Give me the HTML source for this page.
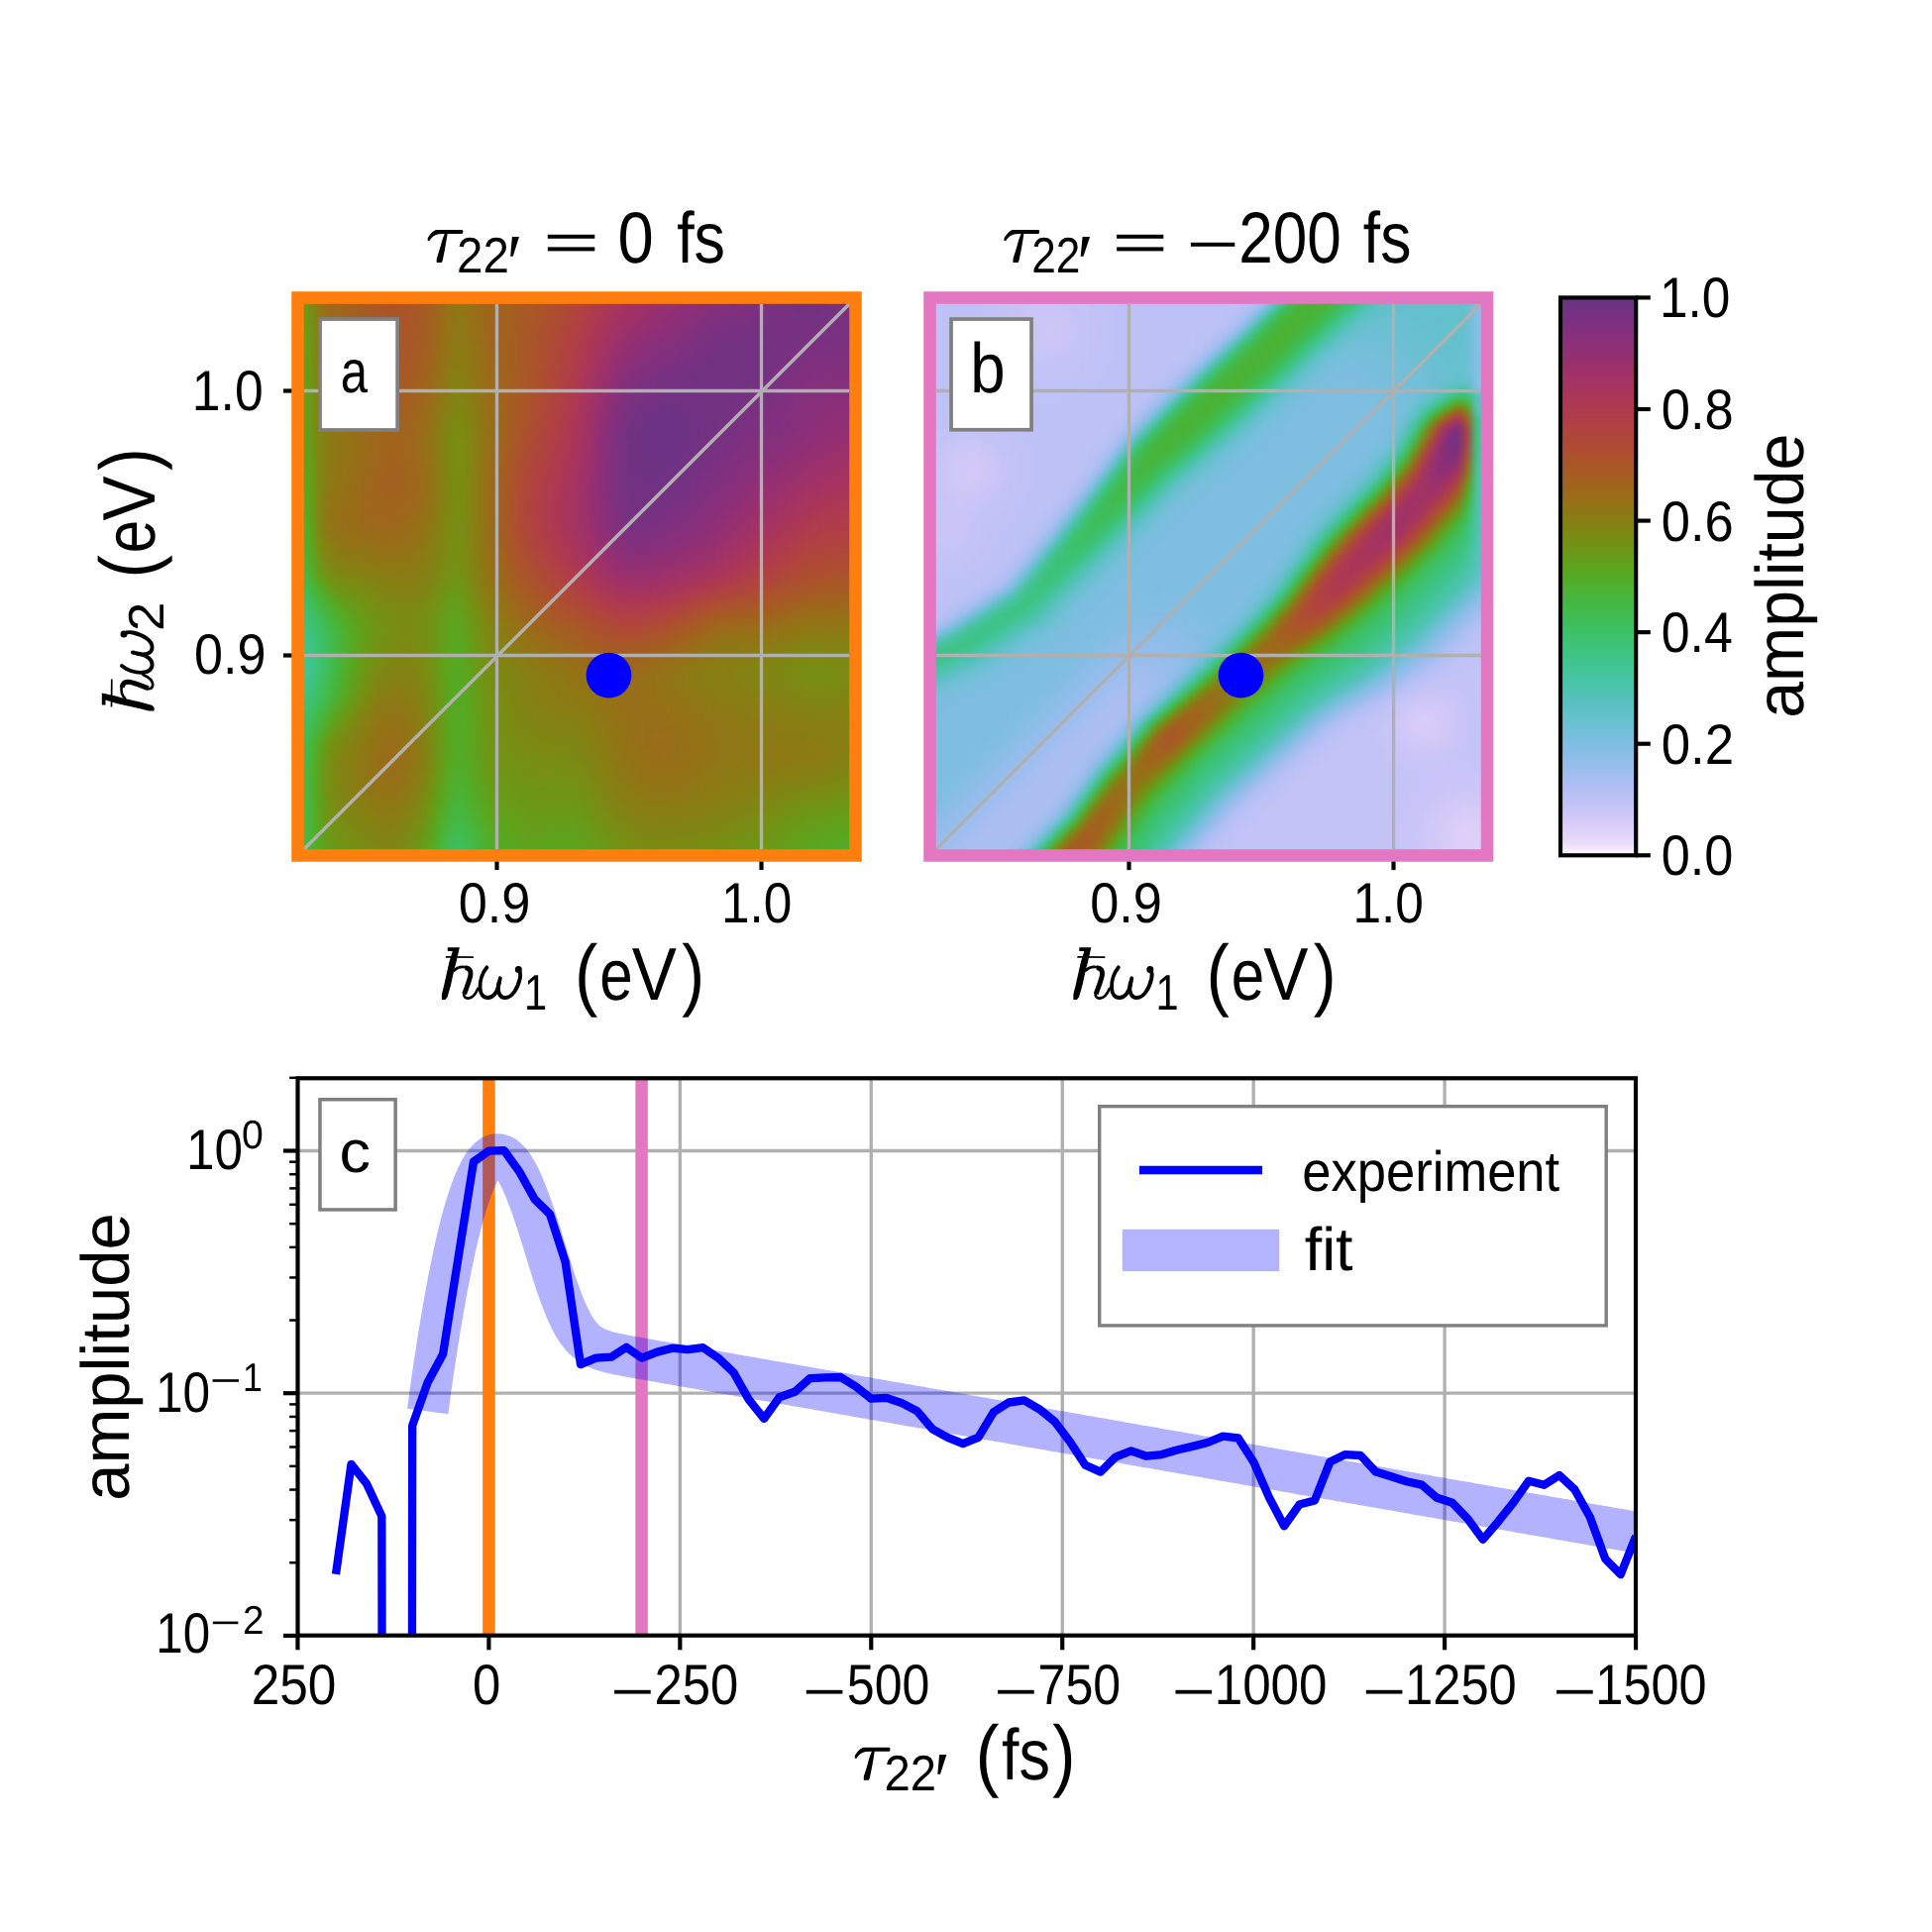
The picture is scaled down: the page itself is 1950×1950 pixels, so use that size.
<!DOCTYPE html><html><head><meta charset="utf-8"><title>figure</title><style>
html,body{margin:0;padding:0;background:#fff}
#fig{position:relative;width:1950px;height:1950px;background:#fff;overflow:hidden}
.hw{position:absolute;top:296px;width:572px;height:572px;overflow:hidden}
.hm{position:absolute;left:-2px;top:-2px;width:576px;height:576px;filter:blur(2.2px)}
.hm i{display:block;height:6px}
svg{position:absolute;left:0;top:0;opacity:0.999}
</style></head><body><div id="fig">
<div class="hw" style="left:296px"><div class="hm"><i style="background:linear-gradient(90deg,#5da41d,#5fa21c,#739215,#8c7a14,#996c19,#9e661c,#a1631e,#a36020,#a55c23,#a85926,#aa5628,#ab542a,#ab542a,#aa5529,#a85826,#a65c23,#a1631e,#996c19,#927416,#907615,#947216,#9a6b19,#9e661c,#a1631e,#a36020,#a55e22,#a65b24,#a85826,#aa5529,#ac512d,#ad4e31,#af4a35,#af463b,#b04241,#af3e49,#ad3a50,#aa3757,#a7345d,#a43362,#a13266,#9e3169,#9c316c,#99306e,#963071,#933074,#8f2f76,#8c2f78,#882f7a,#862f7c,#83307d,#82307d,#80307e,#7e307f,#7c3080,#7a3080,#773181,#743182,#723182,#713283,#723182,#733182,#753182,#773181,#783181,#793181)"></i><i style="background:linear-gradient(90deg,#5da41d,#5ea31c,#729215,#8c7b14,#996c19,#9e661c,#a1631e,#a36020,#a55c23,#a85926,#aa5628,#ab542a,#ab542a,#aa5529,#a85826,#a65c23,#a1631e,#996c19,#927416,#907615,#947216,#9a6b19,#9e661c,#a1631e,#a36020,#a55d22,#a75b24,#a85826,#aa5529,#ac512d,#ad4e31,#af4a36,#af463b,#b04142,#af3d49,#ad3951,#aa3658,#a7345e,#a33363,#a13267,#9e316a,#9b316c,#99306f,#953071,#922f74,#8f2f76,#8b2f79,#882f7a,#85307c,#83307d,#81307e,#7f307e,#7e307f,#7c3080,#793180,#773181,#753182,#733182,#723182,#723182,#733182,#753182,#773181,#793181,#793181)"></i><i style="background:linear-gradient(90deg,#5ca51e,#5da41d,#719315,#8b7b14,#996c19,#9e671c,#a0641d,#a36020,#a55d22,#a85926,#aa5628,#ab542a,#ab542a,#aa5529,#a85826,#a55c23,#a1631e,#996c19,#927416,#907615,#947216,#9a6c19,#9e661c,#a1631e,#a36020,#a55d22,#a75b24,#a95727,#aa542a,#ac502e,#ae4d32,#af4937,#b0453c,#b04143,#ae3c4b,#ac3952,#a9365a,#a63460,#a23265,#9f3168,#9c316b,#9a306e,#973070,#943073,#902f75,#8d2f78,#892f7a,#862f7b,#83307d,#81307e,#80307e,#7e307f,#7d307f,#7b3080,#793181,#773181,#753182,#733182,#723182,#733182,#743182,#763182,#773181,#793181,#793181)"></i><i style="background:linear-gradient(90deg,#5ba61f,#5ca51e,#709415,#8b7c14,#996d18,#9e671b,#a0641d,#a2611f,#a55d22,#a85925,#a95628,#aa542a,#ab542a,#aa5529,#a85826,#a55c22,#a0631e,#996d19,#917515,#8f7715,#937316,#996c19,#9e671c,#a1631e,#a36020,#a55d22,#a75a24,#a95727,#ab532b,#ad502e,#ae4c33,#af4838,#b0443e,#af4045,#ae3b4d,#ab3854,#a8355c,#a43362,#a03267,#9d316a,#9a306d,#983070,#953072,#912f75,#8e2f77,#8b2f79,#872f7b,#84307c,#81307e,#7f307e,#7e307f,#7c307f,#7b3080,#7a3080,#783181,#773181,#753182,#743182,#733182,#743182,#753182,#763181,#783181,#793181,#793181)"></i><i style="background:linear-gradient(90deg,#59a71f,#5ba61e,#6f9516,#8a7c14,#986d18,#9d671b,#a0641d,#a2611f,#a55d22,#a85925,#a95628,#aa542a,#aa542a,#aa5529,#a85826,#a55d22,#a0641d,#996d18,#917515,#8f7715,#937316,#996c19,#9e671b,#a1631e,#a36020,#a55d22,#a75a25,#a95628,#ab532b,#ad4f2f,#ae4b34,#af4739,#b04340,#af3e47,#ad3a4f,#aa3757,#a7345e,#a23264,#9e3169,#9b306c,#98306f,#953072,#922f74,#8f2f76,#8c2f78,#882f7a,#85307c,#81307d,#7f307e,#7d307f,#7c3080,#7b3080,#7a3080,#793181,#773181,#763181,#753182,#753182,#743182,#753182,#763182,#773181,#783181,#793181,#793180)"></i><i style="background:linear-gradient(90deg,#58a820,#59a71f,#6e9616,#897d14,#986e18,#9d681b,#9f651d,#a2611f,#a55d22,#a75925,#a95628,#aa542a,#aa542a,#aa5628,#a85826,#a55d22,#a0641d,#986d18,#917515,#8f7815,#937316,#996d18,#9d671b,#a0631e,#a36020,#a55d22,#a75a25,#a95628,#ab522c,#ad4e30,#af4a35,#af463b,#b04142,#af3d49,#ad3951,#a93659,#a53361,#a03267,#9c316b,#99306f,#953071,#923074,#8f2f76,#8c2f78,#892f7a,#85307c,#82307d,#7f307f,#7c307f,#7b3080,#7a3080,#793181,#783181,#773181,#773181,#763181,#763182,#753182,#753182,#763181,#773181,#783181,#793181,#7a3080,#7a3080)"></i><i style="background:linear-gradient(90deg,#57a922,#58a820,#6d9716,#887e13,#976f18,#9c681b,#9f651d,#a2621f,#a55e22,#a75a25,#a95628,#aa542a,#aa542a,#aa5628,#a85926,#a55d22,#a0641d,#986e18,#907615,#8e7815,#927416,#986d18,#9d681b,#a0641d,#a36020,#a55d22,#a75925,#aa5529,#ac512d,#ae4d31,#af4937,#b0453d,#b04043,#ae3c4b,#ac3853,#a8355c,#a33363,#9e3169,#9a306e,#963071,#933074,#902f76,#8d2f78,#892f7a,#862f7b,#83307d,#7f307e,#7c307f,#7a3080,#793181,#783181,#773181,#763181,#763181,#763181,#763181,#763181,#763181,#773181,#773181,#783181,#793181,#793180,#7a3080,#7a3080)"></i><i style="background:linear-gradient(90deg,#56aa23,#57a922,#6c9817,#887f13,#976f17,#9c691a,#9f651c,#a1621e,#a45e21,#a75a25,#a95728,#aa5529,#aa5529,#a95628,#a85925,#a55e22,#9f651d,#986e18,#907615,#8e7914,#927416,#986e18,#9d681b,#a0641d,#a36020,#a55d22,#a85925,#aa5529,#ac512d,#ae4c32,#af4838,#b0443e,#af3f45,#ae3b4d,#ab3756,#a7345e,#a13266,#9c316c,#973070,#933073,#902f76,#8d2f78,#8a2f79,#862f7b,#83307d,#80307e,#7d307f,#7a3080,#783181,#773181,#763181,#753182,#753182,#753182,#753182,#763181,#773181,#773181,#783181,#783181,#793181,#7a3080,#7a3080,#7b3080,#7b3080)"></i><i style="background:linear-gradient(90deg,#54ab25,#56aa23,#6b9917,#877f13,#967017,#9c691a,#9e661c,#a1621e,#a45e21,#a75a24,#a95727,#aa5529,#aa5529,#a95628,#a75925,#a45e21,#9f651d,#976f18,#8f7715,#8d7914,#917515,#976e18,#9c681b,#a0641d,#a36020,#a55d22,#a85926,#aa5529,#ac502e,#ae4c33,#af4739,#b04340,#af3e47,#ad3a4f,#aa3658,#a53360,#9f3168,#9a306e,#953072,#912f75,#8d2f77,#8a2f79,#872f7b,#84307c,#81307e,#7d307f,#7a3080,#783181,#763181,#753182,#743182,#743182,#743182,#753182,#753182,#763181,#773181,#783181,#793181,#7a3080,#7a3080,#7b3080,#7b3080,#7b3080,#7b3080)"></i><i style="background:linear-gradient(90deg,#54ab25,#55aa24,#6a9917,#868013,#967017,#9b6a1a,#9e661c,#a1631e,#a45f21,#a75b24,#a95727,#aa5529,#aa5529,#a95727,#a75a25,#a45f21,#9f661c,#966f17,#8f7815,#8c7a14,#917615,#976f18,#9c691a,#a0641d,#a3611f,#a55d22,#a85926,#aa542a,#ad502e,#ae4b34,#af463a,#b04241,#af3d49,#ad3951,#a9365a,#a43363,#9d316a,#973070,#922f74,#8e2f77,#8a2f79,#872f7b,#84307c,#81307e,#7e307f,#7b3080,#793181,#763181,#753182,#743182,#733182,#733182,#743182,#743182,#753182,#773181,#783181,#793180,#7a3080,#7b3080,#7c3080,#7c3080,#7c307f,#7c307f,#7c307f)"></i><i style="background:linear-gradient(90deg,#54ab25,#56aa23,#6a9917,#868013,#957117,#9b6a1a,#9e671c,#a1631e,#a45f21,#a65b24,#a85826,#a95628,#a95628,#a85827,#a75b24,#a35f20,#9e671c,#967017,#8e7914,#8b7b14,#907615,#966f17,#9c691a,#9f651d,#a2611f,#a55d22,#a85926,#aa542a,#ad4f2f,#ae4b35,#af463b,#b04142,#af3d4a,#ac3853,#a8355c,#a23265,#9b316c,#953072,#8f2f76,#8b2f79,#872f7b,#84307c,#82307d,#7f307f,#7c3080,#793180,#773181,#753182,#743182,#733182,#733182,#733182,#733182,#743182,#763182,#773181,#793181,#7b3080,#7c3080,#7d307f,#7d307f,#7d307f,#7e307f,#7e307f,#7e307f)"></i><i style="background:linear-gradient(90deg,#55aa25,#56a923,#6a9917,#868013,#957117,#9b6a1a,#9e671b,#a0631e,#a36020,#a65c23,#a85826,#a95727,#a95727,#a85826,#a65b23,#a36020,#9d681b,#957117,#8d7a14,#8a7c14,#8f7715,#967017,#9b6a1a,#9f651d,#a2611f,#a55d22,#a85926,#ab542a,#ad4f2f,#af4a35,#b0453c,#b04143,#ae3c4b,#ab3854,#a7345e,#a03267,#99306e,#922f74,#8c2f78,#882f7a,#85307c,#82307d,#7f307e,#7d307f,#7a3080,#783181,#763182,#743182,#733182,#723182,#723182,#733182,#733182,#743182,#763181,#783181,#7a3080,#7c3080,#7d307f,#7e307f,#7f307f,#7f307e,#7f307e,#7f307e,#7f307e)"></i><i style="background:linear-gradient(90deg,#55aa24,#56a923,#6a9917,#858113,#957117,#9a6b19,#9d671b,#a0641d,#a36020,#a65c23,#a85925,#a95727,#a95727,#a85925,#a65c23,#a2611f,#9c691b,#947216,#8b7b14,#897d14,#8e7815,#957117,#9b6a1a,#9f651c,#a2611f,#a55d22,#a85926,#ab542a,#ad4f30,#af4a36,#b0453d,#af4044,#ae3b4d,#ab3756,#a63460,#9f3169,#973070,#902f76,#8a2f79,#85307c,#82307d,#7f307e,#7d307f,#7a3080,#783181,#763181,#753182,#733182,#733182,#723182,#723182,#733182,#743182,#753182,#773181,#793181,#7b3080,#7d307f,#7f307f,#80307e,#80307e,#81307e,#81307e,#81307e,#81307e)"></i><i style="background:linear-gradient(90deg,#55aa24,#56a923,#6a9917,#858113,#947216,#9a6b19,#9d681b,#a0641d,#a36020,#a55d22,#a75a25,#a85826,#a85826,#a75a24,#a55d22,#a1621e,#9b6a1a,#927416,#8a7c14,#887e13,#8d7914,#947117,#9a6b19,#9f661c,#a2611f,#a55d22,#a85826,#ab542a,#ad4e30,#af4936,#b0443d,#af3f45,#ae3b4e,#aa3758,#a53361,#9d316a,#953072,#8d2f77,#872f7b,#82307d,#7f307e,#7d307f,#7a3080,#783181,#773181,#753182,#743182,#733182,#723182,#723182,#733182,#733182,#743182,#763182,#783181,#7a3080,#7c307f,#7f307f,#80307e,#81307d,#82307d,#82307d,#82307d,#82307d,#82307d)"></i><i style="background:linear-gradient(90deg,#55aa24,#56a923,#6a9917,#858113,#947216,#9a6b19,#9d681b,#9f651d,#a2611f,#a55d22,#a75b24,#a85925,#a75925,#a65b24,#a45e21,#a1631e,#9a6b19,#917515,#897d14,#877f13,#8c7a14,#947216,#9a6b19,#9e661c,#a2621f,#a55d22,#a85826,#ab532b,#ad4e30,#af4937,#b0443e,#af3f46,#ad3a4f,#a93659,#a33363,#9b316c,#933074,#8a2f79,#84307c,#80307e,#7d307f,#7a3080,#783181,#773181,#753182,#743182,#733182,#723182,#723182,#723182,#733182,#743182,#753182,#763181,#783181,#7b3080,#7e307f,#80307e,#82307d,#83307d,#84307d,#84307c,#84307c,#84307c,#84307c)"></i><i style="background:linear-gradient(90deg,#55aa24,#56a923,#6a9917,#848213,#937316,#996c19,#9c691b,#9f651c,#a2621f,#a45e21,#a65b23,#a75a25,#a75a24,#a65c23,#a35f20,#a0641d,#996c19,#907615,#887f13,#868113,#8b7b14,#937316,#996c19,#9e661c,#a2621f,#a55d22,#a85826,#ab532b,#ad4e31,#af4837,#b0433f,#af3e47,#ad3a50,#a9365a,#a23264,#9a306e,#912f75,#882f7a,#81307d,#7d307f,#7a3080,#783181,#763181,#753182,#743182,#733182,#723182,#723182,#723182,#733182,#733182,#743182,#753182,#773181,#793180,#7c3080,#7f307f,#81307e,#83307d,#84307c,#85307c,#85307c,#862f7c,#862f7b,#862f7b)"></i><i style="background:linear-gradient(90deg,#55aa24,#56a923,#699a17,#838313,#937416,#996d18,#9c691a,#9e661c,#a1631e,#a45f20,#a55c23,#a65b24,#a65b23,#a55d22,#a36020,#9f651c,#986d18,#8f7715,#868013,#848213,#8a7c14,#927416,#996d19,#9e671b,#a2621f,#a55d22,#a85826,#ab532b,#ae4d31,#af4838,#b04340,#af3e48,#ad3951,#a8355c,#a13266,#98306f,#8f2f77,#862f7c,#7f307e,#7b3080,#783181,#763182,#743182,#733182,#723182,#723182,#723182,#723182,#723182,#733182,#743182,#753182,#763181,#783181,#7a3080,#7d307f,#80307e,#82307d,#84307c,#862f7b,#872f7b,#872f7b,#872f7b,#872f7b,#882f7b)"></i><i style="background:linear-gradient(90deg,#55aa24,#56a923,#699a17,#838313,#927516,#986e18,#9b6a1a,#9d671b,#a0641d,#a36020,#a55e22,#a65c23,#a55d22,#a45e21,#a2621f,#9e671c,#976f18,#8d7914,#858113,#838313,#897d14,#917515,#986d18,#9d671b,#a2621f,#a55d22,#a95727,#ab522c,#ae4d32,#af4739,#b04241,#af3d49,#ac3953,#a7355d,#a03267,#973070,#8d2f78,#84307d,#7d307f,#783181,#763182,#743182,#723182,#723182,#713283,#713283,#723183,#723182,#733182,#733182,#743182,#753182,#773181,#793181,#7b3080,#7e307f,#81307e,#83307d,#86307c,#872f7b,#882f7a,#892f7a,#892f7a,#892f7a,#892f7a)"></i><i style="background:linear-gradient(90deg,#55aa24,#56a922,#699a18,#828413,#917615,#976f17,#9a6b19,#9d681b,#9f651d,#a2611f,#a45f21,#a55d22,#a45e21,#a36020,#a1631e,#9d681b,#967017,#8c7a14,#838313,#818513,#887f13,#907615,#986e18,#9d671b,#a2621f,#a55c23,#a95727,#ac512d,#ae4c33,#af463a,#b04142,#af3d4a,#ac3854,#a7345e,#9f3168,#953072,#8b2f79,#82307d,#7b3080,#763181,#743182,#723182,#713283,#703283,#703283,#713283,#713283,#723182,#733182,#743182,#753182,#763181,#783181,#7a3080,#7c3080,#7f307e,#82307d,#84307c,#872f7b,#882f7a,#892f7a,#8a2f79,#8b2f79,#8b2f79,#8b2f79)"></i><i style="background:linear-gradient(90deg,#55aa24,#57a922,#699a18,#818513,#8f7715,#957017,#996d18,#9b6a1a,#9e661c,#a1631e,#a36020,#a45f21,#a45f21,#a2611f,#a0641d,#9c691a,#957117,#8a7c14,#818413,#808613,#868013,#907715,#976e18,#9d681b,#a2621f,#a65c23,#a95628,#ac502e,#ae4b34,#af463b,#b04143,#ae3c4b,#ab3855,#a6345f,#9e316a,#943073,#892f7a,#80307e,#793181,#753182,#723182,#703283,#703283,#6f3283,#703283,#703283,#713283,#723182,#733182,#743182,#763182,#773181,#793181,#7b3080,#7d307f,#80307e,#83307d,#85307c,#882f7b,#892f7a,#8b2f79,#8c2f78,#8c2f78,#8d2f78,#8d2f77)"></i><i style="background:linear-gradient(90deg,#55aa24,#57a922,#689b18,#808613,#8e7815,#947216,#976e18,#9a6b19,#9d671b,#a0641d,#a2611f,#a36020,#a36020,#a1621e,#9f661c,#9a6b19,#937316,#897d14,#808613,#7e8713,#858113,#8f7815,#976f17,#9d681b,#a2621f,#a65b23,#aa5529,#ad502f,#af4a35,#b0453c,#af4044,#ae3b4d,#ab3756,#a53360,#9d316b,#933074,#882f7a,#7e307f,#773181,#733182,#703283,#6f3283,#6e3283,#6e3283,#6f3283,#703283,#713283,#733182,#743182,#753182,#773181,#783181,#7a3080,#7c3080,#7e307f,#81307e,#84307c,#862f7b,#882f7a,#8a2f79,#8c2f78,#8d2f77,#8e2f77,#8f2f76,#8f2f76)"></i><i style="background:linear-gradient(90deg,#56aa23,#57a922,#689b18,#7f8713,#8d7914,#937316,#967017,#996c19,#9c691a,#9f651c,#a1631e,#a2611f,#a2621f,#a0641d,#9e671c,#996c19,#927416,#887f13,#7e8713,#7d8913,#848213,#8e7914,#967017,#9d681b,#a2611f,#a65b24,#aa5529,#ad4f30,#af4937,#b0443e,#af3f45,#ae3b4e,#aa3757,#a43361,#9c316c,#912f75,#862f7b,#7d307f,#763182,#713283,#6f3283,#6e3283,#6d3283,#6e3283,#6e3283,#703283,#713283,#733182,#743182,#763181,#773181,#793181,#7b3080,#7d307f,#7f307e,#82307d,#85307c,#872f7b,#892f7a,#8b2f78,#8d2f77,#8e2f77,#902f76,#912f75,#912f75)"></i><i style="background:linear-gradient(90deg,#56a923,#57a922,#689b18,#7e8813,#8c7b14,#927416,#957117,#986e18,#9b6a1a,#9e671c,#a0641d,#a1621e,#a1631e,#9f651d,#9d681b,#986d18,#917515,#868013,#7d8913,#7b8a13,#828413,#8d7914,#967017,#9c681b,#a2611f,#a75a24,#ab542a,#ad4e31,#af4838,#b0433f,#af3e47,#ad3a4f,#aa3658,#a43363,#9b306d,#902f75,#85307c,#7b3080,#743182,#703283,#6e3283,#6d3283,#6d3283,#6d3283,#6e3283,#703283,#713283,#733182,#753182,#773181,#783181,#7a3080,#7c3080,#7e307f,#80307e,#83307d,#862f7b,#882f7a,#8b2f79,#8d2f78,#8e2f77,#902f75,#912f75,#933074,#933074)"></i><i style="background:linear-gradient(90deg,#57a922,#58a821,#689b18,#7d8813,#8b7c14,#917615,#947216,#976f18,#9a6b19,#9d681b,#9f651d,#a0631e,#a0641d,#9f651c,#9c691a,#986e18,#907615,#858113,#7b8a13,#7a8b13,#818513,#8c7a14,#957117,#9c681b,#a2611f,#a75925,#ab532b,#ae4d32,#af4739,#b04240,#af3e48,#ad3a50,#a93659,#a33364,#9a306d,#8f2f76,#84307c,#7a3080,#733182,#6f3283,#6d3283,#6c3284,#6c3284,#6d3283,#6e3283,#703283,#723182,#743182,#763181,#783181,#793080,#7b3080,#7d307f,#7f307e,#82307d,#84307c,#872f7b,#8a2f79,#8c2f78,#8e2f77,#902f75,#922f74,#933073,#953072,#953072)"></i><i style="background:linear-gradient(90deg,#58a821,#59a720,#689b18,#7d8813,#8a7c14,#907615,#937316,#966f17,#9a6c19,#9d681b,#9f651c,#a0641d,#a0641d,#9e661c,#9c691a,#976f18,#8f7715,#848213,#7a8b13,#798c14,#818513,#8b7b14,#957117,#9d681b,#a36020,#a85926,#ac522c,#ae4b33,#af463b,#b04142,#af3d49,#ad3951,#a9355b,#a23264,#99306e,#8e2f77,#83307d,#793181,#723182,#6e3283,#6c3283,#6c3284,#6c3284,#6c3283,#6e3283,#703283,#723182,#753182,#773181,#793181,#7b3080,#7d307f,#7f307f,#81307e,#83307d,#862f7b,#892f7a,#8b2f79,#8e2f77,#902f76,#922f74,#943073,#953072,#973070,#973070)"></i><i style="background:linear-gradient(90deg,#56aa23,#57a922,#679c19,#7c8913,#8a7d14,#907715,#937316,#967017,#996c19,#9c681b,#9f651c,#a0641d,#a0641d,#9e661c,#9b6a1a,#976f18,#8f7715,#848213,#7a8b13,#798d14,#808613,#8b7b14,#957117,#9d681b,#a36020,#a85826,#ac512e,#af4a35,#b0453c,#b04043,#ae3c4b,#ac3953,#a8355c,#a23265,#98306f,#8d2f77,#82307d,#783181,#723283,#6e3283,#6c3284,#6c3284,#6c3284,#6d3283,#6e3283,#713283,#733182,#753182,#783181,#7a3080,#7c3080,#7e307f,#80307e,#83307d,#85307c,#882f7a,#8b2f79,#8d2f77,#902f76,#922f74,#943073,#963071,#983070,#99306f,#99306e)"></i><i style="background:linear-gradient(90deg,#54ab26,#55aa24,#659d19,#7c8a13,#897d14,#907715,#937316,#967017,#996c19,#9d681b,#9f651c,#a0641d,#a0641d,#9e661c,#9c691a,#976f18,#8f7715,#848213,#7a8b13,#788d14,#808613,#8b7b14,#957117,#9d681b,#a45f21,#a95727,#ad4f2f,#af4936,#b0443e,#af4045,#ae3c4c,#ac3854,#a7355d,#a13266,#983070,#8d2f78,#81307d,#783181,#713283,#6e3283,#6c3284,#6c3284,#6c3284,#6d3283,#6f3283,#713283,#743182,#763181,#793181,#7b3080,#7d307f,#80307e,#82307d,#85307c,#872f7b,#8a2f79,#8d2f78,#8f2f76,#922f74,#943072,#963071,#98306f,#9a306e,#9b306c,#9c316c)"></i><i style="background:linear-gradient(90deg,#53ac27,#54ab26,#649e1a,#7b8a13,#897d14,#907615,#937316,#966f17,#9a6b19,#9d681b,#9f651d,#a0631e,#a0641d,#9f661c,#9c691a,#976e18,#8f7715,#848213,#7a8b13,#788d14,#808613,#8b7b14,#957117,#9d671b,#a45e21,#aa5628,#ad4e30,#af4838,#b0433f,#af3f46,#ae3b4e,#ab3855,#a7345e,#a03267,#973070,#8c2f78,#81307e,#783181,#713283,#6e3283,#6c3283,#6c3283,#6d3283,#6e3283,#703283,#723182,#753182,#783181,#7a3080,#7d307f,#7f307e,#81307d,#84307c,#872f7b,#892f7a,#8c2f78,#8f2f76,#922f74,#943072,#973070,#99306f,#9b306d,#9c316b,#9e316a,#9e316a)"></i><i style="background:linear-gradient(90deg,#51ad29,#52ac28,#639f1a,#7b8a13,#8a7d14,#907615,#947216,#976f18,#9a6b19,#9d671b,#a0641d,#a1631e,#a1631e,#9f651d,#9c681b,#986e18,#907715,#848213,#7a8b13,#798d14,#808613,#8b7b14,#967017,#9e671c,#a55d22,#aa5529,#ae4d31,#af4739,#b04241,#af3e48,#ad3a4f,#ab3756,#a6345f,#a03168,#973071,#8c2f78,#81307e,#773181,#713283,#6e3283,#6d3283,#6d3283,#6e3283,#6f3283,#713283,#743182,#763181,#793181,#7b3080,#7e307f,#81307e,#83307d,#862f7b,#892f7a,#8c2f78,#8f2f76,#922f74,#943072,#973070,#99306e,#9b316c,#9d316a,#9f3169,#a03267,#a03267)"></i><i style="background:linear-gradient(90deg,#50ae2b,#51ad29,#62a01a,#7b8b13,#8a7c14,#917615,#947216,#976e18,#9b6a1a,#9e671c,#a0641d,#a1621e,#a1621e,#a0641d,#9d681b,#986d18,#907615,#858113,#7b8b13,#798c14,#808613,#8c7b14,#967017,#9e661c,#a55d22,#ab542a,#ae4c33,#af463b,#b04143,#af3d49,#ad3a50,#aa3757,#a63460,#9f3168,#963071,#8b2f79,#80307e,#773181,#713283,#6e3283,#6e3283,#6e3283,#6f3283,#703283,#723182,#753182,#773181,#7a3080,#7d307f,#80307e,#82307d,#85307c,#882f7a,#8b2f79,#8e2f77,#912f75,#943073,#973070,#9a306e,#9c316c,#9e316a,#9f3168,#a13266,#a23265,#a23264)"></i><i style="background:linear-gradient(90deg,#4fae2c,#51ae2a,#61a01b,#7b8a13,#8a7c14,#917515,#957117,#986e18,#9b6a1a,#9e661c,#a1631e,#a2621f,#a2621f,#a0641d,#9d681b,#986d18,#907615,#858113,#7b8b13,#798c14,#808513,#8c7a14,#967017,#9f651c,#a65c23,#ab532b,#ae4b34,#b0453c,#af4044,#ae3c4b,#ad3951,#aa3659,#a53360,#9e3169,#953071,#8b2f79,#80307e,#773181,#723183,#6f3283,#6e3283,#6f3283,#703283,#713283,#743182,#763181,#793181,#7c3080,#7e307f,#81307e,#84307c,#872f7b,#8a2f79,#8d2f77,#902f75,#943073,#973070,#9a306e,#9c316c,#9e3169,#a03267,#a23265,#a33363,#a43362,#a43362)"></i><i style="background:linear-gradient(90deg,#4faf2d,#50ae2c,#61a11b,#7b8a13,#8b7b14,#927416,#957117,#986d18,#9c691a,#9f661c,#a1631e,#a2611f,#a2621f,#a0641d,#9d671b,#996d18,#917615,#858113,#7b8a13,#798c14,#818513,#8c7a14,#966f17,#9f651d,#a65b24,#ac522c,#af4a35,#b0443e,#af3f45,#ae3c4c,#ac3953,#a93659,#a53361,#9e316a,#953072,#8b2f79,#80307e,#773181,#723182,#703283,#6f3283,#703283,#713283,#733182,#753182,#783181,#7a3080,#7d307f,#80307e,#83307d,#862f7b,#892f7a,#8c2f78,#902f76,#933074,#963071,#99306e,#9c316c,#9e3169,#a13267,#a23264,#a43362,#a53360,#a6345f,#a6345f)"></i><i style="background:linear-gradient(90deg,#4eb02f,#4faf2d,#60a11b,#7b8a13,#8c7b14,#927416,#967017,#996c19,#9c691a,#9f651c,#a1631e,#a2611f,#a2621f,#a0641d,#9d671b,#986d18,#907615,#858113,#7b8a13,#798c14,#818513,#8c7a14,#976f17,#9f651d,#a75b24,#ac512d,#af4a36,#b0433f,#af3f46,#ae3b4d,#ac3854,#a9365a,#a43362,#9e316a,#953072,#8a2f79,#80307e,#783181,#723182,#703283,#703283,#713283,#723182,#743182,#763181,#793181,#7c3080,#7f307f,#82307d,#85307c,#882f7a,#8b2f78,#8f2f76,#922f74,#953072,#99306f,#9c316c,#9e3169,#a13266,#a33264,#a43361,#a6345f,#a7345d,#a8355c,#a8355c)"></i><i style="background:linear-gradient(90deg,#4db131,#4eb02f,#5fa21c,#7b8a13,#8c7a14,#937316,#976f17,#996c19,#9c691b,#9f651c,#a1631e,#a2621f,#a1621e,#a0641d,#9d681b,#986d18,#907615,#858113,#7b8a13,#798c14,#818513,#8c7a14,#976f18,#a0641d,#a75a24,#ac512d,#af4937,#b0433f,#af3e47,#ae3b4e,#ac3854,#a8355b,#a43362,#9d316a,#943072,#8a2f79,#80307e,#783181,#733182,#713283,#713283,#723182,#743182,#763182,#783181,#7b3080,#7e307f,#81307e,#84307c,#872f7b,#8a2f79,#8e2f77,#912f75,#953072,#98306f,#9b306c,#9e3169,#a13266,#a33363,#a53361,#a6345e,#a8355c,#a9355a,#a93659,#aa3659)"></i><i style="background:linear-gradient(90deg,#4cb132,#4db130,#5fa31c,#7c8a13,#8d7914,#947216,#976f18,#9a6c19,#9c681b,#9f651c,#a1631e,#a1621e,#a1631e,#9f651d,#9c681b,#986e18,#907615,#858113,#7b8a13,#798c14,#818513,#8c7a14,#976f18,#a0641d,#a75a24,#ac512d,#af4937,#b04340,#af3e48,#ae3b4e,#ab3855,#a8355b,#a33363,#9d316b,#943072,#8a2f79,#80307e,#783181,#743182,#723182,#723182,#733182,#753182,#773181,#7a3080,#7d307f,#80307e,#83307d,#862f7b,#892f7a,#8d2f78,#902f75,#943073,#973070,#9a306d,#9e316a,#a13267,#a33363,#a53460,#a7345e,#a8355b,#a93659,#aa3757,#ab3756,#ab3756)"></i><i style="background:linear-gradient(90deg,#4bb234,#4cb132,#5ea31d,#7c8a13,#8e7914,#957117,#986e18,#9a6b19,#9c681b,#9f661c,#a0641d,#a1631e,#a0641d,#9e661c,#9c691a,#976f18,#8f7715,#848213,#7b8b13,#798c14,#818513,#8c7a14,#976f18,#a0641d,#a75a25,#ac512e,#af4937,#b04240,#af3e48,#ad3a4f,#ab3755,#a8355c,#a33363,#9d316b,#943073,#8a2f79,#81307e,#793181,#743182,#733182,#733182,#753182,#773181,#793181,#7c3080,#7f307f,#82307d,#85307c,#882f7a,#8c2f78,#8f2f76,#933074,#963071,#9a306e,#9d316b,#a03267,#a33364,#a53460,#a7355d,#a9365a,#aa3658,#ab3756,#ac3854,#ac3953,#ac3952)"></i><i style="background:linear-gradient(90deg,#4ab336,#4bb234,#5da41d,#7c8a13,#8e7815,#957117,#986d18,#9a6b19,#9c681b,#9e661c,#a0651d,#a0641d,#9f651d,#9e671b,#9b6a1a,#967017,#8f7815,#848213,#7a8b13,#798c14,#818513,#8c7a14,#976f18,#a0641d,#a75a25,#ac512e,#af4937,#b04240,#af3e48,#ad3a4f,#ab3755,#a8355c,#a33363,#9d316b,#943073,#8a2f79,#81307e,#7a3080,#753182,#743182,#753182,#763181,#783181,#7b3080,#7e307f,#81307e,#84307c,#872f7b,#8a2f79,#8e2f77,#922f74,#953072,#99306f,#9c316b,#9f3168,#a23264,#a53361,#a7355d,#a9365a,#aa3757,#ab3855,#ac3953,#ad3951,#ad3a50,#ad3a4f)"></i><i style="background:linear-gradient(90deg,#48b439,#49b336,#5ca51e,#7c8a13,#8e7815,#967017,#986d18,#9a6b19,#9c691a,#9e671b,#9f661c,#9f651c,#9e661c,#9d681b,#9a6b19,#957117,#8e7814,#838313,#7a8b13,#798c14,#818513,#8c7a14,#976f18,#a0641d,#a75a24,#ac512d,#af4937,#b04240,#af3e48,#ad3a4f,#ab3755,#a8355c,#a33363,#9d316b,#943072,#8b2f79,#82307d,#7b3080,#763181,#753182,#763181,#783181,#7a3080,#7d307f,#80307e,#83307d,#862f7b,#892f7a,#8d2f78,#902f75,#943073,#983070,#9b306c,#9f3169,#a23265,#a53361,#a7345d,#a9365a,#ab3756,#ac3853,#ad3951,#ad3a4f,#ae3b4e,#ae3c4c,#ae3c4c)"></i><i style="background:linear-gradient(90deg,#47b53c,#48b439,#5aa61f,#7b8a13,#8e7815,#967017,#986d18,#9a6b19,#9c691a,#9d681b,#9e671c,#9e671c,#9d671b,#9b6a1a,#996d18,#947216,#8d7914,#838313,#7a8c13,#798c14,#818513,#8c7a14,#976f17,#a0641d,#a75a24,#ac512d,#af4937,#b04340,#af3e48,#ad3a4f,#ab3755,#a8355c,#a33363,#9d316b,#953072,#8c2f78,#83307d,#7c3080,#783181,#773181,#783181,#7a3080,#7c307f,#7f307e,#82307d,#85307c,#882f7a,#8c2f78,#8f2f76,#933074,#973071,#9a306d,#9e316a,#a13266,#a43362,#a7345e,#a9365a,#ab3756,#ac3953,#ad3a50,#ae3b4e,#ae3c4c,#af3d4a,#af3d49,#af3d49)"></i><i style="background:linear-gradient(90deg,#45b740,#46b63d,#58a821,#7a8c13,#8e7914,#957117,#986e18,#996c19,#9b6a1a,#9c691a,#9d681b,#9d681b,#9c691a,#9a6b19,#976e18,#937316,#8c7a14,#828413,#798c14,#788d14,#808613,#8c7a14,#976f17,#9f651d,#a75b24,#ac512d,#af4936,#b0433f,#af3e47,#ae3b4e,#ab3855,#a8355b,#a43363,#9d316a,#963071,#8d2f78,#84307c,#7d307f,#7a3080,#793181,#7a3080,#7c307f,#7f307f,#82307d,#84307c,#882f7b,#8b2f79,#8e2f77,#922f74,#953072,#99306e,#9d316b,#a03267,#a33363,#a6345f,#a9355b,#ab3757,#ac3953,#ad3a4f,#ae3c4c,#af3d4a,#af3e48,#af3e47,#af3f46,#af3f46)"></i><i style="background:linear-gradient(90deg,#44b843,#45b741,#56aa23,#788d14,#8c7a14,#947216,#976f17,#986d18,#996c19,#9a6b19,#9b6a1a,#9b6a1a,#9a6b19,#996d18,#967017,#927416,#8b7b14,#818513,#798d14,#788d14,#808613,#8c7b14,#966f17,#9f651d,#a65b24,#ac522c,#af4a35,#b0443e,#af3f46,#ae3b4d,#ac3854,#a9355a,#a43362,#9e3169,#973070,#8e2f77,#862f7b,#80307e,#7c307f,#7c3080,#7d307f,#7f307e,#82307d,#84307c,#872f7b,#8a2f79,#8e2f77,#912f75,#943072,#98306f,#9c316c,#9f3168,#a33264,#a63460,#a8355c,#aa3757,#ac3853,#ad3a4f,#ae3c4c,#af3d49,#af3e47,#af3f45,#af4044,#b04143,#b04142)"></i><i style="background:linear-gradient(90deg,#44b844,#45b741,#55aa24,#768f14,#8a7c14,#927416,#957117,#967017,#976e18,#996d18,#996c19,#996c19,#996d18,#976f18,#957117,#907615,#8a7d14,#808613,#788d14,#788d14,#808613,#8b7b14,#967017,#9f661c,#a65c23,#ab532b,#ae4b34,#b0453d,#af4044,#ae3c4b,#ac3952,#a93659,#a53460,#a03267,#99306f,#912f75,#892f7a,#83307d,#7f307e,#7f307f,#80307e,#82307d,#85307c,#872f7b,#8a2f79,#8d2f77,#902f75,#943073,#973070,#9b306d,#9e3169,#a23265,#a53361,#a8355c,#aa3658,#ac3854,#ad3a4f,#ae3c4b,#af3e48,#af3f45,#b04043,#b04142,#b04240,#b0433f,#b0433f)"></i><i style="background:linear-gradient(90deg,#43b945,#44b843,#53ab26,#749114,#887f13,#8f7715,#927416,#947216,#957117,#966f17,#976f18,#976e18,#976f17,#957117,#937316,#8f7715,#887e13,#7f8713,#778e14,#778e14,#808613,#8b7b14,#967017,#9e661c,#a55d22,#ab542a,#ae4c33,#af463b,#b04142,#af3d49,#ad3a50,#aa3757,#a7345e,#a13265,#9b306d,#933073,#8c2f78,#862f7b,#83307d,#82307d,#84307d,#862f7c,#882f7a,#8b2f79,#8e2f77,#912f75,#943073,#973070,#9a306d,#9e316a,#a13266,#a43362,#a7345d,#aa3659,#ac3854,#ad3a50,#ae3c4b,#af3e48,#af4044,#b04142,#b04340,#b0443e,#b0443d,#b0453c,#b0453c)"></i><i style="background:linear-gradient(90deg,#42b948,#43b945,#52ad29,#709415,#848213,#8c7a14,#8f7715,#917515,#927416,#947216,#957117,#957117,#947117,#937316,#917515,#8d7914,#877f13,#7e8813,#768e14,#778e14,#7f8713,#8b7c14,#957117,#9e671b,#a45e21,#aa5529,#ad4e31,#af4739,#b04240,#af3e47,#ae3b4e,#ab3855,#a8355c,#a33363,#9d316a,#963071,#8f2f76,#8a2f79,#872f7b,#862f7b,#872f7b,#892f7a,#8c2f78,#8e2f77,#912f75,#943073,#973070,#9a306e,#9d316a,#a03267,#a43362,#a7345e,#a93659,#ab3855,#ad3a50,#ae3c4c,#af3e48,#af4044,#b04241,#b0443e,#b0453c,#af463b,#af473a,#af4739,#af4739)"></i><i style="background:linear-gradient(90deg,#41ba4b,#42b948,#4fae2c,#6d9716,#818513,#897e13,#8c7b14,#8e7914,#8f7715,#917515,#927416,#927416,#927416,#917515,#8f7715,#8c7b14,#858113,#7d8913,#768f14,#768f14,#7f8713,#8a7c14,#957117,#9d681b,#a45f21,#a95728,#ad4f2f,#af4937,#b0443e,#af4045,#ae3c4b,#ac3952,#a93659,#a53360,#9f3168,#99306e,#933074,#8e2f77,#8b2f79,#8a2f79,#8b2f78,#8d2f77,#8f2f76,#922f74,#953072,#973070,#9a306d,#9d316a,#a03267,#a33363,#a6345f,#a9365a,#ab3755,#ad3951,#ae3c4c,#af3e48,#af4044,#b04340,#b0453d,#af463b,#af4739,#af4838,#af4937,#af4a36,#af4a36)"></i><i style="background:linear-gradient(90deg,#40bb4e,#41ba4c,#4db030,#699a18,#7d8913,#858213,#887e13,#8a7c14,#8c7a14,#8e7914,#8f7715,#907615,#907615,#8f7715,#8d7914,#8a7c14,#848213,#7b8a13,#759014,#758f14,#7e8813,#8a7d14,#947216,#9c691a,#a36020,#a85826,#ac512d,#ae4b34,#b0463b,#b04142,#af3e48,#ad3a4f,#ab3756,#a7345e,#a23265,#9c316b,#963071,#922f74,#8f2f76,#8f2f76,#902f76,#912f75,#933073,#963071,#98306f,#9b306d,#9e316a,#a03267,#a33363,#a6345f,#a9355b,#ab3756,#ad3951,#ae3c4c,#af3e48,#b04044,#b04340,#b0453c,#af4739,#af4937,#af4a35,#ae4b34,#ae4c33,#ae4c33,#ae4c33)"></i><i style="background:linear-gradient(90deg,#40bc52,#40bb4f,#4bb233,#659d19,#788d14,#808513,#848213,#868013,#887e13,#8b7c14,#8c7a14,#8d7914,#8d7914,#8d7a14,#8b7b14,#887e13,#828413,#7a8b13,#749114,#759014,#7d8813,#897d14,#937316,#9b6a1a,#a2621f,#a75a25,#ab532b,#ae4d32,#af4739,#b0433f,#af3f45,#ae3c4c,#ac3853,#a9365a,#a43361,#9f3168,#9a306e,#963071,#933073,#933073,#943073,#963071,#983070,#9a306e,#9c316b,#9f3169,#a13266,#a43363,#a6345f,#a9355b,#ab3756,#ad3951,#ae3c4c,#af3e48,#b04043,#b0433f,#b0453b,#af4838,#af4a35,#ae4c33,#ae4d32,#ad4e31,#ad4e30,#ad4f2f,#ad4f2f)"></i><i style="background:linear-gradient(90deg,#3fbd55,#3fbc53,#49b337,#61a11b,#749114,#7c8913,#808613,#828413,#858113,#877f13,#897d14,#8b7c14,#8b7b14,#8a7c14,#897d14,#868013,#808513,#798d14,#729215,#739115,#7c8913,#887e13,#927416,#9a6b19,#a0631e,#a65c23,#aa5529,#ad4f30,#af4a36,#b0453c,#b04142,#af3d49,#ad3a4f,#ab3756,#a7345e,#a23264,#9e316a,#9a306e,#98306f,#983070,#99306f,#9a306d,#9c316c,#9e316a,#a03267,#a33264,#a53361,#a7345d,#a93659,#ab3855,#ad3a51,#ae3c4c,#af3e47,#b04143,#b0433f,#af463b,#af4937,#ae4b34,#ae4d31,#ad4f2f,#ac502e,#ac512d,#ac512d,#ac522c,#ab522c)"></i><i style="background:linear-gradient(90deg,#3ebe5a,#3ebd58,#46b63e,#5aa71f,#6e9616,#778e14,#7b8a13,#7e8813,#818513,#848213,#868013,#887e13,#887e13,#887e13,#877f13,#848213,#7e8713,#778e14,#709415,#729315,#7b8b13,#868013,#907615,#986d18,#9f651c,#a45e21,#a95727,#ac512d,#ae4c33,#af4739,#b0433f,#af4045,#ae3c4b,#ac3952,#a93659,#a63460,#a23265,#9e3169,#9d316b,#9c316b,#9d316a,#9f3169,#a03267,#a23264,#a43361,#a7345e,#a9355b,#aa3757,#ac3853,#ad3a4f,#af3d4a,#af3f46,#b04142,#b0443e,#af473a,#af4936,#ae4c33,#ad4f30,#ac512d,#ab522c,#ab542a,#aa542a,#aa5529,#aa5529,#aa5529)"></i><i style="background:linear-gradient(90deg,#3dbf60,#3dbf5e,#42b948,#52ad29,#659e19,#709415,#768f14,#7a8c13,#7d8913,#808613,#838313,#858113,#868013,#868013,#858113,#828413,#7c8913,#749114,#6e9616,#6f9516,#788d14,#848213,#8f7815,#976f17,#9d671b,#a36020,#a75925,#ab542a,#ad4e30,#af4a35,#af463b,#b04241,#af3e47,#ae3b4d,#ac3854,#a9355b,#a53460,#a33264,#a13266,#a13266,#a23265,#a33363,#a53361,#a6345e,#a8355b,#aa3757,#ac3853,#ad3a4f,#ae3c4b,#af3e47,#b04043,#b0433f,#b0453c,#af4838,#ae4b34,#ad4d31,#ac502e,#ab532b,#aa5529,#a95628,#a95727,#a85826,#a85926,#a85925,#a85925)"></i><i style="background:linear-gradient(90deg,#3dc065,#3dc064,#40bc51,#4bb233,#5ca51e,#699a18,#709415,#759014,#798c14,#7d8913,#808613,#828413,#838313,#838313,#828413,#808613,#7a8b13,#719315,#6b9817,#6c9716,#768f14,#828413,#8d7a14,#957117,#9b6a1a,#a1631e,#a65c23,#a95628,#ac512d,#ae4d32,#af4937,#b0453c,#b04142,#af3e48,#ad3a4f,#ab3855,#a9355a,#a7345e,#a63460,#a63460,#a6345f,#a7355d,#a9355a,#aa3757,#ac3854,#ad3a4f,#ae3c4b,#af3e47,#b04143,#b0433f,#b0453c,#af4739,#af4a35,#ae4c32,#ad4f2f,#ac522c,#aa5529,#a95727,#a85925,#a75b24,#a65c23,#a55c23,#a55d22,#a55d22,#a55d22)"></i><i style="background:linear-gradient(90deg,#3cc16b,#3cc16a,#3ebe59,#46b63d,#54ab26,#61a01b,#6a9917,#709415,#759014,#798c14,#7d8913,#808613,#818513,#818513,#808613,#7d8813,#778e14,#6f9516,#689b18,#699a17,#739115,#808613,#8a7c14,#927416,#996c19,#9f651c,#a45f21,#a85925,#aa542a,#ad502e,#ae4c33,#af4838,#b0443d,#b04143,#af3d49,#ad3a4f,#ac3854,#aa3658,#a93659,#a93659,#aa3658,#ab3756,#ac3853,#ad3a50,#ae3c4c,#af3e47,#b04142,#b0443e,#af463a,#af4937,#ae4b34,#ae4d32,#ad4f2f,#ac512d,#ab542a,#a95727,#a75925,#a65c23,#a45e21,#a35f20,#a36020,#a2611f,#a2611f,#a2611f,#a2621f)"></i><i style="background:linear-gradient(90deg,#3cc271,#3cc170,#3dbf61,#42b947,#4db02f,#59a71f,#649e1a,#6b9817,#719315,#768f14,#7a8b13,#7d8913,#7f8713,#7f8713,#7e8813,#7b8a13,#759014,#6c9717,#659d19,#669c19,#709415,#7d8913,#887e13,#907615,#976f18,#9d681b,#a2621f,#a65c23,#a95727,#ab532b,#ad4f2f,#ae4b33,#af4838,#b0443e,#b04043,#af3d49,#ae3b4e,#ad3951,#ac3952,#ac3952,#ad3951,#ae3b4e,#ae3c4b,#af3e48,#b04043,#b0433e,#af473a,#af4a35,#ae4d32,#ad4f2f,#ac512d,#ab532b,#aa5529,#a95727,#a85925,#a65c23,#a45e21,#a2611f,#a1631e,#a0641d,#9f651d,#9f651c,#9f661c,#9e661c,#9e661c)"></i><i style="background:linear-gradient(90deg,#3cc276,#3cc275,#3cc068,#40bc50,#48b438,#53ab26,#5ea31d,#669c19,#6d9716,#739215,#778e14,#7b8b13,#7d8913,#7d8913,#7c8913,#798c14,#739215,#6a9a17,#62a01a,#639f1a,#6e9616,#7b8b13,#868113,#8e7814,#957117,#9b6b19,#a0651d,#a45f21,#a75a24,#a95628,#ab532b,#ad4f2f,#ae4b34,#af4838,#b0443e,#b04143,#af3e47,#af3d4a,#ae3c4b,#ae3c4b,#af3d49,#af3e47,#af4044,#b04340,#af463b,#af4936,#ae4d31,#ac512d,#ab542a,#a95628,#a85827,#a85925,#a75b24,#a55c23,#a45f21,#a2611f,#a0641e,#9e661c,#9d681b,#9c691a,#9b6a1a,#9b6a1a,#9b6a1a,#9b6b1a,#9b6b1a)"></i><i style="background:linear-gradient(90deg,#3dc27a,#3dc279,#3cc16e,#3ebd58,#45b741,#4eaf2e,#58a821,#61a01b,#699a17,#709415,#759014,#798c14,#7b8a13,#7b8a13,#7b8b13,#778e14,#719315,#679b18,#60a21c,#61a11b,#6b9817,#788d14,#838313,#8c7b14,#927416,#986d18,#9d671b,#a1621e,#a55e22,#a75a25,#a95628,#ab532b,#ad4f2f,#ae4c33,#af4838,#b0453d,#b04241,#b04043,#af4044,#af4044,#b04142,#b04340,#b0453c,#af4838,#ae4b34,#ad4f2f,#ab542a,#a85827,#a65b24,#a55d22,#a45e21,#a35f20,#a36020,#a1621f,#a0641d,#9e661c,#9c691a,#9a6b19,#996d18,#986e18,#976e18,#976f18,#976f18,#976f18,#976f18)"></i><i style="background:linear-gradient(90deg,#3dc37d,#3dc37c,#3cc272,#3dbf5f,#42b948,#4ab235,#54ab26,#5da41d,#669c19,#6e9616,#749114,#788d14,#7a8b13,#7a8b13,#798c13,#768f14,#6f9515,#669d19,#5ea31d,#5fa31c,#699a18,#768f14,#818513,#897d14,#907615,#967017,#9b6a1a,#9f651c,#a2611f,#a55d22,#a75a25,#a95728,#ab532b,#ad502f,#ae4c33,#af4937,#af463b,#b0443d,#b0443e,#b0443d,#af463b,#af4739,#af4a35,#ae4d32,#ac512d,#aa5629,#a75a24,#a45e21,#a2621f,#a0631e,#a0651d,#9f651c,#9e661c,#9d671b,#9c691a,#9a6b19,#986e18,#967017,#947217,#937316,#937316,#937316,#937316,#937316,#937316)"></i><i style="background:linear-gradient(90deg,#3ec382,#3ec381,#3dc278,#3dc066,#40bb50,#47b53b,#50ae2b,#5aa61f,#649e1a,#6c9716,#739215,#778e14,#798c14,#7a8b13,#798c14,#768f14,#6e9516,#649e1a,#5ca51e,#5da41d,#679c18,#749014,#7f8713,#877f13,#8e7914,#937316,#986d18,#9c681b,#a0641d,#a2611f,#a55e22,#a75a24,#a95727,#ab542a,#ac502e,#ae4d32,#af4a35,#af4937,#af4837,#af4937,#ae4b35,#ae4d32,#ad4f2f,#ab532b,#a95727,#a65b23,#a36020,#a0651d,#9d681b,#9c691a,#9b6a1a,#9a6b19,#9a6b19,#996c19,#986e18,#967017,#947216,#927515,#907615,#8f7715,#8f7715,#8f7715,#8f7715,#8f7715,#8f7715)"></i><i style="background:linear-gradient(90deg,#3fc387,#3fc386,#3dc37e,#3cc16c,#3fbd56,#45b741,#4eb02f,#58a821,#629f1a,#6b9817,#729215,#778e14,#7a8c13,#7a8b13,#798c14,#758f14,#6e9616,#639f1a,#5ba61e,#5ba51e,#659d19,#739215,#7e8813,#858113,#8c7b14,#917515,#967017,#9a6c19,#9d681b,#a0641d,#a2611f,#a45e21,#a65b24,#a95727,#aa542a,#ac512d,#ad4f30,#ae4d31,#ae4d32,#ad4e31,#ad502f,#ac522c,#aa5529,#a85826,#a55c23,#a2611f,#9f661c,#9b6a1a,#996d18,#976e18,#976f17,#967017,#967017,#957117,#937316,#917515,#8f7715,#8d7914,#8c7b14,#8b7b14,#8b7c14,#8b7b14,#8b7b14,#8b7b14,#8c7b14)"></i><i style="background:linear-gradient(90deg,#3fc48b,#3fc48b,#3ec382,#3cc16f,#3ebe59,#44b842,#4db030,#57a821,#639f1a,#6c9717,#739115,#788d14,#7a8b13,#7b8b13,#798c13,#768f14,#6e9616,#639f1a,#5aa61f,#5aa61f,#649e1a,#719315,#7c8913,#848213,#8a7d14,#8f7815,#937316,#976f18,#9a6b19,#9d681b,#9f651d,#a2621f,#a45f21,#a65b23,#a85826,#aa5529,#ab532b,#ac522c,#ac522c,#ab532b,#aa5529,#a95727,#a75a24,#a55e22,#a2621f,#9e661c,#9a6b19,#976f18,#957117,#937316,#937316,#927416,#927416,#917515,#8f7715,#8d7914,#8b7b14,#897d14,#887f13,#877f13,#877f13,#877f13,#887f13,#887e13,#887e13)"></i><i style="background:linear-gradient(90deg,#40c48f,#40c48e,#3ec385,#3cc272,#3ebe5a,#44b843,#4db030,#58a821,#649f1a,#6d9716,#749014,#798c14,#7c8a13,#7c8a13,#7a8b13,#768f14,#6e9616,#639f1a,#59a71f,#59a71f,#639f1a,#709415,#7b8b13,#828413,#887f13,#8c7a14,#917615,#947216,#976e18,#9a6b19,#9d681b,#9f651c,#a1621e,#a35f20,#a55c22,#a75a25,#a85827,#a95728,#a95727,#a85826,#a75a25,#a55d22,#a35f20,#a1631e,#9e671b,#9a6b19,#976f17,#937316,#917515,#907715,#8f7715,#8f7815,#8e7815,#8d7914,#8b7b14,#897d14,#877f13,#858113,#838313,#838313,#838313,#848213,#848213,#858113,#858113)"></i><i style="background:linear-gradient(90deg,#41c492,#41c491,#3fc388,#3cc274,#3ebe5b,#44b843,#4eb02f,#59a720,#659e19,#6f9516,#768f14,#7b8b13,#7d8913,#7d8813,#7b8a13,#778e14,#6f9516,#629f1a,#59a720,#58a820,#62a01b,#6f9516,#7a8c13,#808513,#868113,#8a7c14,#8e7814,#917515,#957117,#976e18,#9a6c19,#9c691a,#9e661c,#a0631e,#a3611f,#a45e21,#a65c23,#a65b23,#a65c23,#a55d22,#a45f20,#a2621f,#9f651d,#9d681b,#9a6c19,#966f17,#937316,#907615,#8e7814,#8d7a14,#8c7a14,#8b7b14,#8b7c14,#897d14,#887f13,#858113,#838313,#818513,#808613,#7f8713,#808613,#808613,#818513,#828413,#828413)"></i><i style="background:linear-gradient(90deg,#42c495,#42c494,#3fc48a,#3cc276,#3ebe5c,#44b843,#4eb02e,#5aa71f,#669c19,#709415,#788d14,#7d8913,#7f8713,#7f8713,#7d8913,#788d14,#6f9516,#62a01a,#58a820,#58a821,#61a11b,#6e9616,#788d14,#7f8713,#848213,#887e13,#8c7b14,#8f7715,#927416,#947117,#976f18,#996c19,#9b6a1a,#9e671b,#a0641d,#a1621e,#a3611f,#a36020,#a36020,#a2621f,#a0641d,#9e671c,#9b6a1a,#996d18,#967017,#937316,#907615,#8d7914,#8b7b14,#8a7c14,#897d14,#887e13,#877f13,#868013,#848213,#828413,#808613,#7e8813,#7c8913,#7c8913,#7d8913,#7d8813,#7e8713,#7f8613,#7f8613)"></i><i style="background:linear-gradient(90deg,#43c498,#43c497,#40c48d,#3dc278,#3dbe5d,#44b843,#4faf2d,#5ba51e,#689b18,#729215,#7a8c13,#7e8713,#808513,#808613,#7e8813,#798c14,#6f9515,#62a01a,#58a821,#57a922,#60a11b,#6d9716,#778e14,#7e8813,#828413,#868013,#897d14,#8c7a14,#8f7715,#927416,#947216,#966f17,#996d18,#9b6a1a,#9d681b,#9e661c,#a0641d,#a0641d,#a0641d,#9e661c,#9c681b,#9a6b19,#986e18,#957117,#927416,#907615,#8d7914,#8b7c14,#897d14,#887f13,#877f13,#868013,#858113,#848213,#828413,#7f8613,#7d8813,#7b8a13,#7a8b13,#7a8c13,#7a8b13,#7b8a13,#7c8913,#7d8813,#7e8813)"></i><i style="background:linear-gradient(90deg,#44c49a,#44c49a,#41c48f,#3dc279,#3dbf5e,#44b842,#4faf2c,#5da41d,#6a9917,#749114,#7c8a13,#808513,#828413,#828413,#7f8713,#7a8c13,#709415,#62a01a,#57a821,#56a923,#5fa21c,#6c9716,#768f14,#7c8913,#818513,#848213,#877f13,#8a7c14,#8d7914,#8f7715,#927416,#947216,#967017,#986d18,#9a6b19,#9c691a,#9d681b,#9d671b,#9d681b,#9b6a1a,#996c19,#976e18,#957117,#927416,#907615,#8e7914,#8b7b14,#897d14,#887f13,#868013,#858113,#848213,#838313,#828413,#808613,#7e8813,#7c8a13,#7a8c13,#788d14,#788d14,#798c14,#7a8b13,#7b8a13,#7c8913,#7c8913)"></i><i style="background:linear-gradient(90deg,#43c497,#42c496,#40c48b,#3cc275,#3ebe5a,#45b73f,#51ad2a,#5fa21c,#6c9717,#778e14,#7e8813,#838313,#848213,#838313,#818513,#7b8b13,#719415,#639f1a,#57a821,#56a923,#5fa31c,#6b9817,#759014,#7b8a13,#7f8713,#838313,#868013,#897e14,#8b7b14,#8e7914,#907715,#927416,#947216,#967017,#986e18,#996c19,#9b6b19,#9b6a1a,#9b6b1a,#996c19,#976e18,#957117,#937316,#917515,#8e7815,#8c7a14,#8a7c14,#887e13,#877f13,#868013,#858113,#848213,#838313,#818513,#7f8613,#7d8813,#7b8a13,#798c14,#788d14,#788d14,#798d14,#7a8c13,#7b8b13,#7c8a13,#7c8a13)"></i><i style="background:linear-gradient(90deg,#41c492,#41c491,#3ec386,#3cc271,#3fbd56,#47b53c,#53ac27,#61a01b,#6f9516,#798c14,#818513,#858113,#868013,#858113,#828413,#7c8a13,#719315,#639f1a,#57a821,#56aa23,#5ea31d,#6a9917,#749114,#7a8b13,#7e8713,#828413,#858113,#887f13,#8a7c14,#8c7a14,#8e7814,#907615,#927416,#947216,#967017,#976e18,#996d18,#996c19,#996c19,#986e18,#967017,#947216,#927416,#907615,#8e7815,#8c7a14,#8a7c14,#897e14,#877f13,#868013,#858113,#848213,#838313,#818513,#808613,#7e8813,#7c8a13,#7a8b13,#798c14,#798c14,#798c14,#7a8b13,#7b8a13,#7c8913,#7c8913)"></i><i style="background:linear-gradient(90deg,#40c48d,#40c48c,#3ec381,#3cc16c,#40bc51,#49b438,#55aa24,#649e1a,#719315,#7c8a13,#838313,#877f13,#897e13,#877f13,#838313,#7d8913,#729215,#639f1a,#57a922,#55aa24,#5da41d,#6a9a17,#739115,#798c14,#7d8813,#818513,#848213,#878013,#897d14,#8b7c14,#8c7a14,#8e7815,#907615,#927416,#947216,#967017,#976e18,#986d18,#986e18,#976f18,#967017,#947216,#927416,#907615,#8e7815,#8d7a14,#8b7b14,#897d14,#887e13,#877f13,#868013,#858113,#848213,#828413,#818513,#7f8713,#7d8913,#7c8a13,#7b8b13,#7a8b13,#7b8a13,#7c8a13,#7d8913,#7d8813,#7e8813)"></i><i style="background:linear-gradient(90deg,#3fc388,#3fc387,#3dc37c,#3cc067,#41bb4d,#4ab235,#58a821,#679c18,#749114,#7e8713,#868113,#8a7d14,#8b7c14,#897d14,#858113,#7e8813,#739215,#639f1a,#57a922,#55aa24,#5da41d,#699a18,#729215,#788d14,#7d8913,#808613,#838313,#868013,#887e13,#8a7d14,#8b7b14,#8d7a14,#8e7815,#907615,#937316,#957117,#966f17,#976e18,#976e18,#976f18,#967017,#947216,#937316,#917515,#8f7715,#8e7914,#8c7a14,#8b7c14,#897d14,#887e13,#877f13,#868013,#858113,#848213,#828413,#818513,#7f8713,#7e8813,#7d8913,#7d8913,#7d8913,#7e8813,#7e8713,#7f8713,#7f8713)"></i><i style="background:linear-gradient(90deg,#3ec382,#3ec382,#3dc277,#3dbf62,#42ba49,#4cb131,#5aa61f,#6a9917,#778e14,#818513,#887e13,#8c7a14,#8d7a14,#8b7c14,#868013,#7f8713,#739115,#649e1a,#57a922,#55aa25,#5ca51e,#689b18,#719315,#778e14,#7c8a13,#7f8613,#838313,#858113,#877f13,#897e14,#8a7c14,#8b7b14,#8d7914,#8f7715,#917515,#947216,#957017,#976f18,#976f18,#976f18,#967017,#957117,#947216,#927416,#917615,#8f7715,#8d7914,#8c7a14,#8b7c14,#8a7d14,#897e13,#887f13,#878013,#858113,#848213,#838313,#818513,#808613,#7f8713,#7f8713,#7f8713,#808613,#808613,#818513,#818513)"></i><i style="background:linear-gradient(90deg,#3dc37d,#3dc37c,#3cc170,#3ebe5a,#45b741,#51ad2a,#60a11b,#6f9516,#7b8b13,#848213,#8b7b14,#8e7815,#8f7715,#8c7a14,#887f13,#808613,#749114,#649e1a,#57a922,#54ab25,#5ba51e,#679c18,#709415,#778e14,#7b8a13,#7f8713,#828413,#858113,#878013,#887e13,#897d14,#8a7c14,#8c7b14,#8e7914,#907615,#937316,#957117,#967017,#976f18,#976f18,#966f17,#957017,#947117,#937316,#927416,#907615,#8f7715,#8d7914,#8c7a14,#8b7b14,#8a7c14,#897d14,#887e13,#877f13,#868013,#858113,#838313,#828413,#828413,#818513,#818513,#828413,#828413,#828413,#828413)"></i><i style="background:linear-gradient(90deg,#3dc277,#3cc276,#3cc169,#3fbc52,#49b438,#56a923,#669c19,#749114,#7e8713,#877f13,#8d7914,#907615,#917615,#8e7815,#897d14,#818513,#759014,#649e19,#57a922,#54ab25,#5ba61e,#669c19,#709415,#768f14,#7a8b13,#7e8813,#818413,#848213,#868113,#877f13,#887f13,#897e14,#8a7c14,#8c7a14,#8f7715,#927416,#947216,#967017,#976f17,#976f18,#976f17,#967017,#957017,#947216,#937316,#927515,#907615,#8f7815,#8d7914,#8c7a14,#8b7b14,#8a7c14,#8a7d14,#897e14,#887f13,#868013,#858113,#848213,#848213,#838313,#838313,#848313,#848213,#848213,#848213)"></i><i style="background:linear-gradient(90deg,#3cc271,#3cc170,#3dbf62,#42ba49,#4db030,#5da41d,#6c9817,#788d14,#828413,#8a7d14,#8f7715,#927416,#927416,#8f7715,#8a7c14,#828413,#758f14,#659e19,#57a922,#54ab25,#5aa61f,#669d19,#6f9516,#759014,#7a8c13,#7d8813,#818513,#838313,#858213,#868113,#868013,#877f13,#897e14,#8b7b14,#8e7814,#917615,#937316,#957117,#966f17,#976f18,#976f18,#976f17,#967017,#957117,#947216,#937416,#917515,#907715,#8e7815,#8d7914,#8c7a14,#8c7b14,#8b7c14,#8a7c14,#897d14,#887e13,#877f13,#868013,#868013,#858113,#858113,#858113,#858113,#858113,#858113)"></i><i style="background:linear-gradient(90deg,#3cc16f,#3cc16d,#3dbf5e,#44b843,#52ad29,#639f1a,#719315,#7c8a13,#848213,#8c7b14,#917515,#947216,#947216,#917615,#8b7b14,#838313,#768f14,#659d19,#57a922,#54ab26,#5aa61f,#659d19,#6e9516,#749014,#798c14,#7c8913,#808613,#828413,#838313,#848213,#858113,#868113,#877f13,#8a7d14,#8d7a14,#907715,#937416,#957117,#967017,#976f18,#976e18,#976f18,#976f18,#967017,#957117,#937316,#927416,#907615,#8f7715,#8e7815,#8d7914,#8c7a14,#8c7b14,#8b7b14,#8a7c14,#8a7d14,#897e14,#887e13,#877f13,#877f13,#878013,#868013,#868013,#868013,#868013)"></i><i style="background:linear-gradient(90deg,#3cc16c,#3cc16a,#3ebd58,#47b53b,#57a922,#699a18,#768f14,#7f8713,#877f13,#8e7914,#937316,#957117,#957117,#927416,#8c7a14,#848213,#768e14,#659d19,#57a922,#54ab26,#5aa71f,#659d19,#6e9616,#749114,#788d14,#7b8a13,#7e8713,#818513,#828413,#838313,#838313,#848213,#868113,#887e13,#8b7b14,#8f7815,#927416,#947216,#967017,#976f18,#976e18,#976e18,#976e18,#976f17,#957017,#947216,#927416,#917515,#907715,#8f7815,#8e7814,#8d7914,#8d7a14,#8c7a14,#8b7b14,#8b7c14,#8a7c14,#897d14,#897d14,#887e13,#887e13,#877f13,#877f13,#878013,#878013)"></i><i style="background:linear-gradient(90deg,#3cc068,#3cc067,#3fbc52,#4bb233,#5ea31d,#6f9516,#7a8c13,#828413,#897d14,#8f7715,#947216,#966f17,#967017,#937316,#8d7914,#848213,#778e14,#659d19,#57a922,#54ab26,#59a71f,#659e19,#6d9616,#739115,#778e14,#7a8b13,#7d8913,#7f8713,#808613,#818513,#818413,#828413,#848213,#878013,#8a7c14,#8e7914,#917515,#947216,#967017,#976f18,#976e18,#986e18,#986e18,#976f18,#967017,#947216,#937316,#917515,#907615,#8f7715,#8e7815,#8e7914,#8d7914,#8d7a14,#8c7a14,#8c7b14,#8b7b14,#8a7c14,#8a7c14,#897d14,#897e14,#887e13,#877f13,#877f13,#877f13)"></i><i style="background:linear-gradient(90deg,#3dc065,#3dc063,#41ba4c,#50ae2b,#659d19,#749014,#7d8813,#848213,#8b7b14,#917515,#957117,#976e18,#976f18,#947216,#8e7814,#858113,#778e14,#669d19,#57a922,#53ab26,#59a71f,#649e1a,#6d9716,#729215,#768f14,#798c14,#7c8a13,#7e8813,#7f8713,#7f8713,#808613,#818513,#828413,#858113,#897d14,#8d7a14,#907615,#937316,#957117,#976f17,#976e18,#986e18,#986e18,#976e18,#967017,#957117,#937316,#917515,#907615,#8f7715,#8f7815,#8e7815,#8e7914,#8d7914,#8d7914,#8c7a14,#8c7a14,#8b7b14,#8b7c14,#8a7c14,#897d14,#887e13,#887f13,#877f13,#877f13)"></i><i style="background:linear-gradient(90deg,#3dbf62,#3dbf60,#43b946,#55aa24,#6b9817,#788d14,#808613,#868013,#8c7a14,#927416,#966f17,#986d18,#976e18,#947216,#8e7815,#858113,#788d14,#669d19,#57a922,#53ab27,#59a720,#649e1a,#6c9716,#729315,#759014,#788d14,#7a8b13,#7c8a13,#7d8913,#7d8813,#7e8813,#7f8713,#818513,#848213,#877f13,#8c7b14,#8f7715,#927416,#957117,#967017,#976e18,#986e18,#986e18,#976e18,#966f17,#957117,#937316,#917515,#907615,#8f7715,#8f7815,#8e7815,#8e7814,#8e7914,#8d7914,#8d7914,#8c7a14,#8c7a14,#8b7b14,#8b7c14,#8a7d14,#897e14,#887e13,#877f13,#877f13)"></i><i style="background:linear-gradient(90deg,#3dbf5f,#3dbe5d,#44b843,#57a922,#6e9616,#7a8b13,#828413,#887e13,#8e7914,#937316,#976f18,#996d19,#986e18,#947117,#8f7815,#868113,#788d14,#669d19,#57a922,#53ac27,#58a820,#639f1a,#6c9817,#719315,#749114,#778e14,#798c14,#7a8b13,#7b8a13,#7c8a13,#7c8913,#7d8913,#7f8713,#828413,#868013,#8a7c14,#8e7815,#927416,#947216,#967017,#976f18,#986e18,#986e18,#976e18,#966f17,#957117,#937316,#917515,#907615,#8f7715,#8f7815,#8e7815,#8e7814,#8e7914,#8d7914,#8d7914,#8d7a14,#8c7a14,#8b7b14,#8b7c14,#8a7d14,#887e13,#877f13,#878013,#868013)"></i><i style="background:linear-gradient(90deg,#3dbe5d,#3ebe5a,#45b741,#59a720,#6f9515,#7c8913,#838313,#897d14,#8e7815,#947216,#976e18,#996c19,#986d18,#957117,#8f7815,#858113,#778e14,#659d19,#56a923,#52ac28,#58a821,#639f1a,#6b9817,#709415,#739215,#759014,#778e14,#798d14,#798c13,#7a8b13,#7a8b13,#7b8a13,#7d8813,#808513,#858213,#897d14,#8d7914,#917515,#937316,#957117,#966f17,#976e18,#986e18,#976f18,#967017,#947217,#937316,#917515,#907615,#8f7715,#8e7815,#8e7814,#8e7914,#8d7914,#8d7914,#8d7a14,#8c7a14,#8c7b14,#8b7b14,#8a7c14,#897d14,#887f13,#878013,#868113,#858113)"></i><i style="background:linear-gradient(90deg,#3ebe5b,#3ebe59,#45b63f,#5aa61f,#719315,#7d8813,#848213,#8a7d14,#8f7715,#947216,#976e18,#996d19,#986e18,#947216,#8e7815,#858113,#778e14,#649e1a,#55aa24,#51ad29,#57a922,#61a01b,#6a9917,#6f9516,#729315,#749114,#768f14,#778e14,#788d14,#788d14,#788d14,#798c13,#7b8a13,#7f8713,#838313,#887f13,#8c7a14,#907715,#927416,#947216,#967017,#976f17,#976f18,#976f17,#957017,#947216,#927416,#907615,#8f7715,#8e7815,#8e7914,#8d7914,#8d7914,#8d7a14,#8c7a14,#8c7b14,#8b7b14,#8b7c14,#8a7c14,#897d14,#887f13,#868013,#858113,#848213,#848213)"></i><i style="background:linear-gradient(90deg,#3ebe59,#3ebd57,#46b63d,#5ba51e,#729215,#7e8813,#848213,#8a7d14,#8f7715,#937316,#976f18,#986d18,#976f18,#937316,#8d7914,#848213,#758f14,#639f1a,#54ab26,#50ae2b,#56aa23,#60a11b,#699a18,#6d9616,#709415,#729215,#749014,#758f14,#768f14,#768f14,#778e14,#788d14,#7a8c13,#7d8913,#818513,#868013,#8b7c14,#8e7815,#917515,#937316,#957117,#967017,#967017,#967017,#947117,#937316,#917515,#907715,#8e7815,#8d7914,#8d7914,#8c7a14,#8c7a14,#8b7b14,#8b7b14,#8a7c14,#8a7d14,#897d14,#887e13,#877f13,#858113,#848213,#838313,#828413,#828413)"></i><i style="background:linear-gradient(90deg,#3ebd58,#3fbd56,#47b53c,#5ca51e,#729215,#7e8813,#848213,#897d14,#8e7815,#937316,#967017,#976e18,#967017,#927416,#8c7b14,#828413,#749114,#61a11b,#52ac28,#4faf2d,#54ab25,#5ea31c,#679c18,#6c9817,#6f9516,#719315,#739215,#749114,#759014,#759014,#759014,#768f14,#788d14,#7b8a13,#808613,#858213,#897d14,#8d7914,#907615,#927416,#937316,#947216,#957117,#947216,#937316,#927416,#907615,#8f7815,#8d7914,#8c7a14,#8c7b14,#8b7b14,#8a7c14,#8a7d14,#897d14,#887e13,#877f13,#868013,#858113,#848213,#838313,#818513,#808613,#7f8713,#7f8713)"></i><i style="background:linear-gradient(90deg,#3ebd57,#3fbd55,#47b53c,#5da41d,#739215,#7e8813,#848213,#897d14,#8d7914,#927416,#957117,#967017,#947216,#907615,#8a7c14,#808513,#729315,#5fa31c,#51ad2a,#4db02f,#53ac27,#5ca41d,#659d19,#6a9917,#6d9716,#6f9516,#719315,#729215,#739215,#739115,#739115,#749114,#768f14,#798c14,#7e8813,#838313,#877f13,#8b7b14,#8e7815,#907615,#927416,#937316,#937316,#937316,#927416,#907615,#8f7715,#8d7914,#8c7a14,#8b7b14,#8a7c14,#897d14,#897e13,#887f13,#878013,#868113,#848213,#838313,#828413,#818513,#7f8713,#7e8813,#7d8913,#7c8a13,#7b8a13)"></i><i style="background:linear-gradient(90deg,#3ebd57,#3fbd55,#47b53b,#5da41d,#729215,#7d8813,#838313,#887e13,#8c7a14,#907615,#937316,#947216,#937316,#8f7815,#887e13,#7e8713,#6f9516,#5ca51e,#4faf2d,#4cb132,#51ad2a,#5aa61f,#639f1a,#689b18,#6b9817,#6e9616,#709415,#719315,#719315,#719315,#719315,#729215,#749114,#778e14,#7c8a13,#818513,#868013,#8a7d14,#8d7a14,#8f7815,#907615,#917515,#917515,#917515,#907615,#8f7715,#8e7914,#8c7a14,#8b7b14,#8a7d14,#897e14,#887f13,#878013,#858113,#848213,#838313,#818513,#808613,#7e8713,#7d8913,#7b8a13,#7a8b13,#798c14,#788d14,#788d14)"></i><i style="background:linear-gradient(90deg,#3ebd57,#3fbd55,#47b53c,#5da41d,#729215,#7d8913,#828413,#877f13,#8b7b14,#8f7715,#927416,#927416,#917515,#8d7a14,#868013,#7c8a13,#6d9716,#5aa71f,#4db030,#4ab335,#4faf2c,#58a820,#61a01b,#669c19,#6a9a17,#6c9717,#6e9616,#6f9516,#709415,#709415,#709415,#709415,#729215,#758f14,#7a8b13,#7f8713,#848213,#887e13,#8b7c14,#8d7a14,#8e7815,#8f7715,#8f7715,#8f7715,#8e7815,#8d7914,#8c7a14,#8b7c14,#897d14,#887e13,#877f13,#868113,#848213,#838313,#818513,#808613,#7e8813,#7c8913,#7a8b13,#798c14,#778e14,#768f14,#759014,#749114,#749114)"></i><i style="background:linear-gradient(90deg,#3ebd58,#3fbd56,#47b53c,#5ca51e,#719315,#7c8a13,#818513,#868113,#8a7d14,#8d7914,#907615,#917615,#8f7815,#8a7c14,#848213,#7a8c13,#6a9917,#57a821,#4bb233,#49b438,#4db02f,#56a922,#5fa21c,#649e19,#689b18,#6a9917,#6c9716,#6e9616,#6e9616,#6e9616,#6e9616,#6e9616,#709415,#739115,#788d14,#7d8913,#828413,#868013,#897d14,#8b7c14,#8c7a14,#8d7914,#8d7914,#8d7914,#8d7a14,#8b7b14,#8a7c14,#897d14,#887f13,#868013,#858113,#848213,#828413,#808513,#7f8713,#7c8913,#7a8b13,#788d14,#768e14,#759014,#739115,#729215,#719315,#709415,#709415)"></i><i style="background:linear-gradient(90deg,#3ebe59,#3ebd57,#46b63d,#5ba51e,#709415,#7b8b13,#808613,#848213,#887e13,#8c7b14,#8e7815,#8f7815,#8d7a14,#887e13,#818513,#778e14,#689b18,#55aa24,#4ab336,#47b53b,#4cb132,#54ab25,#5da41d,#62a01a,#669d19,#699a18,#6b9917,#6c9817,#6c9716,#6c9717,#6c9817,#6c9716,#6e9616,#719315,#768f14,#7b8a13,#808613,#848213,#877f13,#897e14,#8a7c14,#8b7b14,#8b7b14,#8b7b14,#8b7c14,#8a7d14,#887e13,#877f13,#868013,#858213,#838313,#818513,#808613,#7e8813,#7c8a13,#798c14,#778e14,#759014,#739215,#719315,#6f9516,#6e9616,#6d9716,#6c9717,#6c9817)"></i><i style="background:linear-gradient(90deg,#3ebe59,#3ebd57,#46b63d,#5ba61e,#6f9516,#798c14,#7e8713,#828413,#868013,#8a7d14,#8c7a14,#8d7a14,#8a7c14,#868013,#7f8713,#759014,#659d19,#53ac27,#48b53a,#45b73f,#4ab336,#52ac28,#5ba61f,#60a11b,#649e1a,#679c19,#699a18,#6a9917,#6a9917,#6a9917,#6a9917,#6a9917,#6c9817,#6f9516,#749114,#798c14,#7e8813,#828413,#858113,#878013,#887e13,#897e14,#897d14,#897d14,#887e13,#887f13,#878013,#858113,#848213,#838313,#818513,#7f8713,#7d8813,#7b8a13,#798c14,#768f14,#749114,#719315,#6f9516,#6d9716,#6b9817,#6a9917,#699a18,#689b18,#689b18)"></i><i style="background:linear-gradient(90deg,#3ebd58,#3fbd56,#46b63d,#5aa61f,#6e9616,#788e14,#7c8913,#808513,#848213,#887f13,#8a7c14,#8a7c14,#887e13,#848313,#7c8913,#729215,#62a01b,#50ae2b,#46b63f,#43b844,#48b43a,#50ae2b,#58a820,#5ea31d,#62a01b,#659e19,#679c18,#689b18,#689b18,#689b18,#679b18,#689b18,#699a17,#6d9716,#719315,#768f14,#7b8a13,#7f8613,#828413,#848213,#868113,#868013,#877f13,#877f13,#868013,#858113,#848213,#838313,#828413,#808613,#7f8713,#7d8913,#7b8b13,#798d14,#768f14,#739115,#709415,#6d9616,#6b9817,#699a18,#679b18,#669d19,#659d19,#649e1a,#649e1a)"></i><i style="background:linear-gradient(90deg,#3ebd57,#3fbd55,#46b63d,#59a71f,#6c9716,#768f14,#7a8b13,#7e8713,#828413,#858113,#887e13,#887e13,#868013,#818513,#7a8b13,#6f9516,#5fa21c,#4eb02f,#44b843,#42ba49,#46b63e,#4eaf2e,#56a923,#5ba51e,#5fa21c,#62a01a,#659e19,#669c19,#669c19,#669d19,#659d19,#659d19,#679c18,#6a9917,#6f9516,#749114,#798c14,#7d8913,#808613,#828413,#838313,#848213,#848213,#848213,#848213,#838313,#828413,#818513,#808613,#7e8813,#7c8913,#7a8b13,#788d14,#768f14,#739115,#709415,#6d9716,#6a9917,#679b18,#659d19,#649f1a,#62a01a,#61a11b,#60a11c,#60a21c)"></i><i style="background:linear-gradient(90deg,#3ebd57,#3fbd55,#46b63d,#58a820,#6a9917,#739115,#788d14,#7c8a13,#808613,#838313,#868113,#868013,#848313,#7f8713,#778e14,#6c9716,#5ca51e,#4bb233,#42b948,#40bb4e,#44b842,#4cb132,#54ab26,#59a71f,#5da41d,#60a11b,#639f1a,#649e1a,#649e1a,#649f1a,#639f1a,#639f1a,#649e19,#689b18,#6c9716,#719315,#768e14,#7b8b13,#7e8813,#808613,#818513,#828413,#828413,#828413,#828413,#818513,#808613,#7f8713,#7d8813,#7c8a13,#7a8b13,#788d14,#768f14,#739115,#709415,#6d9716,#6a9917,#679c18,#649e1a,#62a01b,#60a11c,#5ea31c,#5da41d,#5ca51e,#5ca51e)"></i><i style="background:linear-gradient(90deg,#3ebd57,#3fbd55,#46b63d,#57a821,#699a18,#719315,#768f14,#7a8c13,#7d8813,#818513,#838313,#848213,#818513,#7c8913,#759014,#6a9917,#59a720,#49b337,#41bb4e,#3fbc53,#43b947,#4ab335,#52ad29,#57a922,#5ba61e,#5ea31d,#61a11b,#62a01b,#62a01a,#61a01b,#61a11b,#61a11b,#62a01b,#659d19,#6a9917,#6f9516,#749114,#788d14,#7b8a13,#7d8813,#7f8713,#7f8613,#808613,#808613,#7f8713,#7f8713,#7e8813,#7c8913,#7b8a13,#798c14,#778e14,#758f14,#739115,#719415,#6e9616,#6a9917,#679c18,#649e1a,#61a11b,#5ea31c,#5ca41d,#5ba61e,#59a71f,#58a820,#58a820)"></i><i style="background:linear-gradient(90deg,#3fbd56,#3fbd54,#46b63e,#57a922,#679c18,#6f9516,#749114,#778e14,#7b8a13,#7f8713,#818513,#818413,#7f8713,#7a8b13,#739215,#679c18,#56a922,#47b53b,#3fbc52,#3ebe58,#41ba4b,#48b439,#50ae2b,#55aa24,#59a720,#5ca51e,#5fa31c,#60a11c,#60a11b,#5fa21c,#5ea31c,#5ea31c,#60a21c,#639f1a,#679b18,#6d9716,#729315,#768f14,#798c14,#7b8a13,#7c8913,#7d8813,#7e8813,#7e8813,#7d8913,#7c8913,#7b8a13,#7a8b13,#798c14,#778e14,#759014,#739115,#719315,#6e9616,#6b9817,#689b18,#649e1a,#61a11b,#5ea31d,#5ba51e,#59a71f,#58a821,#56a922,#55aa24,#55aa24)"></i><i style="background:linear-gradient(90deg,#3fbd55,#3fbc53,#46b63e,#56a923,#659d19,#6d9716,#719315,#758f14,#798c14,#7d8913,#7f8713,#808613,#7d8813,#788d14,#709415,#659e19,#54ab25,#46b63f,#3ebd57,#3dbe5d,#40bb4f,#47b53c,#4eaf2e,#54ab26,#57a822,#5aa61f,#5da41d,#5ea31c,#5ea31c,#5ea31d,#5da41d,#5ca41e,#5ea31d,#61a11b,#659d19,#6b9917,#709415,#749114,#778e14,#798c14,#7a8b13,#7b8a13,#7c8a13,#7c8a13,#7b8a13,#7a8b13,#798c14,#788d14,#778e14,#759014,#739115,#719315,#6f9516,#6c9817,#699a18,#659d19,#62a01b,#5ea31c,#5ba51e,#59a720,#57a922,#55aa24,#54ab25,#53ac27,#53ac27)"></i><i style="background:linear-gradient(90deg,#3fbd54,#3fbc52,#46b63d,#55aa24,#649e1a,#6b9817,#709415,#749114,#788d14,#7b8a13,#7e8813,#7e8813,#7b8a13,#768f14,#6f9516,#639f1a,#53ac27,#44b742,#3ebe5b,#3dbf61,#3fbc53,#46b63e,#4db030,#52ac28,#56a923,#59a720,#5ba51e,#5da41d,#5da41d,#5ca51e,#5ba51e,#5ba61e,#5ca51e,#5fa21c,#639f1a,#699a18,#6e9616,#729215,#758f14,#778e14,#798d14,#7a8c13,#7a8b13,#7a8b13,#798c13,#798d14,#788d14,#768e14,#759014,#739115,#719315,#6f9516,#6d9716,#6a9917,#679c18,#639f1a,#60a21c,#5ca51e,#59a71f,#57a922,#55aa24,#53ab26,#52ac28,#51ad2a,#51ad2a)"></i><i style="background:linear-gradient(90deg,#3fbc53,#40bc51,#46b63d,#55aa24,#649f1a,#6b9817,#6f9516,#739115,#778e14,#7b8b13,#7d8913,#7d8813,#7b8a13,#768f14,#6e9616,#62a01a,#52ac28,#44b843,#3dbe5d,#3dc063,#3fbd54,#45b73f,#4db131,#52ad28,#55aa24,#58a820,#5ba61e,#5ca41d,#5ca41d,#5ca51e,#5aa61f,#5aa61f,#5ba51e,#5ea31c,#639f1a,#689b18,#6d9616,#729315,#759014,#778e14,#788d14,#798c14,#798c14,#798c14,#798c14,#788d14,#778e14,#768f14,#749014,#739215,#719315,#6f9516,#6c9716,#6a9a17,#669c19,#639f1a,#5fa21c,#5ba51e,#58a820,#56a923,#54ab25,#53ac27,#51ad29,#50ae2b,#50ae2b)"></i></div></div>
<div class="hw" style="left:934px"><div class="hm"><i style="background:linear-gradient(90deg,#bec1f6,#bec1f6,#bec1f6,#bec1f6,#bec1f6,#bec1f6,#bec1f6,#bfc2f6,#bfc2f6,#c0c2f6,#c1c2f6,#c3c3f6,#c4c3f6,#c5c3f6,#c5c3f6,#c5c3f6,#c4c3f6,#c2c3f6,#c1c2f6,#c0c2f6,#bfc2f6,#bec2f6,#bec1f6,#bec1f6,#bec1f6,#bec1f6,#bec1f6,#bec1f6,#bec1f6,#bec1f6,#bec1f6,#bec1f6,#bec1f6,#bec1f6,#bdc1f6,#bdc1f6,#bcc1f5,#b8c0f5,#adbef3,#93bdeb,#63c1cb,#3fc389,#3fbd54,#46b63d,#4ab335,#4ab335,#47b53b,#42b948,#3dbf5f,#3dc37d,#45c49c,#50c3b2,#59c2bf,#5ec1c6,#61c1c9,#62c1ca,#62c1ca,#63c1cb,#63c1cb,#63c1cb,#63c1cb,#68c0d0,#83bde3,#9dbdee,#9ebdef)"></i><i style="background:linear-gradient(90deg,#bec1f6,#bec1f6,#bec1f6,#bec1f6,#bec1f6,#bec1f6,#bec1f6,#bfc2f6,#bfc2f6,#c0c2f6,#c2c2f6,#c3c3f6,#c5c3f6,#c6c4f7,#c6c4f7,#c6c4f7,#c4c3f6,#c3c3f6,#c1c2f6,#c0c2f6,#bfc2f6,#bec2f6,#bec1f6,#bec1f6,#bec1f6,#bec1f6,#bec1f6,#bec1f6,#bec1f6,#bec1f6,#bec1f6,#bec1f6,#bec1f6,#bec1f6,#bdc1f6,#bdc1f6,#bbc1f5,#b6c0f4,#a8bef2,#87bde5,#55c2ba,#3dc277,#41ba4b,#48b43a,#4ab235,#49b336,#46b63e,#40bb4e,#3cc067,#3fc387,#48c4a4,#53c2b8,#5bc1c2,#60c1c8,#62c1ca,#62c1cb,#63c1cb,#63c1cb,#63c1cb,#63c1cb,#63c1cb,#68c0d0,#83bde3,#9dbdee,#9ebdef)"></i><i style="background:linear-gradient(90deg,#bec1f6,#bec1f6,#bec1f6,#bec1f6,#bec1f6,#bec1f6,#bec1f6,#bfc2f6,#c0c2f6,#c1c2f6,#c3c3f6,#c5c3f6,#c6c4f7,#c8c4f7,#c8c4f7,#c7c4f7,#c6c4f7,#c4c3f6,#c2c3f6,#c0c2f6,#bfc2f6,#bfc2f6,#bec1f6,#bec1f6,#bec1f6,#bec1f6,#bec1f6,#bec1f6,#bec1f6,#bec1f6,#bec1f6,#bec1f6,#bec1f6,#bdc1f6,#bdc1f6,#bcc1f5,#b8c0f5,#aebef3,#94bdeb,#64c0cc,#40c48b,#3fbd55,#46b63d,#4ab335,#4ab335,#47b53b,#42b948,#3dbf5f,#3dc37e,#45c49e,#51c3b5,#5bc2c2,#60c1c8,#63c1cb,#64c0cc,#64c0cc,#63c1cb,#63c1cb,#63c1cb,#63c1cb,#63c1cb,#68c0d0,#83bde3,#9dbdee,#9ebdef)"></i><i style="background:linear-gradient(90deg,#bec1f6,#bec1f6,#bec1f6,#bec1f6,#bec1f6,#bec1f6,#bec1f6,#bfc2f6,#c0c2f6,#c1c2f6,#c3c3f6,#c6c4f7,#c8c4f7,#c9c5f7,#cac5f7,#c9c5f7,#c7c4f7,#c5c3f6,#c3c3f6,#c1c2f6,#c0c2f6,#bfc2f6,#bec1f6,#bec1f6,#bec1f6,#bec1f6,#bec1f6,#bec1f6,#bec1f6,#bec1f6,#bec1f6,#bec1f6,#bec1f6,#bdc1f6,#bcc1f5,#bac0f5,#b2bff4,#9fbdef,#75bfdb,#47c4a1,#3dbf63,#44b842,#49b337,#4ab235,#48b439,#44b843,#3ebd58,#3cc275,#43c496,#4ec3b1,#5ac2c1,#61c1c9,#64c0cc,#65c0cd,#65c0cd,#65c0cd,#64c0cc,#63c0cc,#63c1cb,#63c1cb,#63c1cb,#68c0d0,#83bde3,#9dbdee,#9ebdef)"></i><i style="background:linear-gradient(90deg,#bec1f6,#bec1f6,#bec1f6,#bec1f6,#bec1f6,#bec1f6,#bec2f6,#bfc2f6,#c0c2f6,#c2c2f6,#c4c3f6,#c7c4f7,#c9c5f7,#cbc5f7,#cbc6f7,#cac5f7,#c9c5f7,#c6c4f7,#c4c3f6,#c1c2f6,#c0c2f6,#bfc2f6,#bec1f6,#bec1f6,#bec1f6,#bec1f6,#bec1f6,#bec1f6,#bec1f6,#bec1f6,#bec1f6,#bec1f6,#bdc1f6,#bdc1f6,#bbc1f5,#b5c0f4,#a7bef1,#85bde4,#53c3b7,#3cc274,#42ba49,#48b439,#4ab235,#49b337,#45b73f,#40bc51,#3cc16c,#40c48e,#4cc3ab,#58c2bf,#61c1c9,#65c0cd,#67c0cf,#67c0cf,#66c0ce,#65c0ce,#65c0cd,#64c0cc,#63c0cb,#63c1cb,#63c1cb,#68c0d0,#83bde3,#9dbdee,#9ebdef)"></i><i style="background:linear-gradient(90deg,#bec1f6,#bec1f6,#bec1f6,#bec1f6,#bec1f6,#bec1f6,#bec2f6,#bfc2f6,#c0c2f6,#c2c3f6,#c5c3f6,#c7c4f7,#cac5f7,#ccc6f7,#ccc6f7,#cbc6f7,#c9c5f7,#c7c4f7,#c4c3f6,#c2c2f6,#c0c2f6,#bfc2f6,#bec1f6,#bec1f6,#bec1f6,#bec1f6,#bec1f6,#bec1f6,#bec1f6,#bec1f6,#bec1f6,#bdc1f6,#bdc1f6,#bbc1f5,#b8c0f5,#adbef3,#93bdeb,#62c1ca,#3fc388,#3fbc53,#47b53c,#4ab335,#4ab335,#47b53c,#41ba4a,#3dc063,#3ec384,#48c4a5,#56c2bc,#61c1c9,#67c0cf,#69c0d1,#69c0d1,#69c0d1,#68c0d0,#66c0ce,#65c0cd,#64c0cd,#64c0cc,#63c1cb,#63c1cb,#68c0d0,#83bde3,#9dbdee,#9ebdef)"></i><i style="background:linear-gradient(90deg,#bec1f6,#bec1f6,#bec1f6,#bec1f6,#bec1f6,#bec1f6,#bfc2f6,#bfc2f6,#c0c2f6,#c2c3f6,#c5c3f6,#c8c4f7,#cac5f7,#ccc6f7,#cdc6f7,#ccc6f7,#cac5f7,#c7c4f7,#c4c3f6,#c2c2f6,#c0c2f6,#bfc2f6,#bec1f6,#bec1f6,#bec1f6,#bec1f6,#bec1f6,#bec1f6,#bec1f6,#bec1f6,#bec1f6,#bdc1f6,#bcc1f5,#b9c0f5,#b1bff4,#9dbdef,#73bfd9,#46c49f,#3dbf60,#45b741,#4ab336,#4ab235,#48b439,#43b845,#3ebe5b,#3dc37a,#45c49d,#53c2b8,#60c1c8,#67c0cf,#6bc0d3,#6cc0d3,#6bc0d3,#6ac0d2,#69c0d1,#67c0cf,#66c0ce,#65c0cd,#64c0cc,#64c0cc,#63c1cb,#68c0d0,#83bde3,#9dbdee,#9ebdef)"></i><i style="background:linear-gradient(90deg,#bec1f6,#bec1f6,#bec1f6,#bec1f6,#bec1f6,#bec1f6,#bec2f6,#bfc2f6,#c0c2f6,#c2c3f6,#c5c3f6,#c8c4f7,#cac5f7,#ccc6f7,#cdc6f7,#ccc6f7,#cac5f7,#c7c4f7,#c4c3f6,#c2c2f6,#c0c2f6,#bfc2f6,#bec1f6,#bec1f6,#bec1f6,#bec1f6,#bec1f6,#bec1f6,#bec1f6,#bec1f6,#bdc1f6,#bcc1f5,#bac1f5,#b4bff4,#a5bef1,#82bee2,#51c3b4,#3cc271,#42b948,#48b438,#4ab234,#49b337,#45b741,#3fbc53,#3cc170,#42c494,#4fc3b2,#5ec1c6,#68c0d0,#6dbfd4,#6ebfd5,#6ebfd5,#6dbfd4,#6cc0d3,#6ac0d2,#69c0d0,#67c0cf,#66c0ce,#65c0cd,#64c0cc,#63c0cb,#68c0d0,#83bde3,#9dbdee,#9ebdef)"></i><i style="background:linear-gradient(90deg,#bec1f6,#bec1f6,#bec1f6,#bec1f6,#bec1f6,#bec1f6,#bec2f6,#bfc2f6,#c0c2f6,#c2c3f6,#c4c3f6,#c7c4f7,#cac5f7,#cbc6f7,#ccc6f7,#cbc6f7,#c9c5f7,#c6c4f7,#c4c3f6,#c2c2f6,#c0c2f6,#bfc2f6,#bec1f6,#bec1f6,#bec1f6,#bec1f6,#bec1f6,#bec1f6,#bec1f6,#bdc1f6,#bdc1f6,#bbc1f5,#b7c0f5,#abbef2,#8ebde9,#5dc1c5,#3ec384,#3fbc52,#47b53c,#4ab335,#4ab336,#46b63d,#41bb4c,#3cc066,#3fc489,#4bc3ab,#5bc2c2,#67c0cf,#6ebfd5,#71bfd7,#71bfd7,#70bfd7,#6fbfd6,#6dbfd4,#6bc0d3,#6ac0d1,#68c0d0,#67c0cf,#65c0ce,#64c0cd,#64c0cc,#68c0d0,#83bde3,#9dbdee,#9ebdef)"></i><i style="background:linear-gradient(90deg,#bec1f6,#bec1f6,#bec1f6,#bec1f6,#bec1f6,#bec1f6,#bec1f6,#bfc2f6,#c0c2f6,#c2c2f6,#c4c3f6,#c6c4f7,#c8c5f7,#cac5f7,#cac5f7,#cac5f7,#c8c4f7,#c6c4f7,#c3c3f6,#c1c2f6,#c0c2f6,#bfc2f6,#bec1f6,#bec1f6,#bec1f6,#bec1f6,#bec1f6,#bec1f6,#bdc1f6,#bdc1f6,#bcc1f5,#b8c0f5,#afbff3,#99bded,#6cc0d3,#43c497,#3dbe5d,#45b740,#4ab336,#4ab235,#48b43a,#43b946,#3dbe5d,#3dc37e,#47c4a2,#57c2be,#65c0cd,#6ebfd5,#72bfd8,#74bfd9,#73bfd9,#72bfd8,#70bfd7,#6ebfd5,#6dbfd4,#6bc0d2,#69c0d1,#68c0d0,#66c0ce,#65c0cd,#64c0cc,#68c0d0,#83bde3,#9dbdee,#9ebdef)"></i><i style="background:linear-gradient(90deg,#bec1f6,#bec1f6,#bec1f6,#bec1f6,#bec1f6,#bec1f6,#bec1f6,#bfc2f6,#c0c2f6,#c1c2f6,#c3c3f6,#c5c3f6,#c7c4f7,#c8c5f7,#c9c5f7,#c8c4f7,#c7c4f7,#c4c3f6,#c2c3f6,#c1c2f6,#bfc2f6,#bfc2f6,#bec1f6,#bec1f6,#bec1f6,#bec1f6,#bec1f6,#bec1f6,#bdc1f6,#bcc1f5,#bac0f5,#b3bff4,#a1bdf0,#7abede,#4bc3aa,#3cc16a,#43b946,#49b438,#4ab234,#49b437,#45b741,#3fbd54,#3cc273,#43c498,#53c3b7,#63c1cb,#6ebfd5,#73bfd9,#76bfdb,#76bfdb,#75bfda,#73bfd9,#72bfd8,#70bfd6,#6ebfd5,#6cbfd3,#6ac0d2,#69c0d0,#67c0cf,#66c0ce,#65c0cd,#69c0d1,#83bde3,#9dbdee,#9ebdef)"></i><i style="background:linear-gradient(90deg,#bec1f6,#bec1f6,#bec1f6,#bec1f6,#bec1f6,#bec1f6,#bec1f6,#bfc2f6,#bfc2f6,#c1c2f6,#c2c3f6,#c4c3f6,#c5c4f7,#c7c4f7,#c7c4f7,#c6c4f7,#c5c3f6,#c3c3f6,#c2c2f6,#c0c2f6,#bfc2f6,#bfc2f6,#bec1f6,#bec1f6,#bec1f6,#bec1f6,#bec1f6,#bdc1f6,#bdc1f6,#bbc1f5,#b5c0f4,#a8bef2,#87bde6,#56c2bc,#3dc27a,#41bb4d,#48b53a,#4ab235,#4ab336,#46b63d,#41bb4d,#3cc068,#40c48c,#4dc3ae,#5ec1c6,#6cc0d3,#74bfd9,#77bedc,#78bedd,#78bedc,#77bedb,#75bfda,#73bfd9,#71bfd8,#6fbfd6,#6dbfd4,#6bc0d3,#6ac0d1,#68c0d0,#67c0cf,#65c0ce,#69c0d1,#84bde4,#9dbdee,#9ebdef)"></i><i style="background:linear-gradient(90deg,#bec1f6,#bec1f6,#bec1f6,#bec1f6,#bec1f6,#bec1f6,#bec1f6,#bec2f6,#bfc2f6,#c0c2f6,#c1c2f6,#c3c3f6,#c4c3f6,#c5c3f6,#c5c3f6,#c4c3f6,#c3c3f6,#c2c3f6,#c1c2f6,#c0c2f6,#bfc2f6,#bec1f6,#bec1f6,#bec1f6,#bec1f6,#bec1f6,#bdc1f6,#bdc1f6,#bbc1f5,#b8c0f5,#adbef3,#93bdeb,#64c0cc,#40c48c,#3fbd56,#46b63e,#4ab335,#4ab335,#47b53a,#42b947,#3dbf5e,#3dc380,#48c4a4,#59c2c0,#69c0d0,#73bfd9,#78bedc,#7abede,#7abede,#79bedd,#78bedc,#76bedb,#74bfda,#72bfd9,#71bfd7,#6fbfd5,#6dbfd4,#6bc0d2,#69c0d1,#68c0d0,#66c0ce,#6ac0d2,#84bde4,#9dbdee,#9ebdef)"></i><i style="background:linear-gradient(90deg,#bec1f6,#bec1f6,#bec1f6,#bec1f6,#bec1f6,#bec1f6,#bec1f6,#bec1f6,#bfc2f6,#bfc2f6,#c0c2f6,#c1c2f6,#c2c3f6,#c3c3f6,#c3c3f6,#c3c3f6,#c2c3f6,#c1c2f6,#c0c2f6,#bfc2f6,#bfc2f6,#bec1f6,#bec1f6,#bec1f6,#bec1f6,#bec1f6,#bdc1f6,#bcc1f5,#b9c0f5,#b2bff4,#9dbdef,#73bfd9,#46c4a0,#3dbf62,#44b842,#49b337,#4ab235,#48b438,#44b843,#3fbd56,#3cc275,#44c499,#54c2b9,#64c0cc,#70bfd7,#77bedc,#7bbede,#7cbedf,#7bbedf,#7bbede,#79bedd,#78bedc,#76bfdb,#74bfda,#72bfd8,#70bfd7,#6ebfd5,#6cbfd3,#6ac0d2,#69c0d0,#67c0cf,#6bc0d2,#84bde4,#9dbdee,#9ebdef)"></i><i style="background:linear-gradient(90deg,#bec1f6,#bec1f6,#bec1f6,#bec1f6,#bec1f6,#bec1f6,#bec1f6,#bec1f6,#bfc2f6,#bfc2f6,#c0c2f6,#c0c2f6,#c1c2f6,#c2c2f6,#c2c2f6,#c1c2f6,#c1c2f6,#c0c2f6,#bfc2f6,#bfc2f6,#bec2f6,#bec1f6,#bec1f6,#bec1f6,#bec1f6,#bdc1f6,#bdc1f6,#bac1f5,#b5bff4,#a6bef1,#82bee3,#51c3b4,#3cc271,#42ba49,#48b439,#4ab234,#49b337,#46b63f,#40bb50,#3cc16b,#40c48e,#4ec3b0,#5fc1c7,#6dbfd4,#76bfdb,#7abede,#7cbedf,#7dbee0,#7dbedf,#7cbedf,#7abede,#79bedd,#77bedc,#75bfda,#73bfd9,#71bfd8,#6fbfd6,#6dbfd4,#6bc0d2,#68c0d0,#65c0cd,#67c0cf,#84bde4,#9dbdee,#9ebdef)"></i><i style="background:linear-gradient(90deg,#bec1f6,#bec1f6,#bec1f6,#bec1f6,#bec1f6,#bec1f6,#bec1f6,#bec1f6,#bec1f6,#bfc2f6,#bfc2f6,#c0c2f6,#c0c2f6,#c0c2f6,#c0c2f6,#c0c2f6,#c0c2f6,#bfc2f6,#bfc2f6,#bfc2f6,#bec1f6,#bec1f6,#bec1f6,#bec1f6,#bdc1f6,#bdc1f6,#bbc1f5,#b7c0f5,#acbef3,#90bde9,#5fc1c6,#3ec384,#40bc52,#47b53c,#4ab335,#4ab335,#47b53c,#42ba4a,#3dbf62,#3ec384,#49c3a7,#5ac2c1,#69c0d1,#73bfd9,#79bedd,#7cbedf,#7ebee0,#7ebee0,#7ebee0,#7dbedf,#7bbedf,#7abede,#78bedd,#76bedb,#74bfda,#72bfd8,#70bfd7,#6dbfd4,#68c0d0,#62c1ca,#5bc2c2,#5dc1c4,#82bee2,#9dbdee,#9ebdef)"></i><i style="background:linear-gradient(90deg,#bec1f6,#bec1f6,#bec1f6,#bec1f6,#bec1f6,#bec1f6,#bec1f6,#bec1f6,#bec1f6,#bec2f6,#bfc2f6,#bfc2f6,#bfc2f6,#c0c2f6,#c0c2f6,#bfc2f6,#bfc2f6,#bfc2f6,#bfc2f6,#bec1f6,#bec1f6,#bec1f6,#bec1f6,#bec1f6,#bdc1f6,#bcc1f5,#b9c0f5,#b1bff4,#9bbdee,#6fbfd6,#44c499,#3dbf5d,#45b740,#4ab336,#4ab235,#48b439,#43b845,#3ebe5a,#3dc37a,#45c49e,#55c2bb,#65c0cd,#71bfd7,#78bedc,#7bbedf,#7dbee0,#7ebee0,#7fbee1,#7ebee0,#7dbee0,#7cbedf,#7bbede,#79bedd,#78bedc,#76bfdb,#73bfd9,#70bfd6,#6ac0d2,#61c1c9,#56c2bc,#4ac3a8,#4cc3ac,#7ebee0,#9dbdee,#9ebdef)"></i><i style="background:linear-gradient(90deg,#bec1f6,#bec1f6,#bec1f6,#bec1f6,#bec1f6,#bec1f6,#bec1f6,#bec1f6,#bec1f6,#bec1f6,#bec2f6,#bfc2f6,#bfc2f6,#bfc2f6,#bfc2f6,#bfc2f6,#bfc2f6,#bfc2f6,#bec1f6,#bec1f6,#bec1f6,#bec1f6,#bec1f6,#bdc1f6,#bcc1f5,#bac1f5,#b4bff4,#a4bef1,#7fbee1,#4ec3af,#3cc16d,#43b946,#49b438,#4ab235,#49b438,#45b741,#3fbc53,#3cc170,#42c494,#51c3b4,#61c1c9,#6ebfd5,#76bedb,#7abede,#7dbee0,#7ebee0,#7fbee1,#7fbee1,#7fbee1,#7ebee0,#7dbee0,#7cbedf,#7abede,#79bedd,#76bedb,#73bfd9,#6dbfd4,#62c1ca,#54c2b9,#45c49c,#3cc276,#3dc37c,#58c2bf,#67c0cf,#66c0ce)"></i><i style="background:linear-gradient(90deg,#bec1f6,#bec1f6,#bec1f6,#bec1f6,#bec1f6,#bec1f6,#bec1f6,#bec1f6,#bec1f6,#bec1f6,#bec1f6,#bec1f6,#bec2f6,#bec2f6,#bfc2f6,#bec2f6,#bec1f6,#bec1f6,#bec1f6,#bec1f6,#bec1f6,#bec1f6,#bdc1f6,#bdc1f6,#bbc1f5,#b7c0f5,#abbef2,#8ebde9,#5cc1c3,#3dc380,#40bb4f,#47b53b,#4ab335,#49b336,#46b63e,#41bb4d,#3cc067,#3fc48a,#4cc3ac,#5dc1c4,#6bc0d3,#74bfda,#79bedd,#7cbedf,#7ebee0,#7ebee1,#7fbee1,#7fbee1,#7fbee1,#7fbee1,#7ebee0,#7dbee0,#7bbedf,#7abede,#77bedb,#70bfd7,#65c0cd,#55c2ba,#43c497,#3dc065,#4cb132,#43b946,#54c2b9,#68c0d0,#67c0cf)"></i><i style="background:linear-gradient(90deg,#bec1f6,#bec1f6,#bec1f6,#bfc2f6,#bfc2f6,#bfc2f6,#bfc2f6,#bfc2f6,#bec2f6,#bec1f6,#bec1f6,#bec1f6,#bec1f6,#bec1f6,#bec1f6,#bec1f6,#bec1f6,#bec1f6,#bec1f6,#bec1f6,#bec1f6,#bec1f6,#bdc1f6,#bcc1f5,#b9c0f5,#b1bff4,#9abdee,#6dbfd4,#42c496,#3ebe5b,#45b73f,#4ab336,#4ab336,#47b53b,#42b948,#3dbf5f,#3dc380,#48c4a3,#58c2bf,#67c0cf,#72bfd8,#78bedd,#7cbedf,#7dbee0,#7ebee0,#7fbee1,#7fbee1,#7fbee1,#7fbee1,#7fbee1,#7ebee1,#7ebee0,#7cbedf,#7abede,#76bfdb,#6bc0d3,#58c2bf,#44c49a,#3dbf60,#56a923,#848213,#639f1a,#50c3b3,#69c0d0,#5ec1c6)"></i><i style="background:linear-gradient(90deg,#bec1f6,#bec1f6,#bfc2f6,#bfc2f6,#bfc2f6,#bfc2f6,#bfc2f6,#bfc2f6,#bfc2f6,#bfc2f6,#bec1f6,#bec1f6,#bec1f6,#bec1f6,#bec1f6,#bec1f6,#bec1f6,#bec1f6,#bec1f6,#bec1f6,#bec1f6,#bdc1f6,#bdc1f6,#bac1f5,#b4bff4,#a4bdf1,#7ebee0,#4cc3ad,#3cc16b,#43b946,#49b438,#4ab335,#48b439,#44b844,#3ebd58,#3dc277,#44c49a,#53c2b8,#64c0cc,#70bfd6,#77bedc,#7bbede,#7dbee0,#7ebee0,#7fbee1,#7fbee1,#7fbee1,#7fbee1,#7fbee1,#7fbee1,#7fbee1,#7ebee0,#7dbee0,#7abede,#73bfd9,#62c1ca,#49c4a5,#3cc066,#59a720,#917515,#ad502e,#8b7b14,#4dc3ae,#5cc1c4,#5ec1c6)"></i><i style="background:linear-gradient(90deg,#bfc2f6,#bfc2f6,#bfc2f6,#c0c2f6,#c0c2f6,#c0c2f6,#c0c2f6,#c0c2f6,#bfc2f6,#bfc2f6,#bec2f6,#bec1f6,#bec1f6,#bec1f6,#bec1f6,#bec1f6,#bec1f6,#bec1f6,#bec1f6,#bec1f6,#bdc1f6,#bdc1f6,#bbc1f5,#b7c0f5,#acbef2,#8ebde9,#5bc1c3,#3dc37e,#40bb4e,#47b53b,#4ab336,#49b438,#45b741,#3fbc52,#3cc16e,#41c491,#4fc3b1,#5fc1c7,#6dbfd4,#75bfdb,#7abede,#7dbedf,#7ebee0,#7fbee1,#7fbee1,#7fbee1,#7fbee1,#7fbee1,#7fbee1,#7fbee1,#7fbee1,#7ebee1,#7dbee0,#79bedd,#6ebfd5,#57c2bd,#3ec382,#52ad29,#917515,#af4838,#a8355c,#a35f20,#3dc37b,#5cc1c4,#5ec1c6)"></i><i style="background:linear-gradient(90deg,#bfc2f6,#bfc2f6,#c0c2f6,#c1c2f6,#c2c2f6,#c2c2f6,#c2c2f6,#c1c2f6,#c0c2f6,#bfc2f6,#bfc2f6,#bec1f6,#bec1f6,#bec1f6,#bec1f6,#bec1f6,#bec1f6,#bec1f6,#bec1f6,#bec1f6,#bdc1f6,#bcc1f5,#b9c0f5,#b1bff4,#9bbdee,#6dbfd4,#42c496,#3ebe5b,#45b73f,#49b337,#49b337,#46b63e,#41bb4d,#3cc066,#3fc388,#4bc3aa,#5bc1c3,#6ac0d1,#73bfd9,#79bedd,#7cbedf,#7ebee0,#7ebee0,#7fbee1,#7fbee1,#7fbee1,#7fbee1,#7fbee1,#7fbee1,#7fbee1,#7fbee1,#7fbee1,#7dbedf,#76bedb,#66c0ce,#4ac3a8,#3fbd56,#7d8813,#ae4b34,#a43362,#8c2f78,#ad502f,#3dc279,#5cc1c4,#5ec1c6)"></i><i style="background:linear-gradient(90deg,#c0c2f6,#c0c2f6,#c1c2f6,#c2c3f6,#c4c3f6,#c4c3f6,#c4c3f6,#c3c3f6,#c1c2f6,#c0c2f6,#bfc2f6,#bfc2f6,#bec1f6,#bec1f6,#bec1f6,#bec1f6,#bec1f6,#bec1f6,#bec1f6,#bdc1f6,#bdc1f6,#bbc1f5,#b5bff4,#a5bef1,#7fbee1,#4dc3ae,#3cc16b,#43b946,#48b439,#49b337,#47b53c,#42ba49,#3dbf5f,#3dc37f,#47c4a2,#57c2bd,#66c0ce,#71bfd8,#78bedc,#7bbedf,#7dbee0,#7ebee0,#7fbee1,#7fbee1,#7fbee1,#7fbee1,#7fbee1,#7fbee1,#7fbee1,#7fbee1,#7fbee1,#7ebee1,#7bbedf,#72bfd8,#5cc1c3,#40c48c,#4eaf2e,#9d681b,#ab3756,#8d2f77,#793180,#af3f46,#3dc278,#5cc1c4,#5ec1c6)"></i><i style="background:linear-gradient(90deg,#c0c2f6,#c1c2f6,#c3c3f6,#c4c3f6,#c6c4f7,#c6c4f7,#c6c4f7,#c5c3f6,#c3c3f6,#c1c2f6,#c0c2f6,#bfc2f6,#bec1f6,#bec1f6,#bec1f6,#bec1f6,#bec1f6,#bec1f6,#bec1f6,#bdc1f6,#bcc1f5,#b8c0f5,#adbef3,#8fbde9,#5dc1c4,#3dc380,#40bb50,#47b53c,#49b337,#48b53a,#43b845,#3ebe59,#3dc277,#44c49a,#53c3b7,#63c1cb,#6fbfd6,#76bedb,#7bbede,#7dbee0,#7ebee0,#7fbee1,#7fbee1,#7fbee1,#7fbee1,#7fbee1,#7fbee1,#7fbee1,#7fbee1,#7fbee1,#7fbee1,#7ebee0,#79bedd,#6cc0d3,#51c3b4,#3cc16c,#6b9917,#ac522c,#a13266,#7f307e,#763181,#af3f45,#3dc37a,#5cc1c4,#5ec1c6)"></i><i style="background:linear-gradient(90deg,#c1c2f6,#c2c2f6,#c4c3f6,#c7c4f7,#c8c5f7,#c9c5f7,#c9c5f7,#c7c4f7,#c5c3f6,#c2c3f6,#c0c2f6,#bfc2f6,#bec2f6,#bec1f6,#bec1f6,#bec1f6,#bec1f6,#bec1f6,#bdc1f6,#bdc1f6,#bbc1f5,#b4bff4,#a0bdf0,#71bfd7,#43c499,#3dbe5d,#45b741,#48b438,#48b439,#44b742,#3fbc53,#3cc16f,#41c491,#4fc3b1,#5fc1c7,#6cbfd4,#75bfda,#7abede,#7cbedf,#7ebee0,#7ebee1,#7fbee1,#7fbee1,#7fbee1,#7fbee1,#7fbee1,#7fbee1,#7fbee1,#7fbee1,#7fbee1,#7ebee0,#7cbedf,#75bfdb,#63c1cb,#46c49f,#42b948,#887e13,#b04241,#973070,#7c3080,#763181,#b04241,#3dc37c,#5cc1c4,#5ec1c6)"></i><i style="background:linear-gradient(90deg,#c2c3f6,#c3c3f6,#c6c4f7,#c9c5f7,#cbc6f7,#ccc6f7,#ccc6f7,#c9c5f7,#c6c4f7,#c3c3f6,#c1c2f6,#bfc2f6,#bfc2f6,#bec1f6,#bec1f6,#bec1f6,#bec1f6,#bec1f6,#bdc1f6,#bcc1f5,#b8c0f5,#adbef3,#8cbde8,#53c2b8,#3cc16f,#42ba49,#47b53b,#48b43a,#45b740,#40bb4f,#3cc068,#3fc489,#4bc3aa,#5bc1c3,#6ac0d1,#73bfd9,#79bedd,#7cbedf,#7dbee0,#7ebee0,#7fbee1,#7fbee1,#7fbee1,#7fbee1,#7fbee1,#7fbee1,#7fbee1,#7fbee1,#7fbee1,#7fbee1,#7dbee0,#79bedd,#6ebfd5,#58c2bf,#3ec383,#54ab25,#9f651d,#ac3853,#8f2f76,#7d307f,#7a3080,#af463b,#3dc380,#5cc1c4,#5ec1c6)"></i><i style="background:linear-gradient(90deg,#c3c3f6,#c4c3f6,#c7c4f7,#cbc6f7,#cec7f7,#cfc7f7,#cec7f7,#ccc6f7,#c8c4f7,#c5c3f6,#c2c2f6,#c0c2f6,#bfc2f6,#bec1f6,#bec1f6,#bec1f6,#bec1f6,#bdc1f6,#bdc1f6,#bbc1f5,#b4bff4,#9fbdef,#6fbfd6,#41c491,#3fbd56,#45b740,#47b53b,#46b63f,#41ba4b,#3dbf62,#3ec381,#48c4a3,#58c2be,#67c0cf,#71bfd8,#78bedc,#7bbedf,#7dbee0,#7ebee0,#7fbee1,#7fbee1,#7fbee1,#7fbee1,#7fbee1,#7fbee1,#7fbee1,#7fbee1,#7fbee1,#7fbee1,#7ebee0,#7cbedf,#74bfda,#64c0cc,#4bc3ab,#3dbf61,#729315,#ac512e,#a53361,#8b2f78,#81307e,#83307d,#ad4e31,#3ec383,#5cc1c4,#5ec1c6)"></i><i style="background:linear-gradient(90deg,#c4c3f6,#c5c3f6,#c9c5f7,#cdc6f7,#d0c8f7,#d1c8f7,#d0c8f7,#cdc7f7,#c9c5f7,#c5c4f6,#c2c3f6,#c0c2f6,#bfc2f6,#bec1f6,#bec1f6,#bec1f6,#bec1f6,#bdc1f6,#bcc1f5,#b8c0f5,#acbef3,#8abde7,#52c3b7,#3cc16f,#42b948,#46b63d,#46b63f,#42ba49,#3dbe5c,#3dc37a,#45c49c,#54c2b9,#64c0cc,#6fbfd6,#77bedb,#7bbede,#7dbee0,#7ebee0,#7fbee1,#7fbee1,#7fbee1,#7fbee1,#7fbee1,#7fbee1,#7fbee1,#7fbee1,#7fbee1,#7fbee1,#7fbee1,#7dbee0,#78bedd,#6cbfd4,#57c2bd,#40c48c,#46b63d,#8e7914,#b04240,#9e316a,#8b2f78,#862f7b,#8e2f77,#a85826,#3fc388,#5cc1c4,#5ec1c6)"></i><i style="background:linear-gradient(90deg,#c4c3f6,#c5c3f6,#c9c5f7,#cec7f7,#d1c8f7,#d3c9f7,#d2c8f7,#cec7f7,#cac5f7,#c6c4f7,#c2c3f6,#c0c2f6,#bfc2f6,#bec1f6,#bec1f6,#bec1f6,#bdc1f6,#bdc1f6,#bac1f5,#b4bff4,#9fbdef,#6ebfd5,#41c491,#3ebd58,#44b742,#46b63f,#42b947,#3ebd58,#3cc274,#42c495,#50c3b3,#60c1c8,#6dbfd4,#75bfda,#7abede,#7cbedf,#7ebee0,#7ebee1,#7fbee1,#7fbee1,#7fbee1,#7fbee1,#7fbee1,#7fbee1,#7fbee1,#7fbee1,#7fbee1,#7fbee1,#7ebee0,#7bbede,#73bfd9,#61c1c9,#49c4a6,#3dc063,#639f1a,#a2621f,#ad3a50,#99306e,#8e2f77,#8d2f77,#9b306d,#9f661c,#40c48c,#5cc1c4,#5ec1c6)"></i><i style="background:linear-gradient(90deg,#c4c3f6,#c5c4f7,#cac5f7,#cec7f7,#d1c8f7,#d3c9f7,#d2c9f7,#cfc7f7,#cac5f7,#c6c4f7,#c3c3f6,#c0c2f6,#bfc2f6,#bec1f6,#bec1f6,#bec1f6,#bdc1f6,#bcc1f5,#b8c0f5,#abbef2,#89bde6,#52c3b6,#3cc170,#41ba4b,#45b741,#43b844,#3fbc54,#3cc16e,#40c48e,#4dc3ae,#5dc1c5,#6bc0d2,#74bfd9,#79bedd,#7cbedf,#7ebee0,#7ebee0,#7fbee1,#7fbee1,#7fbee1,#7fbee1,#7fbee1,#7fbee1,#7fbee1,#7fbee1,#7fbee1,#7fbee1,#7ebee0,#7cbedf,#77bedc,#6ac0d2,#54c2b9,#3ec383,#4ab336,#868013,#ad4e31,#a8355b,#973070,#912f75,#963071,#a6345e,#917515,#41c48f,#5cc1c4,#5ec1c6)"></i><i style="background:linear-gradient(90deg,#c4c3f6,#c5c4f7,#c9c5f7,#cec7f7,#d1c8f7,#d2c9f7,#d1c8f7,#cec7f7,#cac5f7,#c6c4f7,#c2c3f6,#c0c2f6,#bfc2f6,#bec1f6,#bec1f6,#bdc1f6,#bdc1f6,#bac1f5,#b3bff4,#9ebdef,#6cbfd4,#41c491,#3ebe5a,#43b946,#44b844,#40bb4e,#3dc065,#3fc387,#4ac3a8,#5ac2c1,#68c0d0,#72bfd8,#78bedc,#7bbedf,#7dbee0,#7ebee0,#7fbee1,#7fbee1,#7fbee1,#7fbee1,#7fbee1,#7fbee1,#7fbee1,#7fbee1,#7fbee1,#7fbee1,#7fbee1,#7dbee0,#79bedd,#70bfd7,#5ec1c6,#46c49e,#3ebd58,#6a9917,#a1631e,#af4044,#a43362,#99306f,#963071,#9f3168,#ae3c4c,#818513,#42c493,#5cc1c4,#5ec1c6)"></i><i style="background:linear-gradient(90deg,#c4c3f6,#c5c3f6,#c9c5f7,#cdc6f7,#d0c8f7,#d1c8f7,#cfc7f7,#cdc6f7,#c9c5f7,#c5c3f6,#c2c2f6,#c0c2f6,#bfc2f6,#bec1f6,#bec1f6,#bdc1f6,#bcc1f5,#b8c0f5,#abbef2,#88bde6,#51c3b5,#3cc271,#40bb4f,#43b946,#41ba4b,#3dbe5c,#3dc37b,#46c49f,#56c2bd,#65c0cd,#70bfd7,#77bedc,#7bbede,#7dbee0,#7ebee0,#7fbee1,#7fbee1,#7fbee1,#7fbee1,#7fbee1,#7fbee1,#7fbee1,#7fbee1,#7fbee1,#7fbee1,#7fbee1,#7ebee0,#7bbede,#74bfda,#65c0cd,#4fc3b2,#3dc27a,#50ae2c,#8d7914,#ae4c33,#ac3854,#a13266,#9b316c,#9d316b,#a8355b,#af4838,#6f9516,#42c496,#5cc1c4,#5ec1c6)"></i><i style="background:linear-gradient(90deg,#c4c3f6,#c5c3f6,#c8c5f7,#ccc6f7,#cec7f7,#cfc7f7,#cdc7f7,#cbc5f7,#c7c4f7,#c4c3f6,#c1c2f6,#c0c2f6,#bfc2f6,#bec1f6,#bdc1f6,#bdc1f6,#bac1f5,#b3bff4,#9dbdee,#6bc0d3,#41c491,#3dbe5d,#41ba4a,#42ba4a,#3fbd56,#3cc170,#41c492,#50c3b4,#62c1ca,#6ebfd5,#76bfdb,#7abede,#7dbedf,#7ebee0,#7ebee1,#7fbee1,#7fbee1,#7fbee1,#7fbee1,#7fbee1,#7fbee1,#7fbee1,#7fbee1,#7fbee1,#7fbee1,#7ebee0,#7cbedf,#77bedc,#6bc0d3,#57c2bd,#41c491,#41bb4d,#739115,#a55c23,#af3e48,#a6345f,#a13266,#9f3169,#a43362,#ae3c4b,#a85826,#5ea31d,#44c499,#5cc1c4,#5ec1c6)"></i><i style="background:linear-gradient(90deg,#c4c3f6,#c5c3f6,#c8c4f7,#cbc5f7,#ccc6f7,#ccc6f7,#cbc6f7,#c9c5f7,#c6c4f7,#c3c3f6,#c1c2f6,#bfc2f6,#bec1f6,#bec1f6,#bdc1f6,#bcc1f5,#b7c0f5,#aabef2,#87bde5,#51c3b4,#3cc273,#3fbc53,#41ba4b,#3fbc52,#3cc067,#3fc386,#4ac3a9,#5cc1c3,#6bc0d2,#75bfda,#7abedd,#7cbedf,#7ebee0,#7ebee0,#7fbee1,#7fbee1,#7fbee1,#7fbee1,#7fbee1,#7fbee1,#7fbee1,#7fbee1,#7fbee1,#7fbee1,#7fbee1,#7dbee0,#79bedd,#70bfd7,#5ec1c6,#47c4a3,#3dc065,#5aa61f,#947117,#af4838,#aa3757,#a23264,#a13266,#a43362,#ab3756,#af4838,#9a6b19,#51ad2a,#45c49c,#5cc1c4,#5ec1c6)"></i><i style="background:linear-gradient(90deg,#c5c3f6,#c5c3f6,#c8c4f7,#cac5f7,#cbc6f7,#cbc5f7,#c9c5f7,#c7c4f7,#c4c3f6,#c2c2f6,#c0c2f6,#bfc2f6,#bec1f6,#bec1f6,#bdc1f6,#bac0f5,#b2bff4,#9cbdee,#6ac0d2,#41c492,#3dbf61,#40bb50,#40bc51,#3dbf60,#3dc37b,#45c49e,#56c2bb,#66c0ce,#72bfd8,#78bedd,#7cbedf,#7dbee0,#7ebee0,#7fbee1,#7fbee1,#7fbee1,#7fbee1,#7fbee1,#7fbee1,#7fbee1,#7fbee1,#7fbee1,#7fbee1,#7fbee1,#7ebee0,#7bbede,#74bfda,#65c0cd,#4fc3b1,#3dc37b,#4bb233,#838313,#aa5529,#ae3c4c,#a53361,#a13266,#a23264,#a9365a,#af4045,#a95727,#877f13,#48b53a,#46c49f,#5dc1c4,#5ec1c6)"></i><i style="background:linear-gradient(90deg,#c5c3f6,#c6c4f7,#c8c5f7,#cac5f7,#cac5f7,#c9c5f7,#c7c4f7,#c5c3f6,#c3c3f6,#c1c2f6,#bfc2f6,#bfc2f6,#bec1f6,#bdc1f6,#bbc1f5,#b7c0f5,#a9bef2,#85bde4,#51c3b4,#3cc276,#3ebd58,#3fbc52,#3ebe5b,#3cc272,#41c492,#50c3b2,#61c1c9,#6ebfd5,#76bedb,#7bbede,#7dbee0,#7ebee0,#7fbee1,#7fbee1,#7fbee1,#7fbee1,#7fbee1,#7fbee1,#7fbee1,#7fbee1,#7fbee1,#7fbee1,#7fbee1,#7ebee1,#7dbedf,#77bedc,#6bc0d3,#57c2bd,#41c491,#41ba4b,#709415,#a1621e,#b04240,#a9365a,#a23265,#a13266,#a63460,#ae3b4e,#ae4d32,#9a6b19,#729215,#42ba4a,#47c4a2,#5dc1c4,#5ec1c6)"></i><i style="background:linear-gradient(90deg,#c6c4f7,#c7c4f7,#c9c5f7,#cac5f7,#cac5f7,#c8c4f7,#c6c4f7,#c3c3f6,#c1c2f6,#c0c2f6,#bfc2f6,#bec1f6,#bec1f6,#bcc1f5,#bac0f5,#b1bff4,#99bded,#68c0d0,#41c492,#3dc065,#3fbd56,#3ebe59,#3cc16a,#3fc387,#4ac3a8,#5bc2c2,#6ac0d2,#74bfda,#7abedd,#7cbedf,#7ebee0,#7fbee1,#7fbee1,#7fbee1,#7fbee1,#7fbee1,#7fbee1,#7fbee1,#7fbee1,#7fbee1,#7fbee1,#7fbee1,#7fbee1,#7ebee0,#7abede,#71bfd7,#5fc1c7,#48c4a3,#3dc065,#5aa61f,#957117,#af4a35,#ac3854,#a33363,#a13266,#a33363,#aa3757,#b0433f,#a45e21,#848213,#5fa21c,#3ebd58,#48c4a4,#5dc1c4,#5ec1c6)"></i><i style="background:linear-gradient(90deg,#c7c4f7,#c7c4f7,#cac5f7,#cac5f7,#cac5f7,#c8c4f7,#c5c3f6,#c3c3f6,#c1c2f6,#bfc2f6,#bfc2f6,#bec1f6,#bdc1f6,#bbc1f5,#b6c0f5,#a7bef1,#82bee3,#4fc3b2,#3dc278,#3dbe5d,#3ebe59,#3dc065,#3dc37d,#45c49e,#55c2bb,#65c0cd,#71bfd8,#78bedc,#7cbedf,#7dbee0,#7ebee0,#7fbee1,#7fbee1,#7fbee1,#7fbee1,#7fbee1,#7fbee1,#7fbee1,#7fbee1,#7fbee1,#7fbee1,#7fbee1,#7ebee1,#7cbedf,#75bfdb,#67c0cf,#50c3b3,#3dc37e,#4ab335,#828413,#aa5529,#ae3c4b,#a6345f,#a13266,#a23265,#a7345e,#ae3c4b,#ac512d,#947216,#6d9716,#4db030,#3dc064,#49c4a6,#5dc1c4,#5ec1c6)"></i><i style="background:linear-gradient(90deg,#c7c4f7,#c8c4f7,#cac5f7,#cbc5f7,#cac5f7,#c7c4f7,#c4c3f6,#c2c2f6,#c0c2f6,#bfc2f6,#bec1f6,#bdc1f6,#bcc1f5,#b9c0f5,#b0bff3,#97bdec,#65c0cd,#41c492,#3cc069,#3ebe5c,#3dbf61,#3cc275,#42c493,#4fc3b2,#60c1c8,#6ebfd5,#76bedb,#7bbede,#7dbee0,#7ebee0,#7fbee1,#7fbee1,#7fbee1,#7fbee1,#7fbee1,#7fbee1,#7fbee1,#7fbee1,#7fbee1,#7fbee1,#7fbee1,#7fbee1,#7ebee0,#79bedd,#6ebfd5,#5ac2c1,#42c495,#40bc50,#6c9716,#a0651d,#b0433f,#a9365a,#a23265,#a13266,#a43362,#ab3854,#af463b,#a1631e,#7e8713,#58a820,#43b844,#3cc16e,#4ac3a7,#5dc1c5,#5ec1c6)"></i><i style="background:linear-gradient(90deg,#c7c4f7,#c8c4f7,#cac5f7,#cbc5f7,#c9c5f7,#c7c4f7,#c4c3f6,#c1c2f6,#c0c2f6,#bfc2f6,#bec1f6,#bdc1f6,#bbc1f5,#b6c0f4,#a6bef1,#7fbee1,#4ec3af,#3dc27a,#3dbf62,#3dbf61,#3cc16f,#3fc389,#4ac3a8,#5ac2c2,#6ac0d1,#74bfd9,#79bedd,#7cbedf,#7ebee0,#7ebee1,#7fbee1,#7fbee1,#7fbee1,#7fbee1,#7fbee1,#7fbee1,#7fbee1,#7fbee1,#7fbee1,#7fbee1,#7fbee1,#7ebee1,#7cbedf,#75bfda,#64c0cc,#4bc3aa,#3cc16d,#56aa23,#907615,#ae4d31,#ad3a50,#a53361,#a13266,#a33264,#a9365a,#af3f45,#aa5529,#8f7715,#689b18,#4ab335,#3fbd56,#3dc277,#4ac3a9,#5dc1c5,#5ec1c6)"></i><i style="background:linear-gradient(90deg,#c7c4f7,#c8c4f7,#c9c5f7,#cac5f7,#c8c5f7,#c6c4f7,#c3c3f6,#c1c2f6,#bfc2f6,#bec1f6,#bdc1f6,#bcc1f5,#b9c0f5,#afbff3,#94bdeb,#62c1cb,#41c491,#3cc16d,#3dc063,#3cc16b,#3ec381,#45c49e,#55c2ba,#65c0cd,#71bfd7,#78bedc,#7bbedf,#7dbee0,#7ebee0,#7fbee1,#7fbee1,#7fbee1,#7fbee1,#7fbee1,#7fbee1,#7fbee1,#7fbee1,#7fbee1,#7fbee1,#7fbee1,#7fbee1,#7ebee0,#79bedd,#6dbfd4,#57c2bd,#3fc389,#46b63f,#7b8a13,#a75a24,#af3f45,#a8355b,#a33363,#a33264,#a6345e,#ae3b4d,#ae4c33,#9c691b,#798c14,#54ab25,#42ba49,#3dc063,#3dc37e,#4cc3ac,#5dc1c5,#5ec1c6)"></i><i style="background:linear-gradient(90deg,#c6c4f7,#c7c4f7,#c8c4f7,#c8c5f7,#c7c4f7,#c5c3f6,#c2c3f6,#c0c2f6,#bfc2f6,#bec1f6,#bdc1f6,#bbc1f5,#b5bff4,#a3bdf0,#7bbede,#4cc3ad,#3dc37c,#3cc068,#3cc169,#3dc27a,#42c495,#4fc3b2,#60c1c8,#6dbfd4,#76bfdb,#7abede,#7dbee0,#7ebee0,#7fbee1,#7fbee1,#7fbee1,#7fbee1,#7fbee1,#7fbee1,#7fbee1,#7fbee1,#7fbee1,#7fbee1,#7fbee1,#7fbee1,#7fbee1,#7cbedf,#74bfda,#63c1cb,#49c4a5,#3dbf60,#639f1a,#9a6b19,#af4838,#ac3853,#a6345f,#a43362,#a6345f,#ac3853,#b0453c,#a45e21,#868013,#639f1a,#48b53a,#3ebe59,#3cc16e,#3ec384,#4ec3b0,#5dc1c5,#5ec1c6)"></i><i style="background:linear-gradient(90deg,#c5c3f6,#c5c3f6,#c6c4f7,#c7c4f7,#c6c4f7,#c4c3f6,#c1c2f6,#c0c2f6,#bec2f6,#bdc1f6,#bcc1f5,#b8c0f5,#adbef3,#90bdea,#5fc1c7,#41c491,#3cc271,#3cc16a,#3cc275,#40c48c,#4ac3a9,#5ac2c2,#69c0d1,#73bfd9,#79bedd,#7cbedf,#7ebee0,#7ebee1,#7fbee1,#7fbee1,#7fbee1,#7fbee1,#7fbee1,#7fbee1,#7fbee1,#7fbee1,#7fbee1,#7fbee1,#7fbee1,#7fbee1,#7ebee0,#7abedd,#6dbfd4,#56c2bb,#3ec384,#4ab235,#868013,#ab532b,#af3d49,#a9365a,#a6345f,#a6345e,#ab3756,#b04143,#aa5529,#927416,#6e9616,#4faf2d,#41bb4d,#3cc066,#3cc276,#40c48d,#50c3b3,#5dc1c5,#5ec1c6)"></i><i style="background:linear-gradient(90deg,#c3c3f6,#c3c3f6,#c5c3f6,#c5c3f6,#c4c3f6,#c2c3f6,#c1c2f6,#bfc2f6,#bec1f6,#bdc1f6,#bac1f5,#b4bff4,#a1bdf0,#76bedb,#4bc3aa,#3dc37e,#3cc16e,#3cc272,#3ec385,#46c4a0,#55c2bb,#65c0cd,#71bfd7,#78bedc,#7bbedf,#7dbee0,#7ebee0,#7fbee1,#7fbee1,#7fbee1,#7fbee1,#7fbee1,#7fbee1,#7fbee1,#7fbee1,#7fbee1,#7fbee1,#7fbee1,#7fbee1,#7fbee1,#7dbedf,#75bfda,#63c1cb,#48c4a3,#3ebe5a,#699a17,#9f651d,#b0443d,#ac3853,#a8355c,#a7355d,#aa3757,#af3e48,#ad4e30,#9b6a1a,#7a8b13,#57a821,#44b843,#3dbf5d,#3cc170,#3dc37e,#42c495,#52c3b6,#5ec1c5,#5ec1c6)"></i><i style="background:linear-gradient(90deg,#c2c2f6,#c2c2f6,#c3c3f6,#c3c3f6,#c2c3f6,#c1c2f6,#c0c2f6,#bfc2f6,#bdc1f6,#bcc1f5,#b7c0f5,#abbef2,#8cbde8,#5cc1c3,#41c490,#3cc275,#3cc272,#3dc37f,#43c498,#50c3b3,#60c1c8,#6dbfd4,#76bfdb,#7abede,#7dbee0,#7ebee0,#7fbee1,#7fbee1,#7fbee1,#7fbee1,#7fbee1,#7fbee1,#7fbee1,#7fbee1,#7fbee1,#7fbee1,#7fbee1,#7fbee1,#7fbee1,#7ebee0,#7abede,#6ebfd5,#55c2bb,#3ec381,#4eb02f,#8b7b14,#ac502e,#ae3c4b,#aa3758,#a9355a,#aa3758,#ae3c4c,#af4937,#a2611f,#848213,#62a01b,#48b438,#3fbd56,#3cc16a,#3dc278,#3fc388,#45c49d,#54c2b9,#5ec1c6,#5ec1c6)"></i><i style="background:linear-gradient(90deg,#c0c2f6,#c1c2f6,#c1c2f6,#c1c2f6,#c1c2f6,#c0c2f6,#bfc2f6,#bec1f6,#bdc1f6,#bac0f5,#b2bff4,#9dbdee,#72bfd8,#49c4a7,#3dc380,#3cc274,#3dc37b,#41c490,#4bc3ab,#5bc2c2,#69c0d1,#73bfd9,#79bedd,#7cbedf,#7ebee0,#7ebee1,#7fbee1,#7fbee1,#7fbee1,#7fbee1,#7fbee1,#7fbee1,#7fbee1,#7fbee1,#7fbee1,#7fbee1,#7fbee1,#7fbee1,#7fbee1,#7dbee0,#76bfdb,#64c0cc,#48c4a3,#3ebd57,#6e9616,#a2611f,#b0433e,#ac3952,#aa3757,#aa3757,#ae3b4e,#b0453c,#a75a24,#8e7815,#6c9817,#4eaf2e,#41bb4d,#3dc065,#3cc274,#3ec382,#41c491,#48c4a5,#56c2bc,#5ec1c6,#60c1c8)"></i><i style="background:linear-gradient(90deg,#bfc2f6,#c0c2f6,#c0c2f6,#c0c2f6,#c0c2f6,#bfc2f6,#bec1f6,#bdc1f6,#bbc1f5,#b6c0f5,#a9bef2,#87bde5,#58c2bf,#41c48f,#3dc279,#3dc279,#3fc389,#47c4a2,#55c2bb,#65c0cd,#71bfd7,#78bedc,#7bbedf,#7dbee0,#7ebee0,#7fbee1,#7fbee1,#7fbee1,#7fbee1,#7fbee1,#7fbee1,#7fbee1,#7fbee1,#7fbee1,#7fbee1,#7fbee1,#7fbee1,#7fbee1,#7ebee0,#7bbede,#6fbfd6,#56c2bd,#3ec381,#4faf2d,#8e7815,#ad4e30,#af3d4a,#ac3854,#ab3755,#ad3a4f,#b04240,#aa542a,#967017,#768f14,#55aa24,#44b844,#3dbf5e,#3cc170,#3dc37c,#40c48c,#44c49b,#4cc3ac,#59c2c0,#66c0ce,#6cc0d3)"></i><i style="background:linear-gradient(90deg,#bfc2f6,#bfc2f6,#bfc2f6,#bfc2f6,#bfc2f6,#bec1f6,#bdc1f6,#bbc1f5,#b8c0f5,#b0bff3,#99bded,#6cc0d3,#48c4a3,#3ec382,#3dc27a,#3ec384,#44c49a,#50c3b3,#60c1c8,#6dbfd4,#76bfdb,#7abede,#7dbee0,#7ebee0,#7fbee1,#7fbee1,#7fbee1,#7fbee1,#7fbee1,#7fbee1,#7fbee1,#7fbee1,#7fbee1,#7fbee1,#7fbee1,#7fbee1,#7fbee1,#7fbee1,#7dbee0,#77bedc,#65c0cd,#48c4a5,#3ebd58,#6f9516,#a36020,#b0433f,#ad3a4f,#ac3953,#ad3a50,#af4044,#ad4f2f,#9c681b,#7e8713,#5ea31d,#47b53b,#3ebd57,#3cc16b,#3dc278,#3fc387,#43c496,#48c4a4,#50c3b3,#5ec1c5,#72bfd8,#78bedd)"></i><i style="background:linear-gradient(90deg,#bec1f6,#bec1f6,#bec1f6,#bec1f6,#bec1f6,#bdc1f6,#bbc1f5,#b8c0f5,#b2bff4,#a4bdf0,#81bee2,#54c2b9,#40c48f,#3dc37d,#3dc380,#41c492,#4bc3ab,#5bc2c2,#69c0d1,#73bfd9,#79bedd,#7cbedf,#7ebee0,#7ebee1,#7fbee1,#7fbee1,#80bee1,#80bee1,#80bee1,#7fbee1,#7fbee1,#7fbee1,#7fbee1,#7fbee1,#7fbee1,#7fbee1,#7fbee1,#7ebee0,#7bbede,#70bfd6,#58c2be,#3ec383,#4eaf2e,#8d7914,#ac502e,#af3e47,#ad3a50,#ad3a50,#af3e47,#ae4b35,#a2621f,#868013,#659d19,#4cb132,#40bb4f,#3dc065,#3cc275,#3ec382,#41c492,#46c4a0,#4cc3ad,#57c2bd,#69c0d0,#7fbee1,#84bde4)"></i><i style="background:linear-gradient(90deg,#bec1f6,#bec1f6,#bec1f6,#bec1f6,#bdc1f6,#bbc1f5,#b8c0f5,#b1bff4,#a3bdf0,#8abde7,#66c0ce,#46c49f,#3ec383,#3dc37f,#40c48c,#47c4a3,#55c2bb,#65c0cd,#70bfd7,#77bedc,#7bbedf,#7dbee0,#7ebee0,#7fbee1,#7fbee1,#80bee1,#80bee1,#80bee2,#80bee1,#80bee1,#7fbee1,#7fbee1,#7fbee1,#7fbee1,#7fbee1,#7fbee1,#7fbee1,#7dbee0,#76bfdb,#64c0cc,#49c4a7,#3ebe59,#6d9616,#a1631e,#af4739,#af3d49,#ae3b4d,#af3d49,#af473a,#a75a24,#8f7815,#6d9716,#51ad2a,#42b948,#3dbf60,#3cc270,#3dc37d,#40c48d,#44c49b,#4ac3a8,#51c3b5,#62c1ca,#76bfdb,#88bde6,#8dbde8)"></i><i style="background:linear-gradient(90deg,#bec1f6,#bec1f6,#bdc1f6,#bdc1f6,#bbc1f5,#b8c0f5,#b1bff4,#a3bdf0,#89bde6,#67c0cf,#4cc3ad,#40c48d,#3ec380,#3fc387,#44c49a,#50c3b3,#5fc1c7,#6dbfd4,#75bfdb,#7abede,#7dbee0,#7ebee0,#7fbee1,#7fbee1,#80bee1,#80bee2,#81bee2,#81bee2,#81bee2,#80bee2,#80bee1,#7fbee1,#7fbee1,#7fbee1,#7fbee1,#7fbee1,#7ebee0,#7abede,#6dbfd5,#55c2bb,#3ec381,#4eb02f,#8b7b14,#ab542a,#b0433f,#af3f46,#af3e47,#b0443d,#aa542a,#966f17,#768e14,#57a922,#45b741,#3ebe5a,#3cc16c,#3dc279,#3fc388,#43c497,#48c4a4,#4fc3b1,#5cc1c4,#6fbfd6,#83bee3,#92bdea,#97bdec)"></i><i style="background:linear-gradient(90deg,#bdc1f6,#bdc1f6,#bcc1f5,#bbc1f5,#b8c0f5,#b1bff4,#a2bdf0,#88bde6,#66c0ce,#4cc3ad,#41c491,#3ec384,#3ec384,#42c493,#4bc3aa,#5ac2c1,#68c0d0,#73bfd9,#79bedd,#7cbedf,#7ebee0,#7ebee1,#7fbee1,#80bee1,#80bee2,#81bee2,#82bee2,#82bee2,#81bee2,#81bee2,#80bee2,#80bee1,#7fbee1,#7fbee1,#7fbee1,#7fbee1,#7cbedf,#74bfda,#60c1c8,#45c49d,#3fbc52,#6d9716,#9e661c,#ae4c33,#b0433e,#b04142,#b0453d,#ac502e,#9d681b,#7f8613,#5ea31c,#48b439,#3fbd54,#3cc068,#3cc276,#3ec383,#41c492,#46c4a0,#4cc3ad,#57c2bd,#69c0d0,#7dbee0,#8dbde8,#9dbdee,#a1bdf0)"></i><i style="background:linear-gradient(90deg,#bdc1f6,#bcc1f5,#bbc1f5,#b7c0f5,#b0bff3,#a2bdf0,#87bde5,#65c0cd,#4cc3ac,#41c492,#3ec386,#3ec385,#40c48d,#47c4a2,#54c2b9,#64c0cc,#70bfd6,#77bedc,#7bbedf,#7dbee0,#7ebee0,#7fbee1,#7fbee1,#80bee2,#82bee2,#82bee3,#83bee3,#83bee3,#83bee3,#82bee3,#81bee2,#80bee2,#7fbee1,#7fbee1,#7fbee1,#7ebee0,#79bedd,#6ac0d2,#50c3b3,#3cc273,#54ab25,#8c7a14,#a85926,#af4a36,#b0463b,#af473a,#ad502f,#a1631e,#877f13,#669c19,#4db130,#41bb4e,#3dc063,#3cc272,#3dc37e,#40c48d,#44c49b,#4ac3a9,#52c3b6,#62c1ca,#76bedb,#88bde6,#97bdec,#a7bef1,#abbef2)"></i><i style="background:linear-gradient(90deg,#bbc1f5,#bbc1f5,#b7c0f5,#b0bff3,#a1bdf0,#86bde5,#64c0cc,#4cc3ac,#41c492,#3fc387,#3ec386,#40c48e,#45c49d,#4fc3b1,#5ec1c6,#6cc0d3,#75bfda,#7abede,#7dbedf,#7ebee0,#7fbee1,#7fbee1,#80bee2,#82bee2,#83bee3,#84bde4,#84bde4,#84bde4,#84bde4,#83bee3,#82bee3,#81bee2,#80bee1,#7fbee1,#7ebee1,#7bbedf,#71bfd8,#5bc1c3,#41c490,#44b843,#768e14,#9e661c,#ac522c,#ae4b34,#af4a36,#ad502f,#a36020,#8d7a14,#6d9716,#52ad29,#43b947,#3dbf5e,#3cc16f,#3dc37a,#3fc389,#43c497,#48c4a4,#4fc3b1,#5dc1c4,#70bfd6,#83bee3,#92bdeb,#a2bdf0,#b1bff4,#b3bff4)"></i><i style="background:linear-gradient(90deg,#b7c0f5,#b6c0f5,#b0bff3,#a0bdef,#85bde4,#63c0cb,#4bc3ab,#41c492,#3fc387,#3fc387,#41c490,#46c49f,#4ec3b0,#59c2c0,#67c0cf,#72bfd8,#78bedd,#7cbedf,#7ebee0,#7ebee1,#7fbee1,#80bee2,#82bee2,#83bde3,#85bde4,#86bde5,#86bde5,#86bde5,#86bde5,#85bde4,#83bee3,#82bee3,#81bee2,#7fbee1,#7dbee0,#76bedb,#65c0cd,#4ac3a8,#3dbf63,#5ea31c,#907615,#a65b24,#ac512d,#ad4e30,#ac512d,#a45e21,#917515,#739215,#55aa24,#45b741,#3ebe5a,#3cc16b,#3dc277,#3ec384,#41c493,#46c4a0,#4dc3ad,#57c2bd,#69c0d1,#7ebee0,#8dbde8,#9dbdee,#acbef3,#b6c0f4,#b7c0f5)"></i><i style="background:linear-gradient(90deg,#aebef3,#acbef2,#9dbdee,#84bde4,#62c1ca,#4bc3aa,#41c492,#3fc388,#3fc388,#41c491,#46c4a0,#4fc3b1,#5ac2c1,#65c0cd,#6ebfd5,#76bedb,#7bbede,#7dbee0,#7ebee0,#7fbee1,#80bee1,#81bee2,#83bde3,#85bde4,#87bde5,#88bde6,#89bde6,#88bde6,#88bde6,#86bde5,#85bde4,#83bee3,#81bee2,#7fbee1,#7abede,#6cbfd4,#54c2b9,#3dc37f,#4bb234,#7e8813,#9e671c,#a85826,#ab542a,#aa542a,#a55d22,#947216,#788d14,#5aa71f,#47b53b,#3fbd55,#3cc068,#3cc275,#3dc380,#40c48f,#45c49c,#4ac3a9,#52c3b6,#63c1cb,#77bedc,#88bde6,#98bded,#a7bef1,#b4bff4,#bac0f5,#bbc1f5)"></i><i style="background:linear-gradient(90deg,#9abdee,#94bdeb,#7bbede,#5fc1c7,#4ac3a9,#41c491,#3fc387,#3fc389,#41c492,#47c4a1,#50c3b2,#5bc2c2,#66c0ce,#6fbfd6,#75bfda,#7abedd,#7cbedf,#7ebee0,#7fbee1,#7fbee1,#81bee2,#83bee3,#86bde5,#88bde6,#8abde7,#8bbde7,#8bbde7,#8bbde7,#8abde7,#88bde6,#86bde5,#84bde4,#82bee2,#7dbee0,#73bfd9,#5dc1c5,#43c496,#41bb4d,#699a17,#927416,#a36020,#a75a24,#a75925,#a36020,#967017,#7d8813,#5fa31c,#4ab335,#40bc51,#3dc065,#3cc272,#3dc37c,#3fc48b,#43c499,#49c4a6,#4fc3b2,#5dc1c5,#70bfd7,#84bde3,#93bdeb,#a2bdf0,#b2bff4,#b8c0f5,#bec1f6,#bec1f6)"></i><i style="background:linear-gradient(90deg,#77bedc,#6fbfd6,#56c2bc,#47c4a3,#41c491,#3fc387,#3fc389,#41c493,#47c4a2,#50c3b3,#5bc1c3,#66c0ce,#6fbfd6,#75bfdb,#79bedd,#7cbedf,#7dbee0,#7ebee0,#7fbee1,#80bee2,#83bee3,#85bde4,#88bde6,#8bbde7,#8cbde8,#8ebde8,#8ebde9,#8dbde8,#8cbde8,#8abde7,#88bde6,#85bde4,#81bee2,#78bedd,#66c0ce,#4ac3a9,#3cc066,#58a821,#858113,#9b6a1a,#a2611f,#a45f21,#a0641d,#947216,#7e8813,#639f1a,#4db130,#41bb4c,#3dbf62,#3cc170,#3dc37b,#3fc388,#42c496,#47c4a3,#4dc3af,#58c2bf,#6ac0d2,#7fbee1,#8ebde9,#9dbdef,#adbef3,#b6c0f4,#bcc1f5,#bfc2f6,#bfc2f6)"></i><i style="background:linear-gradient(90deg,#54c2b9,#4fc3b1,#44c49a,#40c48c,#3fc387,#3fc389,#42c493,#47c4a3,#50c3b4,#5cc1c3,#67c0cf,#6fbfd6,#76bfdb,#79bedd,#7cbedf,#7dbee0,#7ebee0,#7fbee1,#80bee1,#82bee3,#85bde4,#88bde6,#8bbde7,#8ebde9,#90bde9,#91bdea,#91bdea,#90bde9,#8ebde9,#8cbde8,#89bde6,#85bde4,#7ebee0,#6ebfd5,#54c2b8,#3dc37e,#4ab234,#788d14,#957117,#9e671b,#9f651d,#9d681b,#927416,#7e8813,#639f1a,#4eb02e,#42b948,#3dbf5e,#3cc16e,#3dc279,#3ec385,#42c493,#46c4a0,#4cc3ac,#55c2ba,#65c0cd,#79bedd,#89bde6,#98bded,#a8bef2,#b4bff4,#bac0f5,#bec2f6,#c0c2f6,#c1c2f6)"></i><i style="background:linear-gradient(90deg,#43c498,#42c493,#3fc389,#3fc387,#40c48b,#42c494,#48c4a3,#51c3b4,#5cc1c4,#67c0cf,#70bfd6,#76bfdb,#7abedd,#7cbedf,#7dbee0,#7ebee0,#7fbee1,#7fbee1,#81bee2,#84bde4,#88bde6,#8bbde7,#8ebde9,#91bdea,#93bdeb,#94bdeb,#94bdeb,#93bdeb,#91bdea,#8ebde8,#8abde7,#83bee3,#75bfdb,#5dc1c5,#42c494,#41ba4b,#699a17,#8d7914,#9b6b1a,#9d681b,#9a6c19,#907615,#7d8913,#639f1a,#4eaf2e,#43b947,#3ebe5c,#3cc16c,#3dc277,#3ec383,#41c491,#45c49e,#4bc3aa,#52c3b7,#62c1ca,#74bfda,#85bde4,#94bdeb,#a3bdf0,#b2bff4,#b8c0f5,#bec1f6,#c0c2f6,#c1c2f6,#c2c2f6)"></i><i style="background:linear-gradient(90deg,#3fc388,#3fc387,#3fc388,#40c48e,#44c499,#49c4a7,#51c3b5,#5dc1c4,#67c0cf,#70bfd7,#76bfdb,#7abede,#7cbedf,#7dbee0,#7ebee0,#7fbee1,#7fbee1,#81bee2,#83bde3,#87bde5,#8bbde7,#8fbde9,#92bdea,#95bdeb,#97bdec,#97bdec,#97bdec,#95bdec,#92bdeb,#8fbde9,#89bde6,#7dbee0,#66c0ce,#49c4a6,#3dbf61,#59a71f,#848213,#976f17,#9a6b19,#996c19,#8f7715,#7c8a13,#649e1a,#4faf2d,#43b946,#3ebe5c,#3cc16b,#3cc276,#3ec381,#40c48f,#45c49c,#4ac3a9,#51c3b4,#5fc1c7,#71bfd7,#83bee3,#91bdea,#9fbdef,#aebef3,#b6c0f5,#bcc1f5,#bfc2f6,#c1c2f6,#c2c3f6,#c3c3f6)"></i><i style="background:linear-gradient(90deg,#3fc388,#3fc48a,#41c492,#46c49e,#4cc3ad,#55c2ba,#5ec1c6,#68c0d0,#70bfd7,#76bedb,#7abede,#7cbedf,#7dbee0,#7ebee0,#7fbee1,#7fbee1,#80bee1,#82bee3,#86bde5,#8abde7,#8ebde9,#92bdea,#96bdec,#99bded,#9abded,#9abdee,#9abded,#97bdec,#94bdeb,#8fbde9,#84bde4,#70bfd7,#52c3b6,#3dc278,#4db030,#788d14,#917515,#986d18,#986e18,#907615,#7f8713,#659d19,#4faf2d,#43b845,#3ebe5b,#3cc16b,#3cc276,#3dc380,#40c48d,#44c49b,#4ac3a7,#50c3b3,#5ec1c5,#6fbfd6,#81bee2,#8fbde9,#9dbdee,#abbef2,#b5bff4,#bac1f5,#bfc2f6,#c0c2f6,#c2c2f6,#c3c3f6,#c4c3f6)"></i><i style="background:linear-gradient(90deg,#42c494,#43c497,#48c4a4,#50c3b2,#59c2c0,#62c1ca,#6ac0d2,#71bfd7,#76bedb,#7abede,#7cbedf,#7dbee0,#7ebee0,#7fbee1,#7fbee1,#80bee1,#82bee2,#85bde4,#89bde6,#8dbde8,#92bdea,#96bdec,#9abded,#9cbdee,#9ebdef,#9ebdef,#9cbdee,#99bded,#94bdeb,#8bbde7,#79bedd,#5bc1c2,#40c48c,#44b844,#6c9817,#8b7b14,#957117,#966f17,#917515,#828413,#699a18,#51ad2a,#44b843,#3ebe5a,#3cc16a,#3cc276,#3dc380,#40c48d,#44c49a,#49c4a6,#4fc3b2,#5dc1c4,#6ebfd5,#80bee2,#8ebde9,#9cbdee,#aabef2,#b4bff4,#bac0f5,#bfc2f6,#c0c2f6,#c1c2f6,#c3c3f6,#c4c3f6,#c4c3f6)"></i><i style="background:linear-gradient(90deg,#49c4a6,#4bc3aa,#53c2b8,#5dc1c4,#66c0ce,#6dbfd4,#73bfd9,#77bedc,#7abede,#7cbedf,#7dbee0,#7ebee0,#7fbee1,#7fbee1,#7fbee1,#81bee2,#84bde3,#87bde5,#8cbde8,#91bdea,#96bdec,#9abded,#9ebdef,#a0bdef,#a1bdf0,#a0bdef,#9ebdef,#9abded,#92bdea,#82bee2,#65c0cd,#45c49d,#3fbd55,#5ea31d,#838313,#927416,#947216,#917515,#848213,#6d9716,#54ab26,#45b63f,#3ebd58,#3cc169,#3cc275,#3dc380,#40c48e,#44c49b,#49c4a7,#4fc3b2,#5cc1c3,#6dbfd4,#80bee1,#8ebde8,#9bbdee,#a9bef2,#b5bff4,#bac0f5,#bfc2f6,#c0c2f6,#c1c2f6,#c3c3f6,#c4c3f6,#c4c3f6,#c4c3f6)"></i><i style="background:linear-gradient(90deg,#54c2ba,#57c2bd,#60c1c8,#69c0d1,#70bfd7,#75bfda,#78bedd,#7bbede,#7cbedf,#7dbee0,#7ebee0,#7fbee1,#7fbee1,#7fbee1,#80bee2,#82bee3,#86bde5,#8abde7,#8fbde9,#94bdeb,#99bded,#9ebdef,#a1bdf0,#a3bdf0,#a4bdf0,#a2bdf0,#9fbdef,#98bded,#8abde7,#70bfd6,#4cc3ad,#3cc066,#56aa23,#7c8913,#8d7914,#927416,#907615,#868013,#729315,#57a821,#47b53b,#3fbd55,#3cc068,#3cc274,#3dc37f,#40c48e,#44c49b,#4ac3a8,#50c3b3,#5dc1c4,#6cbfd4,#80bee1,#8ebde8,#9cbdee,#aabef2,#b6c0f4,#bbc1f5,#c0c2f6,#c2c2f6,#c2c3f6,#c3c3f6,#c4c3f6,#c4c3f6,#c4c3f6,#c4c3f6)"></i><i style="background:linear-gradient(90deg,#62c1ca,#64c0cc,#6cc0d3,#72bfd8,#77bedb,#7abedd,#7cbedf,#7dbee0,#7ebee0,#7ebee0,#7fbee1,#7fbee1,#7fbee1,#80bee1,#82bee2,#85bde4,#89bde6,#8ebde8,#93bdeb,#98bded,#9dbdee,#a1bdf0,#a4bdf1,#a6bef1,#a6bef1,#a3bdf0,#9ebdef,#92bdea,#7abede,#56c2bb,#3dc278,#4eb02e,#788d14,#8e7914,#907615,#8f7715,#877f13,#768f14,#5ca41e,#49b336,#40bc50,#3dc065,#3cc273,#3dc37e,#40c48d,#44c49b,#4ac3a8,#51c3b4,#5fc1c7,#6fbfd6,#81bee2,#8ebde9,#9cbdee,#aabef2,#b7c0f5,#bdc1f6,#c3c3f6,#c4c3f6,#c5c3f6,#c5c3f6,#c5c3f6,#c5c3f6,#c4c3f6,#c4c3f6,#c4c3f6)"></i><i style="background:linear-gradient(90deg,#6bc0d3,#6ebfd5,#74bfda,#78bedc,#7abede,#7cbedf,#7dbee0,#7ebee0,#7ebee1,#7fbee1,#7fbee1,#7fbee1,#7fbee1,#81bee2,#84bde3,#87bde5,#8cbde8,#91bdea,#96bdec,#9bbdee,#a0bdef,#a4bef1,#a7bef1,#a8bef2,#a7bef1,#a3bdf0,#99bded,#84bde4,#60c1c8,#40c48b,#47b53c,#739215,#8e7815,#957117,#917515,#887e13,#798c14,#61a01b,#4cb131,#41ba4b,#3dbf62,#3cc271,#3dc37c,#40c48c,#44c49b,#4ac3a9,#51c3b5,#61c1c9,#72bfd8,#83bee3,#90bde9,#9dbdee,#abbef2,#b7c0f5,#bec1f6,#c5c3f6,#c7c4f7,#c8c5f7,#c8c4f7,#c8c4f7,#c7c4f7,#c5c3f6,#c5c3f6,#c4c3f6,#c4c3f6)"></i><i style="background:linear-gradient(90deg,#72bfd8,#74bfd9,#79bedd,#7bbedf,#7dbedf,#7ebee0,#7ebee0,#7fbee1,#7fbee1,#7fbee1,#7fbee1,#7fbee1,#80bee2,#83bee3,#86bde5,#8abde7,#8fbde9,#94bdeb,#9abded,#9fbdef,#a3bdf0,#a7bef1,#a9bef2,#a9bef2,#a7bef1,#9fbdef,#8dbde8,#6cc0d3,#45c49e,#41bb4d,#6b9917,#8e7914,#986e18,#967017,#8f7815,#7e8813,#669d19,#50ae2c,#43b845,#3dbe5d,#3cc16e,#3dc37a,#3fc48a,#44c49a,#4ac3a8,#51c3b5,#62c1ca,#75bfda,#85bde4,#93bdeb,#a0bdef,#adbef3,#b7c0f5,#bec1f6,#c6c4f7,#cac5f7,#ccc6f7,#cdc6f7,#ccc6f7,#cac5f7,#c8c4f7,#c6c4f7,#c5c3f6,#c4c3f6,#c4c3f6)"></i><i style="background:linear-gradient(90deg,#76bedb,#78bedc,#7bbedf,#7dbee0,#7ebee0,#7ebee0,#7fbee1,#7fbee1,#7fbee1,#7fbee1,#7fbee1,#80bee1,#82bee2,#85bde4,#89bde6,#8ebde8,#93bdeb,#98bded,#9dbdee,#a2bdf0,#a6bef1,#a9bef2,#aabef2,#a9bef2,#a4bdf0,#95bdec,#77bedc,#4ec3af,#3dbf5f,#61a11b,#8b7b14,#9a6b19,#9a6b19,#957117,#868013,#6e9616,#54ab26,#45b73f,#3ebd58,#3cc16b,#3dc278,#3fc387,#43c497,#49c4a7,#51c3b4,#62c1ca,#76bedb,#87bde5,#95bdec,#a3bdf0,#b0bff3,#b7c0f5,#bec1f6,#c5c3f6,#cac5f7,#cec7f7,#d1c8f7,#d1c8f7,#cfc7f7,#ccc6f7,#c9c5f7,#c6c4f7,#c5c3f6,#c4c3f6,#c4c3f6)"></i><i style="background:linear-gradient(90deg,#79bedd,#7abede,#7dbee0,#7ebee0,#7ebee1,#7fbee1,#7fbee1,#7fbee1,#7fbee1,#7fbee1,#7fbee1,#81bee2,#84bde3,#87bde5,#8cbde8,#91bdea,#96bdec,#9bbdee,#a0bdef,#a5bef1,#a8bef2,#aabef2,#abbef2,#a7bef1,#9cbdee,#81bee2,#58c2be,#3cc273,#56a923,#877f13,#9c691a,#9e661c,#9a6b19,#8e7815,#788d14,#5ba51e,#48b439,#3fbc53,#3cc067,#3cc275,#3ec382,#42c494,#48c4a4,#50c3b3,#61c1c9,#76bedb,#88bde6,#97bdec,#a5bef1,#b2bff4,#b8c0f5,#bec1f6,#c3c3f6,#c8c4f7,#cdc6f7,#d2c9f7,#d5caf8,#d5caf8,#d2c9f7,#cec7f7,#cac5f7,#c7c4f7,#c5c3f6,#c4c3f6,#c4c3f6)"></i><i style="background:linear-gradient(90deg,#7cbedf,#7cbedf,#7ebee0,#7ebee1,#7fbee1,#7fbee1,#7fbee1,#7fbee1,#7fbee1,#7fbee1,#80bee2,#83bee3,#86bde5,#8abde7,#8fbde9,#94bdeb,#9abded,#9fbdef,#a3bdf0,#a7bef1,#aabef2,#abbef2,#a9bef2,#a3bdf0,#8dbde8,#63c1cb,#3fc388,#4cb131,#818513,#9c691a,#a1621e,#9f661c,#957017,#828413,#659e19,#4db131,#41ba4c,#3dc063,#3cc272,#3dc37d,#41c48f,#46c4a0,#4ec3b0,#5ec1c6,#75bfda,#88bde6,#98bded,#a7bef1,#b3bff4,#b9c0f5,#bec2f6,#c1c2f6,#c5c3f6,#cac5f7,#d0c8f7,#d5cbf8,#d8ccf8,#d7cbf8,#d3c9f7,#cfc7f7,#cac5f7,#c7c4f7,#c5c4f6,#c4c3f6,#c4c3f6)"></i><i style="background:linear-gradient(90deg,#7dbee0,#7dbee0,#7ebee0,#7fbee1,#7fbee1,#7fbee1,#7fbee1,#7fbee1,#7fbee1,#80bee1,#82bee2,#85bde4,#89bde6,#8ebde8,#93bdeb,#98bded,#9dbdee,#a2bdf0,#a6bef1,#a9bef2,#abbef2,#aabef2,#a7bef1,#99bded,#76bedb,#46c49f,#44b742,#798d14,#9b6a1a,#a45f21,#a2611f,#9c691a,#8b7c14,#6f9516,#52ac28,#44b844,#3dbf5d,#3cc16f,#3dc37b,#40c48b,#45c49c,#4cc3ac,#5ac2c1,#71bfd7,#87bde5,#98bded,#a8bef2,#b4bff4,#bac0f5,#bec2f6,#c1c2f6,#c3c3f6,#c7c4f7,#ccc6f7,#d2c9f7,#d6cbf8,#d8ccf8,#d7ccf8,#d4caf8,#cfc7f7,#cbc5f7,#c7c4f7,#c5c4f7,#c5c3f6,#c4c3f6)"></i><i style="background:linear-gradient(90deg,#7ebee0,#7ebee0,#7fbee1,#7fbee1,#7fbee1,#7fbee1,#7fbee1,#7fbee1,#7fbee1,#81bee2,#84bde3,#87bde5,#8cbde8,#91bdea,#96bdec,#9bbdee,#a0bdef,#a5bef1,#a8bef2,#aabef2,#abbef2,#a9bef2,#a1bdf0,#88bde6,#5ac2c1,#3cc067,#6c9817,#996d18,#a55c23,#a55c23,#a1631e,#937316,#798c14,#5aa71f,#47b53c,#3ebd58,#3cc16b,#3dc278,#3fc387,#43c498,#4ac3a9,#55c2ba,#6bc0d2,#83bee3,#95bdec,#a7bef1,#b4bff4,#bac1f5,#bfc2f6,#c0c2f6,#c2c3f6,#c5c3f6,#c9c5f7,#cdc6f7,#d2c8f7,#d6cbf8,#d8ccf8,#d7cbf8,#d4c9f7,#cfc7f7,#cac5f7,#c7c4f7,#c5c4f7,#c5c3f6,#c4c3f6)"></i><i style="background:linear-gradient(90deg,#7ebee0,#7ebee1,#7fbee1,#7fbee1,#7fbee1,#7fbee1,#7fbee1,#7fbee1,#80bee2,#83bee3,#86bde5,#8abde7,#8fbde9,#94bdeb,#9abded,#9fbdef,#a3bdf0,#a7bef1,#aabef2,#abbef2,#aabef2,#a5bef1,#95bdec,#6fbfd6,#42c494,#4eb02f,#8c7a14,#a65c23,#a85826,#a55d22,#9a6b19,#838313,#639f1a,#4bb234,#40bc51,#3cc067,#3cc275,#3ec382,#42c494,#48c4a5,#51c3b4,#65c0cd,#7ebee0,#91bdea,#a4bdf1,#b3bff4,#bac0f5,#bfc2f6,#c0c2f6,#c2c2f6,#c4c3f6,#c6c4f7,#c8c5f7,#ccc6f7,#d0c8f7,#d4caf8,#d6cbf8,#d5caf8,#d2c9f7,#cec7f7,#cac5f7,#c7c4f7,#c5c4f7,#c5c3f6,#c4c3f6)"></i><i style="background:linear-gradient(90deg,#7fbee1,#7fbee1,#7fbee1,#7fbee1,#7fbee1,#7fbee1,#7fbee1,#80bee1,#82bee2,#85bde4,#89bde6,#8ebde8,#93bdeb,#98bded,#9dbdee,#a2bdf0,#a6bef1,#a9bef2,#abbef2,#abbef2,#a8bef2,#9ebdef,#82bee3,#53c2b8,#3ebe5b,#719315,#9d681b,#a85925,#a85826,#a1631e,#8d7914,#6e9616,#50ae2b,#42ba49,#3dbf62,#3cc272,#3dc37e,#41c490,#47c4a1,#4ec3b0,#5fc1c7,#78bedc,#8cbde8,#9fbdef,#b2bff4,#b9c0f5,#bec2f6,#c0c2f6,#c2c2f6,#c4c3f6,#c5c3f6,#c6c4f7,#c8c4f7,#cbc5f7,#cec7f7,#d2c9f7,#d3c9f7,#d3c9f7,#d0c8f7,#cdc6f7,#c9c5f7,#c7c4f7,#c5c4f6,#c5c3f6,#c5c3f6)"></i><i style="background:linear-gradient(90deg,#7fbee1,#7fbee1,#7fbee1,#7fbee1,#7fbee1,#7fbee1,#7fbee1,#81bee2,#84bde3,#87bde5,#8cbde8,#91bdea,#96bdec,#9bbdee,#a0bdef,#a5bef1,#a8bef2,#aabef2,#abbef2,#aabef2,#a4bdf1,#91bdea,#68c0d0,#3fc388,#53ac27,#8d7a14,#a36020,#a65b24,#a45f21,#967017,#788d14,#57a922,#45b741,#3ebe5c,#3cc16f,#3dc37b,#40c48c,#45c49d,#4cc3ad,#5ac2c1,#71bfd8,#88bde6,#9bbdee,#aebef3,#b7c0f5,#bec1f6,#c0c2f6,#c2c2f6,#c4c3f6,#c4c3f6,#c5c3f6,#c5c4f6,#c7c4f7,#c9c5f7,#ccc6f7,#cfc7f7,#d0c8f7,#d0c8f7,#cec7f7,#cbc6f7,#c8c5f7,#c6c4f7,#c5c4f6,#c5c3f6,#c5c3f6)"></i><i style="background:linear-gradient(90deg,#7fbee1,#7fbee1,#7fbee1,#7fbee1,#7fbee1,#7fbee1,#80bee2,#83bee3,#86bde5,#8abde7,#8fbde9,#94bdeb,#9abded,#9fbdef,#a3bdf0,#a7bef1,#aabef2,#abbef2,#aabef2,#a7bef1,#9bbdee,#7cbedf,#4dc3ae,#40bc50,#749014,#9a6b19,#a36020,#a36020,#9a6b19,#838313,#60a11b,#49b438,#3fbd56,#3cc16b,#3dc278,#3fc387,#43c499,#4ac3a9,#55c2bb,#6bc0d3,#83bde3,#96bdec,#a9bef2,#b6c0f4,#bdc1f6,#c0c2f6,#c2c2f6,#c4c3f6,#c4c3f6,#c4c3f6,#c4c3f6,#c5c3f6,#c6c4f7,#c8c4f7,#cac5f7,#ccc6f7,#cdc6f7,#cdc6f7,#cbc6f7,#c9c5f7,#c8c4f7,#c6c4f7,#c5c4f7,#c5c3f6,#c5c3f6)"></i><i style="background:linear-gradient(90deg,#7fbee1,#7fbee1,#7fbee1,#7fbee1,#7fbee1,#80bee1,#82bee2,#85bde4,#89bde6,#8ebde8,#93bdeb,#98bded,#9dbdee,#a2bdf0,#a6bef1,#a9bef2,#abbef2,#abbef2,#a9bef2,#a2bdf0,#8cbde8,#61c1c9,#3dc37c,#57a922,#8b7b14,#9e661c,#a1631e,#9c681b,#8a7c14,#699a18,#4db02f,#40bb4f,#3cc066,#3cc275,#3ec383,#42c495,#48c4a5,#51c3b5,#66c0ce,#7fbee1,#92bdea,#a5bef1,#b4bff4,#bbc1f5,#bfc2f6,#c1c2f6,#c3c3f6,#c4c3f6,#c4c3f6,#c4c3f6,#c4c3f6,#c5c3f6,#c5c4f7,#c7c4f7,#c8c5f7,#cac5f7,#cac5f7,#cac5f7,#cac5f7,#c8c5f7,#c7c4f7,#c6c4f7,#c6c4f7,#c5c4f7,#c5c4f6)"></i><i style="background:linear-gradient(90deg,#7fbee1,#7fbee1,#7fbee1,#7fbee1,#7fbee1,#81bee2,#84bde3,#87bde5,#8cbde8,#91bdea,#96bdec,#9bbdee,#a0bdef,#a5bef1,#a8bef2,#aabef2,#abbef2,#aabef2,#a7bef1,#97bdec,#74bfda,#47c4a2,#43b947,#768f14,#967017,#9d671b,#9c681b,#907615,#759014,#54ab26,#42b947,#3dbf61,#3cc272,#3dc37e,#41c490,#47c4a1,#4fc3b1,#60c1c8,#79bedd,#8dbde8,#a0bdef,#b2bff4,#b9c0f5,#bfc2f6,#c1c2f6,#c3c3f6,#c4c3f6,#c4c3f6,#c4c3f6,#c4c3f6,#c4c3f6,#c4c3f6,#c5c3f6,#c6c4f7,#c7c4f7,#c8c4f7,#c9c5f7,#c9c5f7,#c8c5f7,#c8c4f7,#c7c4f7,#c7c4f7,#c6c4f7,#c6c4f7,#c6c4f7)"></i><i style="background:linear-gradient(90deg,#7fbee1,#7fbee1,#7fbee1,#7fbee1,#80bee2,#83bee3,#86bde5,#8abde7,#8fbde9,#94bdeb,#9abded,#9fbdef,#a3bdf0,#a7bef1,#aabef2,#abbef2,#abbef2,#a9bef2,#a1bdf0,#88bde6,#57c2bd,#3cc16b,#5ca41d,#897d14,#986d18,#9a6b19,#937316,#7e8713,#5ea31d,#47b53b,#3ebe5a,#3cc16e,#3dc37b,#40c48c,#45c49d,#4dc3ad,#5bc2c2,#72bfd8,#88bde6,#9bbdee,#aebef3,#b8c0f5,#bec1f6,#c0c2f6,#c2c3f6,#c4c3f6,#c4c3f6,#c4c3f6,#c4c3f6,#c4c3f6,#c4c3f6,#c4c3f6,#c5c3f6,#c5c3f6,#c6c4f7,#c7c4f7,#c7c4f7,#c8c4f7,#c8c4f7,#c8c4f7,#c8c4f7,#c8c4f7,#c7c4f7,#c7c4f7,#c7c4f7)"></i><i style="background:linear-gradient(90deg,#7fbee1,#7fbee1,#7fbee1,#80bee1,#82bee2,#85bde4,#89bde6,#8ebde8,#93bdeb,#98bded,#9dbdee,#a2bdf0,#a6bef1,#a9bef2,#abbef2,#abbef2,#aabef2,#a7bef1,#98bded,#71bfd8,#42c494,#4bb234,#7c8a13,#917515,#976f17,#947216,#858113,#699a18,#4db02f,#40bb4f,#3cc068,#3dc278,#3fc388,#44c499,#4bc3a9,#56c2bc,#6cbfd4,#84bde4,#97bdec,#aabef2,#b6c0f5,#bdc1f6,#c0c2f6,#c2c2f6,#c4c3f6,#c4c3f6,#c4c3f6,#c4c3f6,#c4c3f6,#c4c3f6,#c4c3f6,#c4c3f6,#c4c3f6,#c5c3f6,#c5c4f7,#c6c4f7,#c7c4f7,#c7c4f7,#c8c4f7,#c8c5f7,#c9c5f7,#c9c5f7,#c9c5f7,#c8c4f7,#c8c4f7)"></i><i style="background:linear-gradient(90deg,#7fbee1,#7fbee1,#7fbee1,#81bee2,#84bde3,#87bde5,#8cbde8,#91bdea,#96bdec,#9bbdee,#a0bdef,#a5bef1,#a8bef2,#aabef2,#abbef2,#abbef2,#a9bef2,#a2bdf0,#89bde6,#57c2be,#3dbf60,#6a9917,#8f7815,#957117,#927416,#897d14,#729215,#55aa24,#44b843,#3dbf60,#3cc273,#3ec381,#42c495,#49c4a6,#51c3b5,#66c0ce,#80bee1,#92bdea,#a5bef1,#b4bff4,#bbc1f5,#bfc2f6,#c1c2f6,#c3c3f6,#c4c3f6,#c4c3f6,#c4c3f6,#c4c3f6,#c4c3f6,#c4c3f6,#c4c3f6,#c4c3f6,#c4c3f6,#c5c3f6,#c5c3f6,#c6c4f7,#c7c4f7,#c8c4f7,#c9c5f7,#c9c5f7,#cac5f7,#cac5f7,#cac5f7,#cac5f7,#cac5f7)"></i><i style="background:linear-gradient(90deg,#7fbee1,#7fbee1,#80bee2,#83bee3,#86bde5,#8abde7,#8fbde9,#94bdeb,#9abded,#9fbdef,#a3bdf0,#a7bef1,#aabef2,#abbef2,#abbef2,#abbef2,#a7bef1,#99bded,#72bfd9,#42c495,#4db030,#848213,#976f18,#967017,#8d7a14,#7a8c13,#5ea31d,#49b438,#3fbd56,#3cc16c,#3dc37b,#40c48e,#46c4a1,#4fc3b1,#61c1c9,#79bedd,#8ebde8,#a1bdf0,#b2bff4,#bac0f5,#bfc2f6,#c1c2f6,#c3c3f6,#c4c3f6,#c4c3f6,#c4c3f6,#c4c3f6,#c4c3f6,#c4c3f6,#c4c3f6,#c4c3f6,#c4c3f6,#c4c3f6,#c5c3f6,#c5c4f6,#c6c4f7,#c7c4f7,#c8c5f7,#cac5f7,#cbc6f7,#ccc6f7,#ccc6f7,#ccc6f7,#ccc6f7,#cbc6f7)"></i><i style="background:linear-gradient(90deg,#7fbee1,#80bee1,#82bee2,#85bde4,#89bde6,#8ebde8,#93bdeb,#98bded,#9dbdee,#a2bdf0,#a6bef1,#a9bef2,#abbef2,#abbef2,#abbef2,#aabef2,#a2bdf0,#8abde7,#58c2bf,#3dbf61,#6c9716,#947216,#996c19,#947216,#848313,#679c18,#4eaf2e,#41ba4b,#3dc065,#3cc275,#3ec385,#44c499,#4cc3ab,#5bc2c2,#73bfd9,#89bde6,#9cbdee,#afbff3,#b8c0f5,#bec1f6,#c0c2f6,#c2c3f6,#c4c3f6,#c4c3f6,#c4c3f6,#c4c3f6,#c4c3f6,#c4c3f6,#c4c3f6,#c4c3f6,#c4c3f6,#c4c3f6,#c4c3f6,#c5c3f6,#c6c4f7,#c7c4f7,#c8c4f7,#cac5f7,#cbc6f7,#cdc6f7,#cec7f7,#cfc7f7,#cfc7f7,#cec7f7,#cdc7f7)"></i><i style="background:linear-gradient(90deg,#80bee2,#81bee2,#84bde3,#87bde5,#8cbde8,#91bdea,#96bdec,#9bbdee,#a0bdef,#a5bef1,#a8bef2,#aabef2,#abbef2,#abbef2,#aabef2,#a7bef1,#99bded,#74bfd9,#43c496,#4eb02f,#877f13,#9b6a1a,#9a6b19,#8f7815,#768f14,#56a922,#45b740,#3ebe5c,#3cc170,#3dc37d,#41c491,#48c4a4,#52c3b6,#6ac0d2,#85bde4,#97bdec,#aabef2,#b6c0f5,#bec1f6,#c0c2f6,#c2c2f6,#c4c3f6,#c4c3f6,#c4c3f6,#c4c3f6,#c4c3f6,#c4c3f6,#c4c3f6,#c4c3f6,#c4c3f6,#c4c3f6,#c4c3f6,#c5c3f6,#c5c3f6,#c6c4f7,#c7c4f7,#c9c5f7,#cbc5f7,#cdc6f7,#cfc7f7,#d0c8f7,#d1c8f7,#d1c8f7,#d0c8f7,#d0c8f7)"></i><i style="background:linear-gradient(90deg,#82bee2,#83bee3,#86bde5,#8abde7,#8fbde9,#94bdeb,#9abded,#9fbdef,#a3bdf0,#a7bef1,#aabef2,#abbef2,#abbef2,#abbef2,#a9bef2,#a2bdf0,#8bbde7,#59c2c0,#3dbf61,#6e9616,#976f18,#9d671b,#986d18,#868113,#659e19,#4bb234,#3fbc52,#3cc169,#3dc278,#3fc389,#45c49d,#4dc3af,#5fc1c7,#7bbedf,#91bdea,#a6bef1,#b4bff4,#bcc1f5,#bfc2f6,#c1c2f6,#c3c3f6,#c4c3f6,#c4c3f6,#c4c3f6,#c4c3f6,#c4c3f6,#c4c3f6,#c4c3f6,#c4c3f6,#c4c3f6,#c4c3f6,#c4c3f6,#c5c3f6,#c5c3f6,#c6c4f7,#c8c4f7,#cac5f7,#ccc6f7,#cfc7f7,#d1c8f7,#d3c9f7,#d4caf8,#d4caf8,#d3c9f7,#d2c9f7)"></i><i style="background:linear-gradient(90deg,#84bde4,#85bde4,#89bde6,#8ebde8,#93bdeb,#98bded,#9dbdee,#a2bdf0,#a6bef1,#a9bef2,#abbef2,#abbef2,#abbef2,#aabef2,#a6bef1,#98bded,#75bfda,#43c497,#4eb02e,#8a7c14,#9e661c,#9e671c,#937316,#798d14,#55aa24,#43b845,#3dbf61,#3cc273,#3ec381,#42c495,#4ac3a7,#56c2bc,#6fbfd6,#89bde6,#9ebdef,#b2bff4,#bac0f5,#bfc2f6,#c1c2f6,#c3c3f6,#c4c3f6,#c4c3f6,#c4c3f6,#c4c3f6,#c4c3f6,#c4c3f6,#c4c3f6,#c4c3f6,#c4c3f6,#c4c3f6,#c4c3f6,#c4c3f6,#c5c3f6,#c6c4f7,#c7c4f7,#c8c5f7,#cbc5f7,#cec7f7,#d1c8f7,#d3c9f7,#d6cbf8,#d7cbf8,#d7cbf8,#d5caf8,#d5caf8)"></i><i style="background:linear-gradient(90deg,#86bde5,#87bde5,#8cbde8,#91bdea,#96bdec,#9bbdee,#a0bdef,#a5bef1,#a8bef2,#aabef2,#abbef2,#abbef2,#abbef2,#a8bef2,#9ebdef,#84bde4,#57c2bd,#3dbf62,#709415,#9a6b19,#a1631e,#9c681b,#8b7c14,#699a18,#4bb234,#3fbd56,#3cc16c,#3dc37a,#40c48d,#46c4a0,#4fc3b2,#64c0cc,#80bee2,#95bdec,#abbef2,#b7c0f5,#bec1f6,#c0c2f6,#c2c3f6,#c4c3f6,#c4c3f6,#c4c3f6,#c4c3f6,#c4c3f6,#c4c3f6,#c4c3f6,#c4c3f6,#c4c3f6,#c4c3f6,#c4c3f6,#c4c3f6,#c4c3f6,#c5c3f6,#c6c4f7,#c7c4f7,#c9c5f7,#ccc6f7,#cfc7f7,#d2c9f7,#d6cbf8,#d8ccf8,#d9cdf8,#d9cdf8,#d8ccf8,#d7cbf8)"></i><i style="background:linear-gradient(90deg,#89bde6,#8abde7,#8fbde9,#94bdeb,#9abded,#9fbdef,#a3bdf0,#a7bef1,#aabef2,#abbef2,#abbef2,#abbef2,#a9bef2,#a3bdf0,#90bdea,#68c0d0,#3fc48a,#4faf2c,#8c7a14,#a2621f,#a1621e,#986e18,#7e8813,#58a820,#44b844,#3dbf62,#3cc275,#3ec385,#43c498,#4bc3ab,#5ac2c1,#75bfda,#8dbde8,#a2bdf0,#b4bff4,#bcc1f5,#c0c2f6,#c2c2f6,#c4c3f6,#c4c3f6,#c4c3f6,#c4c3f6,#c4c3f6,#c4c3f6,#c4c3f6,#c4c3f6,#c4c3f6,#c4c3f6,#c4c3f6,#c4c3f6,#c4c3f6,#c4c3f6,#c5c3f6,#c6c4f7,#c7c4f7,#cac5f7,#ccc6f7,#d0c8f7,#d4caf7,#d7ccf8,#dacdf8,#dbcef8,#dbcef8,#dacdf8,#d9cdf8)"></i><i style="background:linear-gradient(90deg,#8cbde8,#8ebde8,#93bdeb,#98bded,#9dbdee,#a2bdf0,#a6bef1,#a9bef2,#abbef2,#abbef2,#abbef2,#aabef2,#a6bef1,#99bded,#79bedd,#4ac3a9,#42ba4a,#788d14,#9d681b,#a45e21,#a0641d,#907715,#6e9616,#4db130,#3fbc54,#3cc16c,#3dc37c,#41c490,#48c4a3,#51c3b5,#69c0d1,#84bde4,#99bded,#afbff3,#b9c0f5,#bfc2f6,#c1c2f6,#c3c3f6,#c4c3f6,#c4c3f6,#c4c3f6,#c4c3f6,#c4c3f6,#c4c3f6,#c4c3f6,#c4c3f6,#c4c3f6,#c4c3f6,#c4c3f6,#c4c3f6,#c4c3f6,#c4c3f6,#c5c3f6,#c6c4f7,#c8c4f7,#cac5f7,#cdc6f7,#d1c8f7,#d5caf8,#d9ccf8,#dbcef8,#ddcff8,#ddcff8,#dbcef8,#dacdf8)"></i><i style="background:linear-gradient(90deg,#8fbde9,#91bdea,#96bdec,#9bbdee,#a0bdef,#a5bef1,#a8bef2,#aabef2,#abbef2,#abbef2,#abbef2,#a8bef2,#9fbdef,#87bde5,#5ac2c1,#3cc16e,#62a01a,#967017,#a55d22,#a55e22,#9c691b,#838313,#5ca41e,#45b741,#3dbf61,#3cc274,#3ec386,#44c49b,#4dc3ae,#5fc1c6,#7abede,#91bdea,#a6bef1,#b5c0f4,#bec1f6,#c0c2f6,#c2c3f6,#c4c3f6,#c4c3f6,#c4c3f6,#c4c3f6,#c4c3f6,#c4c3f6,#c4c3f6,#c4c3f6,#c4c3f6,#c4c3f6,#c4c3f6,#c4c3f6,#c4c3f6,#c4c3f6,#c5c3f6,#c5c3f6,#c6c4f7,#c8c4f7,#cac5f7,#cdc7f7,#d1c8f7,#d5cbf8,#d9cdf8,#dccff8,#ded0f8,#ded0f8,#dccff8,#dbcef8)"></i><i style="background:linear-gradient(90deg,#93bdeb,#94bdeb,#9abded,#9fbdef,#a3bdf0,#a7bef1,#aabef2,#abbef2,#abbef2,#abbef2,#aabef2,#a4bdf1,#92bdea,#6cc0d3,#41c491,#4cb131,#877f13,#a2611f,#a75a24,#a45f21,#947117,#739215,#4faf2d,#40bc51,#3cc16b,#3dc37b,#41c490,#48c4a5,#55c2bb,#6ebfd5,#88bde6,#9dbdef,#b2bff4,#bac1f5,#bfc2f6,#c1c2f6,#c4c3f6,#c4c3f6,#c4c3f6,#c4c3f6,#c4c3f6,#c4c3f6,#c4c3f6,#c4c3f6,#c4c3f6,#c4c3f6,#c4c3f6,#c4c3f6,#c4c3f6,#c4c3f6,#c4c3f6,#c5c3f6,#c5c3f6,#c6c4f7,#c8c4f7,#cac5f7,#cdc7f7,#d1c8f7,#d5cbf8,#d9cdf8,#dccff8,#ded0f8,#ded0f8,#dccff8,#dbcef8)"></i><i style="background:linear-gradient(90deg,#97bdec,#98bded,#9dbdee,#a2bdf0,#a6bef1,#a9bef2,#abbef2,#abbef2,#abbef2,#aabef2,#a7bef1,#9abdee,#7cbedf,#4dc3af,#3fbc52,#739115,#9c691a,#a65b23,#a65b23,#9f651c,#887e13,#60a11b,#46b63e,#3dbf5f,#3cc274,#3ec385,#44c49b,#4dc3ae,#62c1ca,#80bee1,#95bdeb,#aabef2,#b7c0f5,#bec1f6,#c1c2f6,#c3c3f6,#c4c3f6,#c4c3f6,#c4c3f6,#c4c3f6,#c4c3f6,#c4c3f6,#c4c3f6,#c4c3f6,#c4c3f6,#c4c3f6,#c4c3f6,#c4c3f6,#c4c3f6,#c4c3f6,#c4c3f6,#c5c3f6,#c5c3f6,#c6c4f7,#c8c4f7,#cac5f7,#cdc6f7,#d1c8f7,#d5caf8,#d9cdf8,#dccef8,#ddd0f8,#ddcff8,#dbcef8,#dacef8)"></i><i style="background:linear-gradient(90deg,#9abded,#9bbdee,#a0bdef,#a5bef1,#a8bef2,#aabef2,#abbef2,#abbef2,#abbef2,#a9bef2,#a0bdf0,#89bde6,#5ec1c6,#3cc276,#5ca51e,#917515,#a45e21,#a65b23,#a3611f,#947216,#759014,#51ad29,#40bb4f,#3cc16a,#3dc37b,#41c48f,#48c4a4,#54c2ba,#70bfd7,#8bbde7,#a1bdf0,#b4bff4,#bcc1f5,#c0c2f6,#c2c2f6,#c4c3f6,#c4c3f6,#c4c3f6,#c4c3f6,#c4c3f6,#c4c3f6,#c4c3f6,#c4c3f6,#c4c3f6,#c4c3f6,#c4c3f6,#c4c3f6,#c4c3f6,#c4c3f6,#c4c3f6,#c4c3f6,#c4c3f6,#c5c3f6,#c6c4f7,#c7c4f7,#cac5f7,#cdc6f7,#d0c8f7,#d4caf8,#d8ccf8,#dacef8,#dccff8,#dccef8,#dacdf8,#d9cdf8)"></i><i style="background:linear-gradient(90deg,#9bbdee,#9dbdee,#a2bdf0,#a6bef1,#a9bef2,#abbef2,#abbef2,#abbef2,#aabef2,#a7bef1,#9cbdee,#7fbee1,#51c3b5,#3ebe5c,#6d9716,#996c19,#a55d22,#a65c23,#a0641d,#8d7914,#6c9817,#4db131,#3fbd56,#3cc16e,#3dc37e,#42c494,#4ac3a8,#59c2c0,#76bedb,#90bdea,#a7bef1,#b6c0f4,#bec1f6,#c0c2f6,#c2c3f6,#c4c3f6,#c4c3f6,#c4c3f6,#c4c3f6,#c4c3f6,#c4c3f6,#c4c3f6,#c4c3f6,#c4c3f6,#c4c3f6,#c4c3f6,#c4c3f6,#c4c3f6,#c4c3f6,#c4c3f6,#c4c3f6,#c4c3f6,#c5c3f6,#c6c4f7,#c7c4f7,#c9c5f7,#ccc6f7,#d0c8f7,#d3c9f7,#d7cbf8,#dacdf8,#dbcef8,#dbcef8,#d9cdf8,#d8ccf8)"></i></div></div>
<svg width="1950" height="1950" viewBox="0 0 1950 1950" font-family="Liberation Sans, sans-serif" text-rendering="geometricPrecision">
<line x1="501.50" y1="306.75" x2="501.50" y2="857.25" stroke="#b0b0b0" stroke-width="3.33" />
<line x1="306.75" y1="661.50" x2="857.25" y2="661.50" stroke="#b0b0b0" stroke-width="3.33" />
<line x1="768.50" y1="306.75" x2="768.50" y2="857.25" stroke="#b0b0b0" stroke-width="3.33" />
<line x1="306.75" y1="394.50" x2="857.25" y2="394.50" stroke="#b0b0b0" stroke-width="3.33" />
<line x1="300.50" y1="863.50" x2="863.50" y2="300.50" stroke="#b0b0b0" stroke-width="3.60" />
<circle cx="614.50" cy="681.60" r="22.9" fill="#0000ff"/>
<line x1="501.50" y1="863.50" x2="501.50" y2="878.10" stroke="#000" stroke-width="4.17" />
<line x1="768.50" y1="863.50" x2="768.50" y2="878.10" stroke="#000" stroke-width="4.17" />
<line x1="285.90" y1="661.50" x2="300.50" y2="661.50" stroke="#000" stroke-width="4.17" />
<line x1="285.90" y1="394.50" x2="300.50" y2="394.50" stroke="#000" stroke-width="4.17" />
<rect x="300.50" y="300.50" width="563.00" height="563.00" fill="none" stroke="#ff7f0e" stroke-width="12.50"/>
<rect x="323.05" y="322.05" width="78.10" height="111.90" fill="#fff" stroke="#808080" stroke-width="3.70"/>
<line x1="1139.50" y1="306.75" x2="1139.50" y2="857.25" stroke="#b0b0b0" stroke-width="3.33" />
<line x1="944.75" y1="661.50" x2="1494.75" y2="661.50" stroke="#b0b0b0" stroke-width="3.33" />
<line x1="1406.50" y1="306.75" x2="1406.50" y2="857.25" stroke="#b0b0b0" stroke-width="3.33" />
<line x1="944.75" y1="394.50" x2="1494.75" y2="394.50" stroke="#b0b0b0" stroke-width="3.33" />
<line x1="938.50" y1="863.50" x2="1501.00" y2="300.50" stroke="#b0b0b0" stroke-width="3.60" />
<circle cx="1252.50" cy="681.60" r="22.9" fill="#0000ff"/>
<line x1="1139.50" y1="863.50" x2="1139.50" y2="878.10" stroke="#000" stroke-width="4.17" />
<line x1="1406.50" y1="863.50" x2="1406.50" y2="878.10" stroke="#000" stroke-width="4.17" />
<rect x="938.50" y="300.50" width="562.50" height="563.00" fill="none" stroke="#e377c2" stroke-width="12.50"/>
<rect x="960.05" y="322.05" width="81.00" height="111.70" fill="#fff" stroke="#808080" stroke-width="3.70"/>
<text transform="matrix(49.1262 0 0 61.3699 343.81 395.89)" font-family="Liberation Sans" font-style="normal" font-size="1" fill="#000">a</text>
<text transform="matrix(63.5556 0 0 71.0204 979.17 396.19)" font-family="Liberation Sans" font-style="normal" font-size="1" fill="#000">b</text>
<text transform="matrix(52.3372 0 0 57.4000 462.71 931.30)" font-family="Liberation Sans" font-style="normal" font-size="1" fill="#000">0.9</text>
<text transform="matrix(51.4286 0 0 57.4000 727.94 931.30)" font-family="Liberation Sans" font-style="normal" font-size="1" fill="#000">1.0</text>
<text transform="matrix(52.3372 0 0 57.4000 1100.21 931.30)" font-family="Liberation Sans" font-style="normal" font-size="1" fill="#000">0.9</text>
<text transform="matrix(51.4286 0 0 57.4000 1365.44 931.30)" font-family="Liberation Sans" font-style="normal" font-size="1" fill="#000">1.0</text>
<text transform="matrix(51.6634 0 0 57.4000 193.83 414.10)" font-family="Liberation Sans" font-style="normal" font-size="1" fill="#000">1.0</text>
<text transform="matrix(52.1073 0 0 57.4000 196.12 680.40)" font-family="Liberation Sans" font-style="normal" font-size="1" fill="#000">0.9</text>
<defs><linearGradient id="cb" x1="0" y1="1" x2="0" y2="0"><stop offset="0.0000" stop-color="#ffffff"/><stop offset="0.0156" stop-color="#efe2fa"/><stop offset="0.0312" stop-color="#e6d7f9"/><stop offset="0.0469" stop-color="#ddcff8"/><stop offset="0.0625" stop-color="#d4caf8"/><stop offset="0.0781" stop-color="#cbc6f7"/><stop offset="0.0938" stop-color="#c2c2f6"/><stop offset="0.1094" stop-color="#b8c0f5"/><stop offset="0.1250" stop-color="#aebef3"/><stop offset="0.1406" stop-color="#a4bef1"/><stop offset="0.1562" stop-color="#9abdee"/><stop offset="0.1719" stop-color="#91bdea"/><stop offset="0.1875" stop-color="#87bde5"/><stop offset="0.2031" stop-color="#7dbee0"/><stop offset="0.2188" stop-color="#74bfda"/><stop offset="0.2344" stop-color="#6bc0d3"/><stop offset="0.2500" stop-color="#63c1cb"/><stop offset="0.2656" stop-color="#5bc1c3"/><stop offset="0.2812" stop-color="#54c2ba"/><stop offset="0.2969" stop-color="#4ec3b0"/><stop offset="0.3125" stop-color="#49c4a6"/><stop offset="0.3281" stop-color="#44c49c"/><stop offset="0.3438" stop-color="#41c491"/><stop offset="0.3594" stop-color="#3ec385"/><stop offset="0.3750" stop-color="#3dc37a"/><stop offset="0.3906" stop-color="#3cc16e"/><stop offset="0.4062" stop-color="#3dc063"/><stop offset="0.4219" stop-color="#3ebd58"/><stop offset="0.4375" stop-color="#41bb4d"/><stop offset="0.4531" stop-color="#44b742"/><stop offset="0.4688" stop-color="#49b438"/><stop offset="0.4844" stop-color="#4eaf2e"/><stop offset="0.5000" stop-color="#54ab25"/><stop offset="0.5156" stop-color="#5ca51e"/><stop offset="0.5312" stop-color="#649e1a"/><stop offset="0.5469" stop-color="#6c9716"/><stop offset="0.5625" stop-color="#749014"/><stop offset="0.5781" stop-color="#7c8913"/><stop offset="0.5938" stop-color="#848213"/><stop offset="0.6094" stop-color="#8b7b14"/><stop offset="0.6250" stop-color="#927416"/><stop offset="0.6406" stop-color="#986e18"/><stop offset="0.6562" stop-color="#9d671b"/><stop offset="0.6719" stop-color="#a2611f"/><stop offset="0.6875" stop-color="#a65b24"/><stop offset="0.7031" stop-color="#aa5529"/><stop offset="0.7188" stop-color="#ac502e"/><stop offset="0.7344" stop-color="#ae4b34"/><stop offset="0.7500" stop-color="#af463a"/><stop offset="0.7656" stop-color="#b04241"/><stop offset="0.7812" stop-color="#af3e47"/><stop offset="0.7969" stop-color="#ae3b4d"/><stop offset="0.8125" stop-color="#ac3854"/><stop offset="0.8281" stop-color="#a9365a"/><stop offset="0.8438" stop-color="#a53460"/><stop offset="0.8594" stop-color="#a13266"/><stop offset="0.8750" stop-color="#9c316b"/><stop offset="0.8906" stop-color="#973070"/><stop offset="0.9062" stop-color="#912f75"/><stop offset="0.9219" stop-color="#8b2f79"/><stop offset="0.9375" stop-color="#84307c"/><stop offset="0.9531" stop-color="#7d307f"/><stop offset="0.9688" stop-color="#763181"/><stop offset="0.9844" stop-color="#6f3283"/><stop offset="1.0000" stop-color="#673384"/></linearGradient></defs>
<rect x="1575.00" y="300.40" width="76.20" height="562.90" fill="url(#cb)" stroke="#000" stroke-width="4.17"/>
<line x1="1651.20" y1="863.30" x2="1665.80" y2="863.30" stroke="#000" stroke-width="4.17" />
<text transform="matrix(52.3429 0 0 57.4000 1676.71 883.30)" font-family="Liberation Sans" font-style="normal" font-size="1" fill="#000">0.0</text>
<line x1="1651.20" y1="750.72" x2="1665.80" y2="750.72" stroke="#000" stroke-width="4.17" />
<text transform="matrix(52.8462 0 0 57.4000 1676.69 770.72)" font-family="Liberation Sans" font-style="normal" font-size="1" fill="#000">0.2</text>
<line x1="1651.20" y1="638.14" x2="1665.80" y2="638.14" stroke="#000" stroke-width="4.17" />
<text transform="matrix(51.9471 0 0 57.4000 1676.72 658.14)" font-family="Liberation Sans" font-style="normal" font-size="1" fill="#000">0.4</text>
<line x1="1651.20" y1="525.56" x2="1665.80" y2="525.56" stroke="#000" stroke-width="4.17" />
<text transform="matrix(52.5430 0 0 57.4000 1676.70 545.56)" font-family="Liberation Sans" font-style="normal" font-size="1" fill="#000">0.6</text>
<line x1="1651.20" y1="412.98" x2="1665.80" y2="412.98" stroke="#000" stroke-width="4.17" />
<text transform="matrix(52.5430 0 0 57.4000 1676.70 432.98)" font-family="Liberation Sans" font-style="normal" font-size="1" fill="#000">0.8</text>
<line x1="1651.20" y1="300.40" x2="1665.80" y2="300.40" stroke="#000" stroke-width="4.17" />
<text transform="matrix(51.4286 0 0 57.4000 1674.94 320.40)" font-family="Liberation Sans" font-style="normal" font-size="1" fill="#000">1.0</text>
<clipPath id="cc"><rect x="300.50" y="1088.30" width="1350.50" height="562.40"/></clipPath>
<line x1="493.40" y1="1088.30" x2="493.40" y2="1650.70" stroke="#b0b0b0" stroke-width="3.33" />
<line x1="686.34" y1="1088.30" x2="686.34" y2="1650.70" stroke="#b0b0b0" stroke-width="3.33" />
<line x1="879.28" y1="1088.30" x2="879.28" y2="1650.70" stroke="#b0b0b0" stroke-width="3.33" />
<line x1="1072.23" y1="1088.30" x2="1072.23" y2="1650.70" stroke="#b0b0b0" stroke-width="3.33" />
<line x1="1265.17" y1="1088.30" x2="1265.17" y2="1650.70" stroke="#b0b0b0" stroke-width="3.33" />
<line x1="1458.11" y1="1088.30" x2="1458.11" y2="1650.70" stroke="#b0b0b0" stroke-width="3.33" />
<line x1="300.50" y1="1161.50" x2="1651.00" y2="1161.50" stroke="#b0b0b0" stroke-width="3.33" />
<line x1="300.50" y1="1406.20" x2="1651.00" y2="1406.20" stroke="#b0b0b0" stroke-width="3.33" />
<line x1="493.40" y1="1088.30" x2="493.40" y2="1650.70" stroke="#ff7f0e" stroke-width="12.50" />
<line x1="647.60" y1="1088.30" x2="647.60" y2="1650.70" stroke="#e377c2" stroke-width="12.50" />
<polyline points="431.7,1424.6 434.7,1402.1 437.8,1380.7 440.9,1360.3 444.0,1341.0 447.1,1322.6 450.2,1305.3 453.3,1289.0 456.4,1273.7 459.4,1259.4 462.5,1246.2 465.6,1233.9 468.7,1222.7 471.8,1212.5 474.9,1203.3 478.0,1195.0 481.1,1187.8 484.1,1181.6 487.2,1176.4 490.3,1172.2 493.4,1168.9 496.5,1166.6 499.6,1165.3 502.7,1165.0 505.7,1165.6 508.8,1167.1 511.9,1169.5 515.0,1172.8 518.1,1177.0 521.2,1182.0 524.3,1187.8 527.4,1194.4 530.4,1201.7 533.5,1209.7 536.6,1218.2 539.7,1227.2 542.8,1236.7 545.9,1246.5 549.0,1256.4 552.1,1266.5 555.1,1276.4 558.2,1286.2 561.3,1295.7 564.4,1304.6 567.5,1313.0 570.6,1320.7 573.7,1327.7 576.8,1333.9 579.8,1339.4 582.9,1344.1 586.0,1348.1 589.1,1351.4 592.2,1354.3 595.3,1356.6 598.4,1358.6 601.4,1360.2 604.5,1361.5 607.6,1362.7 610.7,1363.7 613.8,1364.6 616.9,1365.3 620.0,1366.1 623.1,1366.7 626.1,1367.3 629.2,1367.9 632.3,1368.5 635.4,1369.1 638.5,1369.6 641.6,1370.2 644.7,1370.7 647.8,1371.3 650.8,1371.8 653.9,1372.4 657.0,1372.9 660.1,1373.5 663.2,1374.0 666.3,1374.5 669.4,1375.1 672.5,1375.6 675.5,1376.2 678.6,1376.7 681.7,1377.2 684.8,1377.8 687.9,1378.3 691.0,1378.8 694.1,1379.4 697.1,1379.9 700.2,1380.5 703.3,1381.0 706.4,1381.5 709.5,1382.1 712.6,1382.6 715.7,1383.2 718.8,1383.7 721.8,1384.2 724.9,1384.8 728.0,1385.3 731.1,1385.9 734.2,1386.4 737.3,1386.9 740.4,1387.5 743.5,1388.0 746.5,1388.6 749.6,1389.1 752.7,1389.6 755.8,1390.2 758.9,1390.7 762.0,1391.3 765.1,1391.8 768.2,1392.3 771.2,1392.9 774.3,1393.4 777.4,1394.0 780.5,1394.5 783.6,1395.0 786.7,1395.6 789.8,1396.1 792.8,1396.7 795.9,1397.2 799.0,1397.7 802.1,1398.3 805.2,1398.8 808.3,1399.3 811.4,1399.9 814.5,1400.4 817.5,1401.0 820.6,1401.5 823.7,1402.0 826.8,1402.6 829.9,1403.1 833.0,1403.7 836.1,1404.2 839.2,1404.7 842.2,1405.3 845.3,1405.8 848.4,1406.4 851.5,1406.9 854.6,1407.4 857.7,1408.0 860.8,1408.5 863.8,1409.1 866.9,1409.6 870.0,1410.1 873.1,1410.7 876.2,1411.2 879.3,1411.8 882.4,1412.3 885.5,1412.8 888.5,1413.4 891.6,1413.9 894.7,1414.5 897.8,1415.0 900.9,1415.5 904.0,1416.1 907.1,1416.6 910.2,1417.1 913.2,1417.7 916.3,1418.2 919.4,1418.8 922.5,1419.3 925.6,1419.8 928.7,1420.4 931.8,1420.9 934.9,1421.5 937.9,1422.0 941.0,1422.5 944.1,1423.1 947.2,1423.6 950.3,1424.2 953.4,1424.7 956.5,1425.2 959.5,1425.8 962.6,1426.3 965.7,1426.9 968.8,1427.4 971.9,1427.9 975.0,1428.5 978.1,1429.0 981.2,1429.6 984.2,1430.1 987.3,1430.6 990.4,1431.2 993.5,1431.7 996.6,1432.3 999.7,1432.8 1002.8,1433.3 1005.9,1433.9 1008.9,1434.4 1012.0,1434.9 1015.1,1435.5 1018.2,1436.0 1021.3,1436.6 1024.4,1437.1 1027.5,1437.6 1030.6,1438.2 1033.6,1438.7 1036.7,1439.3 1039.8,1439.8 1042.9,1440.3 1046.0,1440.9 1049.1,1441.4 1052.2,1442.0 1055.2,1442.5 1058.3,1443.0 1061.4,1443.6 1064.5,1444.1 1067.6,1444.7 1070.7,1445.2 1073.8,1445.7 1076.9,1446.3 1079.9,1446.8 1083.0,1447.4 1086.1,1447.9 1089.2,1448.4 1092.3,1449.0 1095.4,1449.5 1098.5,1450.1 1101.6,1450.6 1104.6,1451.1 1107.7,1451.7 1110.8,1452.2 1113.9,1452.7 1117.0,1453.3 1120.1,1453.8 1123.2,1454.4 1126.3,1454.9 1129.3,1455.4 1132.4,1456.0 1135.5,1456.5 1138.6,1457.1 1141.7,1457.6 1144.8,1458.1 1147.9,1458.7 1150.9,1459.2 1154.0,1459.8 1157.1,1460.3 1160.2,1460.8 1163.3,1461.4 1166.4,1461.9 1169.5,1462.5 1172.6,1463.0 1175.6,1463.5 1178.7,1464.1 1181.8,1464.6 1184.9,1465.2 1188.0,1465.7 1191.1,1466.2 1194.2,1466.8 1197.3,1467.3 1200.3,1467.9 1203.4,1468.4 1206.5,1468.9 1209.6,1469.5 1212.7,1470.0 1215.8,1470.5 1218.9,1471.1 1222.0,1471.6 1225.0,1472.2 1228.1,1472.7 1231.2,1473.2 1234.3,1473.8 1237.4,1474.3 1240.5,1474.9 1243.6,1475.4 1246.6,1475.9 1249.7,1476.5 1252.8,1477.0 1255.9,1477.6 1259.0,1478.1 1262.1,1478.6 1265.2,1479.2 1268.3,1479.7 1271.3,1480.3 1274.4,1480.8 1277.5,1481.3 1280.6,1481.9 1283.7,1482.4 1286.8,1483.0 1289.9,1483.5 1293.0,1484.0 1296.0,1484.6 1299.1,1485.1 1302.2,1485.7 1305.3,1486.2 1308.4,1486.7 1311.5,1487.3 1314.6,1487.8 1317.7,1488.3 1320.7,1488.9 1323.8,1489.4 1326.9,1490.0 1330.0,1490.5 1333.1,1491.0 1336.2,1491.6 1339.3,1492.1 1342.3,1492.7 1345.4,1493.2 1348.5,1493.7 1351.6,1494.3 1354.7,1494.8 1357.8,1495.4 1360.9,1495.9 1364.0,1496.4 1367.0,1497.0 1370.1,1497.5 1373.2,1498.1 1376.3,1498.6 1379.4,1499.1 1382.5,1499.7 1385.6,1500.2 1388.7,1500.8 1391.7,1501.3 1394.8,1501.8 1397.9,1502.4 1401.0,1502.9 1404.1,1503.5 1407.2,1504.0 1410.3,1504.5 1413.3,1505.1 1416.4,1505.6 1419.5,1506.1 1422.6,1506.7 1425.7,1507.2 1428.8,1507.8 1431.9,1508.3 1435.0,1508.8 1438.0,1509.4 1441.1,1509.9 1444.2,1510.5 1447.3,1511.0 1450.4,1511.5 1453.5,1512.1 1456.6,1512.6 1459.7,1513.2 1462.7,1513.7 1465.8,1514.2 1468.9,1514.8 1472.0,1515.3 1475.1,1515.9 1478.2,1516.4 1481.3,1516.9 1484.4,1517.5 1487.4,1518.0 1490.5,1518.6 1493.6,1519.1 1496.7,1519.6 1499.8,1520.2 1502.9,1520.7 1506.0,1521.3 1509.0,1521.8 1512.1,1522.3 1515.2,1522.9 1518.3,1523.4 1521.4,1523.9 1524.5,1524.5 1527.6,1525.0 1530.7,1525.6 1533.7,1526.1 1536.8,1526.6 1539.9,1527.2 1543.0,1527.7 1546.1,1528.3 1549.2,1528.8 1552.3,1529.3 1555.4,1529.9 1558.4,1530.4 1561.5,1531.0 1564.6,1531.5 1567.7,1532.0 1570.8,1532.6 1573.9,1533.1 1577.0,1533.7 1580.1,1534.2 1583.1,1534.7 1586.2,1535.3 1589.3,1535.8 1592.4,1536.4 1595.5,1536.9 1598.6,1537.4 1601.7,1538.0 1604.7,1538.5 1607.8,1539.1 1610.9,1539.6 1614.0,1540.1 1617.1,1540.7 1620.2,1541.2 1623.3,1541.8 1626.4,1542.3 1629.4,1542.8 1632.5,1543.4 1635.6,1543.9 1638.7,1544.4 1641.8,1545.0 1644.9,1545.5 1648.0,1546.1 1651.1,1546.6 1654.1,1547.1 1657.2,1547.7 1660.3,1548.2 1663.4,1548.8" fill="none" stroke="#0000ff" stroke-opacity="0.3" stroke-width="41.7" stroke-linejoin="round" clip-path="url(#cc)"/>
<polyline points="339.0,1588.9 354.5,1477.8 369.9,1497.3 385.3,1530.3 385.6,1700.0" fill="none" stroke="#0000ff" stroke-width="8.33" stroke-linejoin="round" clip-path="url(#cc)"/>
<polyline points="415.9,1700.0 416.2,1438.8 431.7,1395.2 447.1,1366.7 462.5,1269.7 478.0,1172.5 493.4,1161.7 508.8,1161.1 524.3,1182.7 539.7,1210.6 555.1,1225.6 570.6,1273.6 586.0,1377.2 601.5,1370.6 616.9,1369.7 632.3,1359.8 647.8,1370.6 663.2,1364.6 678.6,1360.7 694.1,1362.2 709.5,1360.1 724.9,1370.6 740.4,1385.3 755.8,1412.6 771.2,1431.8 786.7,1410.2 802.1,1404.8 817.6,1391.1 833.0,1390.4 848.4,1390.0 863.9,1399.5 879.3,1411.6 894.7,1410.9 910.2,1416.1 925.6,1424.1 941.0,1442.3 956.5,1450.8 971.9,1457.1 987.4,1450.8 1002.8,1425.3 1018.2,1415.5 1033.7,1413.4 1049.1,1422.3 1064.5,1434.8 1080.0,1455.3 1095.4,1478.8 1110.8,1485.6 1126.3,1470.3 1141.7,1464.4 1157.1,1469.7 1172.6,1468.1 1188.0,1463.5 1203.5,1459.9 1218.9,1456.0 1234.3,1449.6 1249.8,1451.4 1265.2,1475.4 1280.6,1510.7 1296.1,1540.3 1311.5,1518.6 1326.9,1514.5 1342.4,1475.4 1357.8,1468.1 1373.3,1469.0 1388.7,1485.6 1404.1,1490.2 1419.6,1495.2 1435.0,1498.6 1450.4,1511.8 1465.9,1516.8 1481.3,1532.8 1496.7,1553.9 1512.2,1535.7 1527.6,1516.4 1543.0,1494.7 1558.5,1498.8 1573.9,1489.0 1589.4,1503.4 1604.8,1531.2 1620.2,1573.3 1635.7,1589.2 1651.1,1550.5" fill="none" stroke="#0000ff" stroke-width="8.33" stroke-linejoin="round" clip-path="url(#cc)"/>
<rect x="300.50" y="1088.30" width="1350.50" height="562.40" fill="none" stroke="#000" stroke-width="4.17"/>
<line x1="300.46" y1="1650.70" x2="300.46" y2="1665.30" stroke="#000" stroke-width="4.17" />
<line x1="493.40" y1="1650.70" x2="493.40" y2="1665.30" stroke="#000" stroke-width="4.17" />
<line x1="686.34" y1="1650.70" x2="686.34" y2="1665.30" stroke="#000" stroke-width="4.17" />
<line x1="879.28" y1="1650.70" x2="879.28" y2="1665.30" stroke="#000" stroke-width="4.17" />
<line x1="1072.23" y1="1650.70" x2="1072.23" y2="1665.30" stroke="#000" stroke-width="4.17" />
<line x1="1265.17" y1="1650.70" x2="1265.17" y2="1665.30" stroke="#000" stroke-width="4.17" />
<line x1="1458.11" y1="1650.70" x2="1458.11" y2="1665.30" stroke="#000" stroke-width="4.17" />
<line x1="1651.05" y1="1650.70" x2="1651.05" y2="1665.30" stroke="#000" stroke-width="4.17" />
<line x1="285.90" y1="1161.50" x2="300.50" y2="1161.50" stroke="#000" stroke-width="4.17" />
<line x1="285.90" y1="1406.20" x2="300.50" y2="1406.20" stroke="#000" stroke-width="4.17" />
<line x1="285.90" y1="1650.90" x2="300.50" y2="1650.90" stroke="#000" stroke-width="4.17" />
<line x1="292.17" y1="1577.24" x2="300.50" y2="1577.24" stroke="#000" stroke-width="2.50" />
<line x1="292.17" y1="1534.15" x2="300.50" y2="1534.15" stroke="#000" stroke-width="2.50" />
<line x1="292.17" y1="1503.58" x2="300.50" y2="1503.58" stroke="#000" stroke-width="2.50" />
<line x1="292.17" y1="1479.86" x2="300.50" y2="1479.86" stroke="#000" stroke-width="2.50" />
<line x1="292.17" y1="1460.49" x2="300.50" y2="1460.49" stroke="#000" stroke-width="2.50" />
<line x1="292.17" y1="1444.10" x2="300.50" y2="1444.10" stroke="#000" stroke-width="2.50" />
<line x1="292.17" y1="1429.91" x2="300.50" y2="1429.91" stroke="#000" stroke-width="2.50" />
<line x1="292.17" y1="1417.40" x2="300.50" y2="1417.40" stroke="#000" stroke-width="2.50" />
<line x1="292.17" y1="1332.54" x2="300.50" y2="1332.54" stroke="#000" stroke-width="2.50" />
<line x1="292.17" y1="1289.45" x2="300.50" y2="1289.45" stroke="#000" stroke-width="2.50" />
<line x1="292.17" y1="1258.88" x2="300.50" y2="1258.88" stroke="#000" stroke-width="2.50" />
<line x1="292.17" y1="1235.16" x2="300.50" y2="1235.16" stroke="#000" stroke-width="2.50" />
<line x1="292.17" y1="1215.79" x2="300.50" y2="1215.79" stroke="#000" stroke-width="2.50" />
<line x1="292.17" y1="1199.40" x2="300.50" y2="1199.40" stroke="#000" stroke-width="2.50" />
<line x1="292.17" y1="1185.21" x2="300.50" y2="1185.21" stroke="#000" stroke-width="2.50" />
<line x1="292.17" y1="1172.70" x2="300.50" y2="1172.70" stroke="#000" stroke-width="2.50" />
<line x1="292.17" y1="1087.84" x2="300.50" y2="1087.84" stroke="#000" stroke-width="2.50" />
<rect x="322.95" y="1109.75" width="76.20" height="111.20" fill="#fff" stroke="#808080" stroke-width="3.50"/>
<text transform="matrix(63.0233 0 0 60.6393 342.62 1182.79)" font-family="Liberation Sans" font-style="normal" font-size="1" fill="#000">c</text>
<rect x="1109.70" y="1116.70" width="511.50" height="221.20" fill="#fff" stroke="#808080" stroke-width="3.40"/>
<line x1="1149.90" y1="1180.90" x2="1274.10" y2="1180.90" stroke="#0000ff" stroke-width="8.50" />
<rect x="1132.80" y="1240.80" width="158.40" height="42.20" fill="#b3b3ff" stroke="none" stroke-width="0.00"/>
<text transform="matrix(52.5166 0 0 57.1950 1314.37 1202.00)" font-family="Liberation Sans" font-style="normal" font-size="1" fill="#000">experiment</text>
<text transform="matrix(62.9139 0 0 61.5000 1316.66 1282.10)" font-family="Liberation Sans" font-style="normal" font-size="1" fill="#000">fit</text>
<text transform="matrix(51.3924 0 0 57.4000 253.63 1719.50)" font-family="Liberation Sans" font-style="normal" font-size="1" fill="#000">250</text>
<text transform="matrix(50.8901 0 0 57.4000 476.96 1719.50)" font-family="Liberation Sans" font-style="normal" font-size="1" fill="#000">0</text>
<rect x="620.10" y="1705.80" width="36.60" height="3.80" fill="#000" stroke="none" stroke-width="0.00"/>
<text transform="matrix(50.8228 0 0 57.4000 660.56 1719.50)" font-family="Liberation Sans" font-style="normal" font-size="1" fill="#000">250</text>
<rect x="813.80" y="1705.80" width="36.60" height="3.80" fill="#000" stroke="none" stroke-width="0.00"/>
<text transform="matrix(50.1258 0 0 57.4000 854.79 1719.50)" font-family="Liberation Sans" font-style="normal" font-size="1" fill="#000">500</text>
<rect x="1007.10" y="1705.80" width="36.60" height="3.80" fill="#000" stroke="none" stroke-width="0.00"/>
<text transform="matrix(50.1266 0 0 57.4000 1047.59 1719.50)" font-family="Liberation Sans" font-style="normal" font-size="1" fill="#000">750</text>
<rect x="1186.50" y="1705.80" width="36.60" height="3.80" fill="#000" stroke="none" stroke-width="0.00"/>
<text transform="matrix(51.1848 0 0 57.4000 1225.66 1719.50)" font-family="Liberation Sans" font-style="normal" font-size="1" fill="#000">1000</text>
<rect x="1378.80" y="1705.80" width="36.60" height="3.80" fill="#000" stroke="none" stroke-width="0.00"/>
<text transform="matrix(50.7109 0 0 57.4000 1418.00 1719.50)" font-family="Liberation Sans" font-style="normal" font-size="1" fill="#000">1250</text>
<rect x="1571.10" y="1705.80" width="36.60" height="3.80" fill="#000" stroke="none" stroke-width="0.00"/>
<text transform="matrix(50.4739 0 0 57.4000 1610.31 1719.50)" font-family="Liberation Sans" font-style="normal" font-size="1" fill="#000">1500</text>
<text transform="matrix(51.3283 0 0 57.4000 187.95 1180.40)" font-family="Liberation Sans" font-style="normal" font-size="1" fill="#000">10</text>
<text transform="matrix(39.1623 0 0 40.5000 244.03 1158.90)" font-family="Liberation Sans" font-style="normal" font-size="1" fill="#000">0</text>
<text transform="matrix(49.6241 0 0 57.4000 156.98 1425.40)" font-family="Liberation Sans" font-style="normal" font-size="1" fill="#000">10</text>
<text transform="matrix(35.8382 0 0 40.5000 245.01 1404.40)" font-family="Liberation Sans" font-style="normal" font-size="1" fill="#000">1</text>
<rect x="214.60" y="1392.20" width="26.40" height="2.60" fill="#000" stroke="none" stroke-width="0.00"/>
<text transform="matrix(49.3233 0 0 57.4000 157.20 1668.40)" font-family="Liberation Sans" font-style="normal" font-size="1" fill="#000">10</text>
<text transform="matrix(38.6813 0 0 40.5000 244.97 1648.50)" font-family="Liberation Sans" font-style="normal" font-size="1" fill="#000">2</text>
<rect x="214.80" y="1636.60" width="25.60" height="2.60" fill="#000" stroke="none" stroke-width="0.00"/>
<defs><path id="tau" d="M7.0,17.9 L7.0,15.2 C8.8,12.4 11.5,8.4 15.3,7.0 L42.0,7.0 L42.8,8.5 L42.0,10.9 L26.9,10.9 L25.9,17.6 L24.1,27.7 L22,38 L21,39.9 L16,39.9 L16,36.2 L19.2,26.1 L22,16.3 L24.1,10.9 L17.9,11.2 C14.5,11.8 11.2,14 8.8,17.9 Z"/></defs>
<use href="#tau" x="424.70" y="225.00"/>
<text transform="matrix(47.5248 0 0 50.5000 461.02 274.70)" font-family="Liberation Sans" font-style="normal" font-size="1" fill="#000">22</text>
<text transform="matrix(73.3333 0 0 83.8298 507.03 294.31)" font-family="Liberation Serif" font-style="italic" font-size="1" fill="#000">′</text>
<rect x="552.80" y="236.80" width="47.50" height="4.00" fill="#000" stroke="none" stroke-width="0.00"/>
<rect x="552.80" y="249.40" width="47.50" height="4.00" fill="#000" stroke="none" stroke-width="0.00"/>
<text transform="matrix(65.1309 0 0 72.9000 623.39 264.50)" font-family="Liberation Sans" font-style="normal" font-size="1" fill="#000">0</text>
<text transform="matrix(62.8179 0 0 72.9000 683.16 264.50)" font-family="Liberation Sans" font-style="normal" font-size="1" fill="#000">fs</text>
<use href="#tau" x="1006.50" y="225.00"/>
<text transform="matrix(44.2574 0 0 50.5000 1041.19 274.70)" font-family="Liberation Sans" font-style="normal" font-size="1" fill="#000">22</text>
<text transform="matrix(78.3333 0 0 83.8298 1081.98 294.31)" font-family="Liberation Serif" font-style="italic" font-size="1" fill="#000">′</text>
<rect x="1127.10" y="236.80" width="47.20" height="4.00" fill="#000" stroke="none" stroke-width="0.00"/>
<rect x="1127.10" y="249.40" width="47.20" height="4.00" fill="#000" stroke="none" stroke-width="0.00"/>
<rect x="1201.90" y="244.80" width="44.40" height="4.00" fill="#000" stroke="none" stroke-width="0.00"/>
<text transform="matrix(62.0886 0 0 72.9000 1250.20 264.50)" font-family="Liberation Sans" font-style="normal" font-size="1" fill="#000">200</text>
<text transform="matrix(62.4055 0 0 72.9000 1375.86 264.50)" font-family="Liberation Sans" font-style="normal" font-size="1" fill="#000">fs</text>
<use href="#tau" x="855.80" y="1756.80"/>
<text transform="matrix(47.3267 0 0 50.5000 892.43 1806.50)" font-family="Liberation Sans" font-style="normal" font-size="1" fill="#000">22</text>
<text transform="matrix(75.0000 0 0 83.8298 937.95 1826.11)" font-family="Liberation Serif" font-style="italic" font-size="1" fill="#000">′</text>
<text transform="matrix(72.0755 0 0 80.3217 984.50 1798.23)" font-family="Liberation Sans" font-style="normal" font-size="1" fill="#000">(</text>
<text transform="matrix(62.9553 0 0 72.9000 1011.06 1796.30)" font-family="Liberation Sans" font-style="normal" font-size="1" fill="#000">fs</text>
<text transform="matrix(69.8113 0 0 80.3217 1062.28 1798.23)" font-family="Liberation Sans" font-style="normal" font-size="1" fill="#000">)</text>
<defs><g id="hw" fill="#000" stroke="#000" stroke-linecap="round" stroke-linejoin="round"><path stroke="none" d="M11.8,11.2 L23.9,11.2 L23,14.9 L20.5,26.1 L18.6,32.9 L14.9,49.7 L11.5,61.5 L9.3,64 L5.9,64 L5.9,58.4 L8.1,49.7 L13.4,26.1 L16.8,14.9 L11.8,14.9 Z"/><path fill="none" stroke-width="1.7" stroke-linecap="butt" d="M9.9,20.9 L37.9,21.2"/><path fill="none" stroke-width="2.6" d="M18.3,34.6 C21,31.8 25.5,30.2 30.5,31.2"/><path fill="none" stroke-width="4.9" stroke-linecap="butt" d="M29.5,31.6 C33.5,32.2 35.4,34.8 35.0,38.5 C34.5,43.5 30.5,52.5 28.7,58.2"/><path fill="none" stroke-width="2.7" d="M28.3,57.6 C27.6,60.8 29.6,62.8 32.8,62.6 C36.8,62.4 40,58.5 42.4,52.8"/><path fill="none" stroke-width="3.9" d="M51.3,31.4 C47,36.5 44.2,45 44.5,52 C44.8,58.5 48,62.0 52.5,62.0 C57.5,62.0 61.8,56.5 63.2,50 L64.8,42.3"/><path fill="none" stroke-width="3.9" d="M63.4,47 C61.6,55.5 64,62.0 70,62.0 C77,62.0 82.5,52.5 84.8,42.5 C85.5,39 85.2,36.5 84.2,34.5"/><circle stroke="none" cx="83.3" cy="33.4" r="3.5"/></g></defs>
<g><use href="#hw" x="440" y="945"/><text transform="matrix(41.6185 0 0 50.5000 528.98 1018.70)" font-family="Liberation Sans" font-style="normal" font-size="1" fill="#000">1</text><text transform="matrix(70.1887 0 0 80.5362 579.91 1010.29)" font-family="Liberation Sans" font-style="normal" font-size="1" fill="#000">(</text><text transform="matrix(60.2128 0 0 72.9000 605.14 1009.00)" font-family="Liberation Sans" font-style="normal" font-size="1" fill="#000">e</text><text transform="matrix(67.6806 0 0 75.0870 637.76 1009.00)" font-family="Liberation Sans" font-style="normal" font-size="1" fill="#000">V</text><text transform="matrix(68.6792 0 0 80.5362 688.28 1010.29)" font-family="Liberation Sans" font-style="normal" font-size="1" fill="#000">)</text></g>
<g transform="translate(637.5 0)"><use href="#hw" x="440" y="945"/><text transform="matrix(41.6185 0 0 50.5000 528.98 1018.70)" font-family="Liberation Sans" font-style="normal" font-size="1" fill="#000">1</text><text transform="matrix(70.1887 0 0 80.5362 579.91 1010.29)" font-family="Liberation Sans" font-style="normal" font-size="1" fill="#000">(</text><text transform="matrix(60.2128 0 0 72.9000 605.14 1009.00)" font-family="Liberation Sans" font-style="normal" font-size="1" fill="#000">e</text><text transform="matrix(67.6806 0 0 75.0870 637.76 1009.00)" font-family="Liberation Sans" font-style="normal" font-size="1" fill="#000">V</text><text transform="matrix(68.6792 0 0 80.5362 688.28 1010.29)" font-family="Liberation Sans" font-style="normal" font-size="1" fill="#000">)</text></g>
<g transform="translate(155.60 717.30) rotate(-90) translate(-446 -1009)"><use href="#hw" x="440" y="945"/><text transform="matrix(52.7473 0 0 50.5000 526.36 1018.70)" font-family="Liberation Sans" font-style="normal" font-size="1" fill="#000">2</text><text transform="matrix(70.1887 0 0 80.5362 579.91 1010.29)" font-family="Liberation Sans" font-style="normal" font-size="1" fill="#000">(</text><text transform="matrix(60.2128 0 0 72.9000 605.14 1009.00)" font-family="Liberation Sans" font-style="normal" font-size="1" fill="#000">e</text><text transform="matrix(67.6806 0 0 75.0870 637.76 1009.00)" font-family="Liberation Sans" font-style="normal" font-size="1" fill="#000">V</text><text transform="matrix(68.6792 0 0 80.5362 688.28 1010.29)" font-family="Liberation Sans" font-style="normal" font-size="1" fill="#000">)</text></g>
<g transform="translate(1819.80 722.00) rotate(-90)"><text transform="matrix(66.2353 0 0 68.5260 -2.81 0.00)" font-family="Liberation Sans" font-style="normal" font-size="1" fill="#000">amplitude</text></g>
<g transform="translate(129.90 1511.90) rotate(-90)"><text transform="matrix(66.9882 0 0 68.5260 -2.85 0.00)" font-family="Liberation Sans" font-style="normal" font-size="1" fill="#000">amplitude</text></g>
</svg></div></body></html>
